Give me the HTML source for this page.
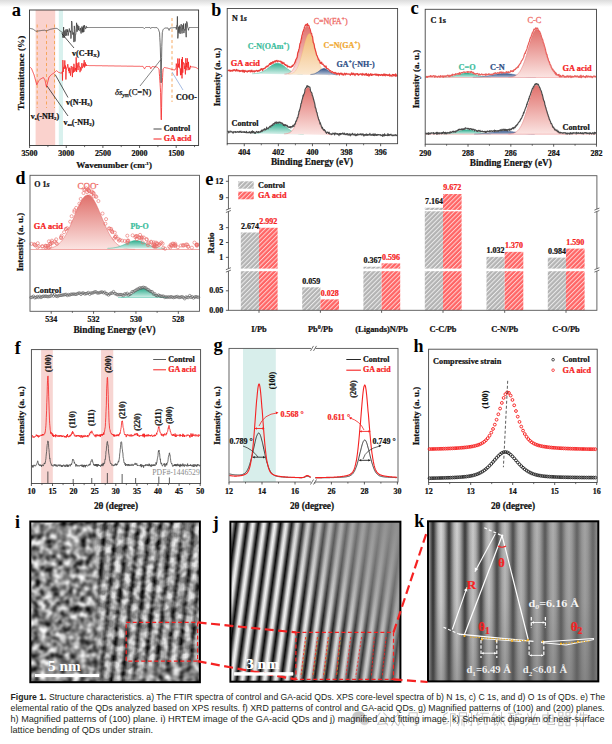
<!DOCTYPE html><html><head><meta charset="utf-8"><style>html,body{margin:0;padding:0;background:#fff;overflow:hidden}svg{display:block}</style></head><body>
<svg width="612" height="744" viewBox="0 0 612 744">
<defs>
<linearGradient id="topg" x1="0" y1="0" x2="0" y2="1"><stop offset="0" stop-color="#dcdcdc"/><stop offset="1" stop-color="#ffffff"/></linearGradient>
<linearGradient id="gRed" x1="0" y1="0" x2="0" y2="1"><stop offset="0" stop-color="#e0706b"/><stop offset="1" stop-color="#fbe4e2"/></linearGradient>
<linearGradient id="gTeal" x1="0" y1="0" x2="0" y2="1"><stop offset="0" stop-color="#2fae8e"/><stop offset="1" stop-color="#d2efe8"/></linearGradient>
<linearGradient id="gOr" x1="0" y1="0" x2="0" y2="1"><stop offset="0" stop-color="#f2bd74"/><stop offset="1" stop-color="#fbe8cf"/></linearGradient>
<linearGradient id="gBlue" x1="0" y1="0" x2="0" y2="1"><stop offset="0" stop-color="#34558a"/><stop offset="1" stop-color="#b8c4d8"/></linearGradient>
<pattern id="hG" patternUnits="userSpaceOnUse" width="3.2" height="3.2" patternTransform="rotate(45)"><rect width="3.2" height="3.2" fill="#b3b3b3"/><rect width="1" height="3.2" fill="#ececec"/></pattern>
<pattern id="hR" patternUnits="userSpaceOnUse" width="3.2" height="3.2" patternTransform="rotate(45)"><rect width="3.2" height="3.2" fill="#ff6464"/><rect width="1" height="3.2" fill="#ffd0d0"/></pattern>
</defs>
<rect x="0" y="0" width="612" height="744" fill="#fff"/>
<rect x="0" y="0" width="612" height="7" fill="url(#topg)"/>
<rect x="35.6" y="10" width="19.6" height="135.5" fill="#fad2cd"/>
<rect x="58.8" y="10" width="4.2" height="135.5" fill="#d9f1ee"/>
<line x1="37.2" y1="24.5" x2="37.2" y2="108" stroke="#f5a050" stroke-width="0.9" stroke-dasharray="3 2.5"/>
<line x1="46.5" y1="24.5" x2="46.5" y2="108" stroke="#f5a050" stroke-width="0.9" stroke-dasharray="3 2.5"/>
<line x1="54.5" y1="24.5" x2="54.5" y2="108" stroke="#f5a050" stroke-width="0.9" stroke-dasharray="3 2.5"/>
<line x1="172" y1="18" x2="172" y2="102" stroke="#f5a050" stroke-width="0.9" stroke-dasharray="3 2.5"/>
<polyline points="29.8,28.4 30.1,28.4 30.3,28.5 30.6,28.5 30.8,28.6 31.1,28.6 31.3,28.7 31.6,28.7 31.8,28.8 32,28.8 32.3,28.9 32.5,28.9 32.8,29 33,29 33.3,29.2 33.5,29.4 33.8,29.6 34,29.8 34.3,30 34.5,30.2 34.8,30.4 35,30.6 35.3,30.8 35.5,31 35.8,31.1 36,31.3 36.3,31.3 36.5,31.2 36.8,31.2 37,31.1 37.3,31.1 37.5,31.1 37.8,31 38,31 38.3,31 38.5,30.9 38.8,30.9 39,30.8 39.3,30.8 39.5,30.8 39.8,30.7 40,30.7 40.3,30.7 40.5,30.6 40.8,30.6 41,30.5 41.3,30.5 41.5,30.5 41.8,30.4 42,30.4 42.3,30.4 42.5,30.4 42.8,30.3 43,30.3 43.3,30.3 43.5,30.3 43.8,30.3 44,30.2 44.3,30.2 44.5,30.2 44.8,30.3 45,30.4 45.3,30.5 45.5,30.6 45.8,30.7 46,30.7 46.3,30.8 46.5,30.9 46.8,30.8 47,30.7 47.3,30.6 47.5,30.4 47.8,30.3 48,30.2 48.3,30.1 48.5,30 48.8,29.9 49,29.8 49.3,29.7 49.5,29.6 49.8,29.5 50,29.4 50.3,29.3 50.5,29.3 50.8,29.2 51,29.2 51.3,29.1 51.5,29.1 51.8,29 52,29 52.3,28.9 52.5,28.9 52.8,28.8 53,28.8 53.3,28.7 53.5,28.7 53.8,28.6 54,28.6 54.3,28.5 54.5,28.5 54.8,28.4 55,28.4 55.3,28.4 55.5,28.4 55.8,28.4 56,28.4 56.3,28.4 56.5,28.4 56.8,28.4 57,28.4 57.3,28.6 57.5,28.8 57.8,29 58,29.2 58.3,29.4 58.5,29.6 58.8,29.8 59,30 59.3,30.2 59.5,30.4 59.8,30.5 60,30.7 60.3,30.9 60.5,31.1 60.8,31.3 61,31.5 61.3,31.7 61.5,31.9 61.8,32.1 62,32.3 62.3,32.2 62.5,35.4 62.9,37.7 63.3,35.2 63.6,27 64,37.9 64.4,35.6 64.8,30.6 65.2,36.1 65.5,34.9 65.9,29.5 66.3,33.1 66.7,35.6 67.1,29.1 67.4,31.9 67.8,30.3 68.2,35.6 68.6,32.7 69,31 69.3,28.5 69.7,31 70.1,32.3 70.5,30.8 70.9,38.6 71.2,37.1 71.6,21 72,22.4 72.4,30.9 72.8,34.6 73.1,32.7 73.5,32.7 73.9,42.1 74.3,25.9 74.7,29.5 75,41.5 75.4,34.5 75.8,34.5 76.2,28.5 76.6,22.8 76.9,31.8 77.3,31.4 77.7,24.7 78.1,27.4 78.5,30.2 78.8,26.1 79.2,29.9 79.6,30.7 80,30.3 80.4,27.9 80.7,32.4 81.1,33.5 81.5,31 81.9,26.5 82.3,32.3 82.6,27.6 83,32.4 83.4,25.6 83.8,32 84.2,28.9 84.5,25.2 84.9,27.9 85.3,28.7 85.7,29 86.1,26.3 86.4,26.3 86.8,28 87,27.5 87.3,27.5 87.5,27.5 87.8,27.5 88,27.5 88.3,27.5 88.5,27.5 88.8,27.5 89,27.5 89.3,27.5 89.5,27.5 89.8,27.5 90,27.5 90.3,27.5 90.5,27.5 90.8,27.5 91,27.5 91.3,27.5 91.5,27.5 91.8,27.5 92,27.5 92.3,27.5 92.5,27.5 92.8,27.5 93,27.5 93.3,27.5 93.5,27.5 93.8,27.5 94,27.5 94.3,27.5 94.5,27.5 94.8,27.5 95,27.5 95.3,27.5 95.5,27.5 95.8,27.5 96,27.5 96.3,27.5 96.5,27.5 96.8,27.5 97,27.5 97.3,27.5 97.5,27.5 97.8,27.5 98,27.5 98.3,27.5 98.5,27.5 98.8,27.5 99,27.5 99.3,27.5 99.5,27.5 99.8,27.5 100,27.5 100.3,27.5 100.5,27.5 100.8,27.5 101,27.5 101.3,27.5 101.5,27.5 101.8,27.5 102,27.5 102.3,27.5 102.5,27.5 102.8,27.5 103,27.5 103.3,27.5 103.5,27.5 103.8,27.5 104,27.5 104.3,27.5 104.5,27.5 104.8,27.5 105,27.5 105.3,27.5 105.5,27.5 105.8,27.5 106,27.5 106.3,27.5 106.5,27.5 106.8,27.5 107,27.5 107.3,27.5 107.5,27.5 107.8,27.5 108,27.5 108.3,27.5 108.5,27.5 108.8,27.5 109,27.5 109.3,27.5 109.5,27.5 109.8,27.5 110,27.5 110.3,27.5 110.5,27.5 110.8,27.5 111,27.5 111.3,27.5 111.5,27.5 111.8,27.5 112,27.5 112.3,27.5 112.5,27.5 112.8,27.5 113,27.5 113.3,27.5 113.5,27.5 113.8,27.5 114,27.5 114.3,27.5 114.5,27.5 114.8,27.5 115,27.5 115.3,27.5 115.5,27.5 115.8,27.5 116,27.5 116.3,27.5 116.5,27.5 116.8,27.5 117,27.5 117.3,27.5 117.5,27.5 117.8,27.5 118,27.5 118.3,27.5 118.5,27.5 118.8,27.5 119,27.5 119.3,27.5 119.5,27.5 119.8,27.5 120,27.5 120.3,27.5 120.5,27.5 120.8,27.5 121,27.5 121.3,27.5 121.5,27.5 121.8,27.5 122,27.5 122.3,27.5 122.5,27.5 122.8,27.5 123,27.5 123.3,27.5 123.5,27.5 123.8,27.5 124,27.5 124.3,27.5 124.5,27.5 124.8,27.5 125,27.5 125.3,27.5 125.5,27.5 125.8,27.5 126,27.5 126.3,27.5 126.5,27.5 126.8,27.5 127,27.5 127.3,27.5 127.5,27.5 127.8,27.5 128.1,27.5 128.3,27.5 128.6,27.5 128.8,27.5 129.1,27.5 129.3,27.5 129.6,27.5 129.8,27.5 130.1,27.5 130.3,27.5 130.6,27.5 130.8,27.5 131.1,27.5 131.3,27.5 131.6,27.5 131.8,27.5 132.1,27.5 132.3,27.5 132.6,27.5 132.8,27.5 133.1,27.5 133.3,27.5 133.6,27.5 133.8,27.5 134.1,27.5 134.3,27.5 134.6,27.5 134.8,27.5 135.1,27.5 135.3,27.5 135.6,27.5 135.8,27.5 136.1,27.5 136.3,27.5 136.6,27.5 136.8,27.5 137.1,27.5 137.3,27.5 137.6,27.5 137.8,27.5 138.1,27.5 138.3,27.5 138.6,27.5 138.8,27.5 139.1,27.5 139.3,27.5 139.6,27.5 139.8,27.5 140.1,27.5 140.3,27.5 140.6,27.5 140.8,27.5 141.1,27.5 141.3,27.5 141.6,27.5 141.8,27.5 142.1,27.5 142.3,27.5 142.6,27.5 142.8,27.5 143.1,27.5 143.3,27.7 143.6,27.9 143.8,28.1 144.1,28.3 144.3,28.5 144.6,28.4 144.8,28.2 145.1,27.9 145.3,27.7 145.6,27.5 145.8,27.5 146.1,27.5 146.3,27.5 146.6,27.5 146.8,27.5 147.1,27.5 147.3,27.5 147.6,27.5 147.8,27.5 148.1,27.5 148.3,27.5 148.6,27.5 148.8,27.5 149.1,27.5 149.3,27.5 149.6,27.5 149.8,27.5 150.1,27.6 150.3,28 150.6,28.4 150.8,28.5 151.1,28.1 151.3,27.8 151.6,27.5 151.8,27.5 152.1,27.5 152.3,27.5 152.6,27.5 152.8,27.5 153.1,27.5 153.3,27.5 153.6,27.5 153.8,27.5 154.1,27.5 154.3,27.6 154.6,27.6 154.8,27.6 155.1,27.6 155.3,27.6 155.6,27.6 155.8,27.6 156.1,27.6 156.3,27.6 156.6,27.6 156.8,27.6 157.1,27.7 157.3,28 157.6,28.3 157.8,28.6 158.1,28.9 158.3,29.2 158.6,29.7 158.8,30.5 159.1,31.3 159.3,32 159.6,32.8 159.8,37.3 160.1,42.6 160.3,47.9 160.6,58.9 160.8,73.6 161.1,82.9 161.3,70.2 161.6,57.6 161.8,46.6 162.1,38.1 162.3,32.6 162.6,31.5 162.8,30.4 163.1,29.5 163.3,29.3 163.6,29.1 163.8,28.9 164.1,28.7 164.3,28.5 164.6,28.3 164.8,28.1 165.1,28 165.3,28 165.6,28 165.8,28 166.1,28 166.3,28 166.6,28 166.8,28 167.1,28 167.3,28 167.6,28 167.8,28 168.1,28.1 168.3,28.8 168.6,29.4 168.8,30 169.1,30.4 169.3,29.7 169.6,29.1 169.8,28.5 170.1,28 170.3,28 170.6,28 170.8,27.9 171.1,27.9 171.3,27.9 171.6,27.9 171.8,27.8 172.1,27.8 172.3,27.8 172.6,27.8 172.8,27.8 173.1,27.7 173.3,27.7 173.6,27.7 173.8,27.7 174.1,27.7 174.3,27.6 174.6,27.6 174.8,27.6 175.1,27.6 175.3,27.6 175.6,27.5 175.8,27.5 176.1,27.5 176.3,29.5 176.7,25.6 177.1,26.2 177.4,16.4 177.8,38.4 178.2,34.8 178.6,26.7 179,32.8 179.3,30 179.7,25.5 180.1,33.9 180.5,26.8 180.9,26.7 181.2,24.1 181.6,31 182,33.5 182.4,31.5 182.8,25.2 183.1,29.2 183.5,23.6 183.9,33.1 184.3,29.5 184.7,30.1 185,30.4 185.4,23.5 185.8,31.9 186.2,37.2 186.6,21.5 186.9,21.6 187.3,22.8 187.7,27.6 188.1,28.4 188.5,30.3 188.8,28.7 189.1,27.5 189.3,27.5 189.6,27.5 189.8,27.5 190.1,27.5 190.3,27.5 190.6,27.5 190.8,27.5 191.1,27.5 191.3,27.5 191.6,27.5 191.8,27.5 192.1,27.5 192.3,27.5 192.6,27.5 192.8,27.5 193.1,27.5 193.3,27.5 193.6,27.5 193.8,27.5 194.1,27.5 194.3,27.5 194.6,27.5 194.8,27.5 195.1,27.5 195.3,27.5 195.6,27.5 195.8,27.5 196.1,27.5 196.3,27.5 196.6,27.5 196.8,27.5 197.1,27.5 197.3,27.5 197.6,27.5 197.8,27.5 198.1,27.5" fill="none" stroke="#3a3a3a" stroke-width="0.75" stroke-linejoin="round"/>
<polyline points="29.8,67.1 30.1,67.3 30.3,67.5 30.6,67.7 30.8,67.9 31.1,68.1 31.3,68.3 31.6,68.6 31.8,69.2 32,69.8 32.3,70.5 32.5,71.1 32.8,71.7 33,72.3 33.3,72.9 33.5,73.5 33.8,74.1 34,74.8 34.3,75.7 34.5,76.6 34.8,77.5 35,78.4 35.3,79.3 35.5,80.2 35.8,81.1 36,82 36.3,82.9 36.5,83.8 36.8,84.7 37,84.7 37.3,84.1 37.5,83.4 37.8,82.8 38,82.2 38.3,81.5 38.5,81 38.8,80.7 39,80.5 39.3,80.2 39.5,80 39.8,79.7 40,79.5 40.3,79.2 40.5,79 40.8,78.8 41,78.7 41.3,78.6 41.5,78.5 41.8,78.3 42,78.2 42.3,78.1 42.5,77.9 42.8,77.8 43,77.7 43.3,77.6 43.5,77.7 43.8,78.1 44,78.5 44.3,78.9 44.5,79.3 44.8,79.7 45,80.2 45.3,81.4 45.5,82.6 45.8,83.7 46,84.9 46.3,86.1 46.5,86.8 46.8,85.8 47,84.8 47.3,83.8 47.5,82.8 47.8,81.8 48,80.8 48.3,79.9 48.5,78.9 48.8,78 49,77.1 49.3,76.9 49.5,76.6 49.8,76.3 50,76 50.3,75.8 50.5,75.5 50.8,75.2 51,75 51.3,74.8 51.5,74.6 51.8,74.5 52,74.3 52.3,74.1 52.5,73.9 52.8,73.8 53,73.6 53.3,73.4 53.5,73.3 53.8,73 54,72.8 54.3,72.6 54.5,72.4 54.8,72.2 55,72 55.3,71.7 55.5,71.5 55.8,71.3 56,71.1 56.3,70.9 56.5,70.7 56.8,70.9 57,71.1 57.3,71.3 57.5,71.5 57.8,71.7 58,71.9 58.3,72.1 58.5,72.3 58.8,72.4 59,72.5 59.3,72.6 59.5,72.6 59.8,72.7 60,72.8 60.3,72.9 60.5,73 60.8,73.1 61,73.1 61.3,73.2 61.5,73.2 61.8,72.6 62,72.1 62.3,71.5 62.5,80.5 62.9,60.1 63.3,71.9 63.6,67.3 64,67.7 64.4,68.7 64.8,60.4 65.2,68.5 65.5,65.5 65.9,79.5 66.3,70.4 66.7,67.7 67.1,67.9 67.4,66.1 67.8,64.2 68.2,67.2 68.6,71.1 69,67.7 69.3,73.2 69.7,67.8 70.1,68.7 70.5,75.6 70.9,71 71.2,66.1 71.6,67.5 72,70.7 72.4,77.1 72.8,66.9 73.1,66.9 73.5,72.6 73.9,63.8 74.3,66.5 74.7,71.8 75,70.3 75.4,68 75.8,70.6 76.2,57.3 76.6,72 76.9,62.9 77.3,64.2 77.7,68.4 78.1,70.1 78.5,65.1 78.8,62.4 79.2,66.9 79.6,66.5 80,72.2 80.4,69.5 80.7,67.3 81.1,70.5 81.5,65.7 81.9,63.1 82.3,68.2 82.6,68 83,65.4 83.4,63.7 83.8,66.6 84.2,60.1 84.5,67.5 84.9,66.8 85.3,62.4 85.7,65.7 86.1,64.2 86.4,66 86.5,65.5 86.8,65.5 87,65.5 87.3,65.5 87.5,65.5 87.8,65.5 88,65.5 88.3,65.5 88.5,65.5 88.8,65.5 89,65.5 89.3,65.6 89.5,65.6 89.8,65.6 90,65.6 90.3,65.6 90.5,65.6 90.8,65.6 91,65.6 91.3,65.6 91.5,65.6 91.8,65.6 92,65.6 92.3,65.6 92.5,65.6 92.8,65.6 93,65.6 93.3,65.6 93.5,65.6 93.8,65.6 94,65.6 94.3,65.6 94.5,65.6 94.8,65.6 95,65.6 95.3,65.6 95.5,65.7 95.8,65.7 96,65.7 96.3,65.7 96.5,65.7 96.8,65.7 97,65.7 97.3,65.7 97.5,65.7 97.8,65.7 98,65.7 98.3,65.7 98.5,65.7 98.8,65.7 99,65.7 99.3,65.7 99.5,65.7 99.8,65.7 100,65.7 100.3,65.7 100.5,65.7 100.8,65.7 101,65.7 101.3,65.7 101.5,65.7 101.8,65.7 102,65.8 102.3,65.8 102.5,65.8 102.8,65.8 103,65.8 103.3,65.8 103.5,65.8 103.8,65.8 104,65.8 104.3,65.8 104.5,65.8 104.8,65.8 105,65.8 105.3,65.8 105.5,65.8 105.8,65.8 106,65.8 106.3,65.8 106.5,65.8 106.8,65.8 107,65.8 107.3,65.8 107.5,65.8 107.8,65.8 108,65.8 108.3,65.9 108.5,65.9 108.8,65.9 109,65.9 109.3,65.9 109.5,65.9 109.8,65.9 110,65.9 110.3,65.9 110.5,65.9 110.8,65.9 111,65.9 111.3,65.9 111.5,65.9 111.8,65.9 112,65.9 112.3,65.9 112.5,65.9 112.8,65.9 113,65.9 113.3,65.9 113.5,65.9 113.8,65.9 114,65.9 114.3,65.9 114.5,66 114.8,66 115,66 115.3,66 115.5,66 115.8,66 116,66 116.3,66 116.5,66 116.8,66 117,66 117.3,66 117.5,66 117.8,66 118,66 118.3,66 118.5,66 118.8,66 119,66 119.3,66 119.5,66 119.8,66 120,66 120.3,66 120.5,66 120.8,66 121,66.1 121.3,66.1 121.5,66.1 121.8,66.1 122,66.1 122.3,66.1 122.5,66.1 122.8,66.1 123,66.1 123.3,66.1 123.5,66.1 123.8,66.1 124,66.1 124.3,66.1 124.5,66.1 124.8,66.1 125,66.1 125.3,66.1 125.5,66.1 125.8,66.1 126,66.1 126.3,66.1 126.5,66.1 126.8,66.1 127,66.1 127.3,66.2 127.5,66.2 127.8,66.2 128.1,66.2 128.3,66.2 128.6,66.2 128.8,66.2 129.1,66.2 129.3,66.2 129.6,66.2 129.8,66.2 130.1,66.2 130.3,66.2 130.6,66.2 130.8,66.2 131.1,66.2 131.3,66.2 131.6,66.2 131.8,66.2 132.1,66.2 132.3,66.2 132.6,66.2 132.8,66.2 133.1,66.2 133.3,66.2 133.6,66.3 133.8,66.3 134.1,66.3 134.3,66.3 134.6,66.3 134.8,66.3 135.1,66.3 135.3,66.3 135.6,66.3 135.8,66.3 136.1,66.3 136.3,66.3 136.6,66.3 136.8,66.3 137.1,66.3 137.3,66.3 137.6,66.3 137.8,66.3 138.1,66.3 138.3,66.3 138.6,66.3 138.8,66.3 139.1,66.3 139.3,66.3 139.6,66.3 139.8,66.3 140.1,66.4 140.3,66.4 140.6,66.4 140.8,66.4 141.1,66.4 141.3,66.4 141.6,66.4 141.8,66.4 142.1,66.4 142.3,66.4 142.6,66.4 142.8,66.4 143.1,66.5 143.3,66.9 143.6,67.4 143.8,67.8 144.1,68.2 144.3,68.7 144.6,68.9 144.8,68.5 145.1,68.1 145.3,67.7 145.6,67.2 145.8,66.8 146.1,66.5 146.3,66.5 146.6,66.5 146.8,66.5 147.1,66.5 147.3,66.5 147.6,66.5 147.8,66.5 148.1,66.5 148.3,66.5 148.6,66.5 148.8,66.5 149.1,66.5 149.3,66.5 149.6,66.5 149.8,66.5 150.1,66.7 150.3,67.6 150.6,68.5 150.8,68.8 151.1,68.4 151.3,67.9 151.6,67.4 151.8,67 152.1,66.6 152.3,66.6 152.6,66.6 152.8,66.7 153.1,66.7 153.3,66.7 153.6,66.7 153.8,66.7 154.1,66.8 154.3,66.8 154.6,66.8 154.8,66.8 155.1,66.8 155.3,66.9 155.6,66.9 155.8,66.9 156.1,66.9 156.3,66.9 156.6,67 156.8,67 157.1,67.1 157.3,67.3 157.6,67.6 157.8,67.8 158.1,68.1 158.3,68.3 158.6,68.6 158.8,68.8 159.1,69.7 159.3,73.2 159.6,76.7 159.8,80.2 160.1,83.7 160.3,87.2 160.6,92.5 160.8,105 161.1,117.4 161.3,119.9 161.6,107.4 161.8,95 162.1,87.1 162.3,82.4 162.6,77.6 162.8,72.8 163.1,68.9 163.3,68.7 163.6,68.4 163.8,68.1 164.1,67.8 164.3,67.5 164.6,67.5 164.8,67.6 165.1,67.6 165.3,67.7 165.6,67.7 165.8,67.8 166.1,67.8 166.3,67.9 166.6,67.9 166.8,68 167.1,68 167.3,68.1 167.6,68.1 167.8,68.2 168.1,68.3 168.3,68.3 168.6,68.4 168.8,68.5 169.1,68.5 169.3,68.6 169.6,68.7 169.8,68.7 170.1,68.8 170.3,68.9 170.6,69 170.8,69.1 171.1,69.2 171.3,69.3 171.6,69.3 171.8,69.4 172.1,69.5 172.3,69.5 172.6,69.6 172.8,69.6 173.1,69.7 173.3,69.7 173.6,69.8 173.8,69.8 174.1,69.8 174.3,69.9 174.6,69.9 174.8,70 175.1,69.9 175.3,69.3 175.6,68.7 175.8,68.2 176.1,67.6 176.3,63.6 176.7,66.1 177.1,75.7 177.4,70.4 177.8,58.5 178.2,67 178.6,63.8 179,67.8 179.3,58.6 179.7,68.3 180.1,68.2 180.5,75.2 180.9,68.6 181.2,74.9 181.6,59.2 182,78.4 182.4,57 182.8,72.7 183.1,65.3 183.5,62.4 183.9,63.6 184.3,63.5 184.7,69 185,66.4 185.4,74.4 185.8,58.2 186.2,67 186.6,63 186.9,70.3 187.3,58.3 187.7,65.7 188.1,67.8 188.5,61.9 188.8,70.1 189.2,67.5 189.6,69.5 190,68.9 190.4,65.8 190.6,67 190.8,67 191.1,66.9 191.3,66.9 191.6,66.9 191.8,66.9 192.1,66.9 192.3,66.9 192.6,66.9 192.8,66.9 193.1,66.9 193.3,67 193.6,67 193.8,67.1 194.1,67.1 194.3,67.2 194.6,67.2 194.8,67.3 195.1,67.3 195.3,67.4 195.6,67.4 195.8,67.5 196.1,67.5 196.3,67.7 196.6,67.9 196.8,68 197.1,68.2 197.3,68.4 197.6,68.6 197.8,68.7 198.1,68.9" fill="none" stroke="#f52222" stroke-width="0.8" stroke-linejoin="round"/>
<rect x="29.5" y="10" width="169.1" height="135.5" fill="none" stroke="#333" stroke-width="0.9"/>
<text x="72" y="55.64" font-size="8" fill="#111" font-weight="bold" font-family="'Liberation Serif', serif" stroke="#111" stroke-width="0.22">v(C-H<tspan font-size="5" dy="1.5">X</tspan><tspan dy="-1.5">)</tspan></text>
<line x1="61.8" y1="33.6" x2="74" y2="48" stroke="#111" stroke-width="0.7"/>
<text x="66" y="104.64" font-size="8" fill="#111" font-weight="bold" font-family="'Liberation Serif', serif" stroke="#111" stroke-width="0.22">v(N-H<tspan font-size="5" dy="1.5">3</tspan><tspan dy="-1.5">)</tspan></text>
<line x1="55.2" y1="74.6" x2="68" y2="97.5" stroke="#111" stroke-width="0.7"/>
<text x="30.7" y="118.64" font-size="8" fill="#111" font-weight="bold" font-family="'Liberation Serif', serif" stroke="#111" stroke-width="0.22">v<tspan font-size="5" dy="1.5">s</tspan><tspan dy="-1.5">(-NH</tspan><tspan font-size="5" dy="1.5">2</tspan><tspan dy="-1.5">)</tspan></text>
<text x="63.4" y="124.64" font-size="8" fill="#111" font-weight="bold" font-family="'Liberation Serif', serif" stroke="#111" stroke-width="0.22">v<tspan font-size="5" dy="1.5">as</tspan><tspan dy="-1.5">(-NH</tspan><tspan font-size="5" dy="1.5">2</tspan><tspan dy="-1.5">)</tspan></text>
<line x1="47" y1="86" x2="68" y2="116" stroke="#111" stroke-width="0.7"/>
<text x="115" y="95.24" font-size="8.6" fill="#111" font-family="'Liberation Serif', serif" stroke="#111" stroke-width="0.25"><tspan font-style="italic">δs<tspan font-size="5.5" dy="1.5">ym</tspan></tspan><tspan dy="-1.5">(C=N)</tspan></text>
<line x1="140" y1="86" x2="160.5" y2="60" stroke="#333" stroke-width="0.6"/>
<text x="176" y="99.64" font-size="8" fill="#111" font-weight="bold" font-family="'Liberation Serif', serif" stroke="#111" stroke-width="0.22">COO-</text>
<line x1="172" y1="72" x2="183" y2="90" stroke="#6a8fd0" stroke-width="0.6"/>
<line x1="153.5" y1="129" x2="161.6" y2="129" stroke="#333" stroke-width="0.9"/>
<text x="163.7" y="130.94" font-size="8" fill="#111" font-weight="bold" font-family="'Liberation Serif', serif" stroke="#111" stroke-width="0.22">Control</text>
<line x1="153.5" y1="139" x2="161.6" y2="139" stroke="#f52222" stroke-width="1"/>
<text x="163.7" y="140.94" font-size="8" fill="#f52222" font-weight="bold" font-family="'Liberation Serif', serif" stroke="#f52222" stroke-width="0.22">GA acid</text>
<line x1="29.6" y1="145.5" x2="29.6" y2="148" stroke="#333" stroke-width="0.8"/>
<line x1="66.25" y1="145.5" x2="66.25" y2="148" stroke="#333" stroke-width="0.8"/>
<line x1="102.9" y1="145.5" x2="102.9" y2="148" stroke="#333" stroke-width="0.8"/>
<line x1="139.55" y1="145.5" x2="139.55" y2="148" stroke="#333" stroke-width="0.8"/>
<line x1="176.2" y1="145.5" x2="176.2" y2="148" stroke="#333" stroke-width="0.8"/>
<line x1="47.92" y1="145.5" x2="47.92" y2="147.1" stroke="#333" stroke-width="0.7"/>
<line x1="84.58" y1="145.5" x2="84.58" y2="147.1" stroke="#333" stroke-width="0.7"/>
<line x1="121.22" y1="145.5" x2="121.22" y2="147.1" stroke="#333" stroke-width="0.7"/>
<line x1="157.88" y1="145.5" x2="157.88" y2="147.1" stroke="#333" stroke-width="0.7"/>
<line x1="194.53" y1="145.5" x2="194.53" y2="147.1" stroke="#333" stroke-width="0.7"/>
<text x="29.6" y="156.04" font-size="8" fill="#111" text-anchor="middle" font-weight="bold" font-family="'Liberation Serif', serif" stroke="#111" stroke-width="0.22">3500</text>
<text x="66.25" y="156.04" font-size="8" fill="#111" text-anchor="middle" font-weight="bold" font-family="'Liberation Serif', serif" stroke="#111" stroke-width="0.22">3000</text>
<text x="102.9" y="156.04" font-size="8" fill="#111" text-anchor="middle" font-weight="bold" font-family="'Liberation Serif', serif" stroke="#111" stroke-width="0.22">2500</text>
<text x="139.55" y="156.04" font-size="8" fill="#111" text-anchor="middle" font-weight="bold" font-family="'Liberation Serif', serif" stroke="#111" stroke-width="0.22">2000</text>
<text x="176.2" y="156.04" font-size="8" fill="#111" text-anchor="middle" font-weight="bold" font-family="'Liberation Serif', serif" stroke="#111" stroke-width="0.22">1500</text>
<text x="114" y="167.97" font-size="9" fill="#111" text-anchor="middle" font-weight="bold" font-family="'Liberation Serif', serif" stroke="#111" stroke-width="0.22">Wavenumber (cm<tspan font-size="5" dy="-3">-1</tspan><tspan dy="3">)</tspan></text>
<text x="20.5" y="76.04" font-size="9.2" fill="#111" text-anchor="middle" font-weight="bold" transform="rotate(-90 20.5 73)" font-family="'Liberation Serif', serif" stroke="#111" stroke-width="0.22">Transmittance (%)</text>
<text x="11.8" y="16.2" font-size="18.5" fill="#000" font-weight="bold" font-family="'Liberation Serif', serif">a</text>
<g transform="matrix(1 0.01350 0 1 0 -3.067)">
<polygon points="252.1,73.4 252.5,73.4 252.8,73.3 253.2,73.3 253.5,73.3 253.8,73.3 254.2,73.2 254.5,73.2 254.9,73.2 255.2,73.1 255.5,73.1 255.9,73.1 256.2,73 256.6,73 256.9,72.9 257.2,72.9 257.6,72.8 257.9,72.7 258.3,72.7 258.6,72.6 258.9,72.5 259.3,72.4 259.6,72.3 260,72.2 260.3,72.1 260.6,72 261,71.8 261.3,71.7 261.6,71.6 262,71.4 262.3,71.3 262.7,71.1 263,70.9 263.3,70.8 263.7,70.6 264,70.4 264.4,70.2 264.7,70 265,69.7 265.4,69.5 265.7,69.3 266.1,69.1 266.4,68.8 266.7,68.6 267.1,68.3 267.4,68.1 267.8,67.8 268.1,67.5 268.4,67.3 268.8,67 269.1,66.7 269.5,66.5 269.8,66.2 270.1,65.9 270.5,65.7 270.8,65.4 271.2,65.2 271.5,64.9 271.8,64.7 272.2,64.5 272.5,64.2 272.9,64 273.2,63.8 273.5,63.6 273.9,63.5 274.2,63.3 274.5,63.1 274.9,63 275.2,62.9 275.6,62.8 275.9,62.7 276.2,62.6 276.6,62.6 276.9,62.5 277.3,62.5 277.6,62.5 277.9,62.5 278.3,62.5 278.6,62.6 279,62.7 279.3,62.7 279.6,62.8 280,63 280.3,63.1 280.7,63.2 281,63.4 281.3,63.6 281.7,63.8 282,63.9 282.4,64.2 282.7,64.4 283,64.6 283.4,64.8 283.7,65.1 284.1,65.3 284.4,65.6 284.7,65.8 285.1,66.1 285.4,66.4 285.8,66.6 286.1,66.9 286.4,67.2 286.8,67.4 287.1,67.7 287.4,68 287.8,68.2 288.1,68.5 288.5,68.7 288.8,69 289.1,69.2 289.5,69.4 289.8,69.7 290.2,69.9 290.5,70.1 290.8,70.3 291.2,70.5 291.5,70.7 291.9,70.9 292.2,71 292.5,71.2 292.9,71.4 293.2,71.5 293.6,71.7 293.9,71.8 294.2,71.9 294.6,72 294.9,72.2 295.3,72.3 295.6,72.4 295.9,72.5 296.3,72.5 296.6,72.6 297,72.7 297.3,72.8 297.6,72.8 298,72.9 298.3,73 298.7,73 299,73 299.3,73.1 299.7,73.1 300,73.2 300.3,73.2 300.7,73.2 301,73.3 301.4,73.3 301.7,73.3 302,73.3 302.4,73.3 302.7,73.4 302.7,73.5 252.1,73.5" fill="url(#gTeal)"/>
<polyline points="252.1,73.4 252.5,73.4 252.8,73.3 253.2,73.3 253.5,73.3 253.8,73.3 254.2,73.2 254.5,73.2 254.9,73.2 255.2,73.1 255.5,73.1 255.9,73.1 256.2,73 256.6,73 256.9,72.9 257.2,72.9 257.6,72.8 257.9,72.7 258.3,72.7 258.6,72.6 258.9,72.5 259.3,72.4 259.6,72.3 260,72.2 260.3,72.1 260.6,72 261,71.8 261.3,71.7 261.6,71.6 262,71.4 262.3,71.3 262.7,71.1 263,70.9 263.3,70.8 263.7,70.6 264,70.4 264.4,70.2 264.7,70 265,69.7 265.4,69.5 265.7,69.3 266.1,69.1 266.4,68.8 266.7,68.6 267.1,68.3 267.4,68.1 267.8,67.8 268.1,67.5 268.4,67.3 268.8,67 269.1,66.7 269.5,66.5 269.8,66.2 270.1,65.9 270.5,65.7 270.8,65.4 271.2,65.2 271.5,64.9 271.8,64.7 272.2,64.5 272.5,64.2 272.9,64 273.2,63.8 273.5,63.6 273.9,63.5 274.2,63.3 274.5,63.1 274.9,63 275.2,62.9 275.6,62.8 275.9,62.7 276.2,62.6 276.6,62.6 276.9,62.5 277.3,62.5 277.6,62.5 277.9,62.5 278.3,62.5 278.6,62.6 279,62.7 279.3,62.7 279.6,62.8 280,63 280.3,63.1 280.7,63.2 281,63.4 281.3,63.6 281.7,63.8 282,63.9 282.4,64.2 282.7,64.4 283,64.6 283.4,64.8 283.7,65.1 284.1,65.3 284.4,65.6 284.7,65.8 285.1,66.1 285.4,66.4 285.8,66.6 286.1,66.9 286.4,67.2 286.8,67.4 287.1,67.7 287.4,68 287.8,68.2 288.1,68.5 288.5,68.7 288.8,69 289.1,69.2 289.5,69.4 289.8,69.7 290.2,69.9 290.5,70.1 290.8,70.3 291.2,70.5 291.5,70.7 291.9,70.9 292.2,71 292.5,71.2 292.9,71.4 293.2,71.5 293.6,71.7 293.9,71.8 294.2,71.9 294.6,72 294.9,72.2 295.3,72.3 295.6,72.4 295.9,72.5 296.3,72.5 296.6,72.6 297,72.7 297.3,72.8 297.6,72.8 298,72.9 298.3,73 298.7,73 299,73 299.3,73.1 299.7,73.1 300,73.2 300.3,73.2 300.7,73.2 301,73.3 301.4,73.3 301.7,73.3 302,73.3 302.4,73.3 302.7,73.4" fill="none" stroke="#2fae8e" stroke-width="0.4"/>
<polygon points="284.4,73.4 284.7,73.3 285.1,73.3 285.4,73.3 285.8,73.2 286.1,73.2 286.4,73.1 286.8,73.1 287.1,73 287.4,72.9 287.8,72.8 288.1,72.7 288.5,72.6 288.8,72.4 289.1,72.3 289.5,72.1 289.8,71.9 290.2,71.6 290.5,71.4 290.8,71.1 291.2,70.8 291.5,70.4 291.9,70 292.2,69.6 292.5,69.1 292.9,68.6 293.2,68 293.6,67.4 293.9,66.7 294.2,66 294.6,65.3 294.9,64.4 295.3,63.5 295.6,62.6 295.9,61.6 296.3,60.5 296.6,59.4 297,58.3 297.3,57.1 297.6,55.8 298,54.5 298.3,53.1 298.7,51.7 299,50.3 299.3,48.8 299.7,47.3 300,45.8 300.3,44.3 300.7,42.8 301,41.3 301.4,39.8 301.7,38.3 302,36.9 302.4,35.5 302.7,34.2 303.1,32.9 303.4,31.7 303.7,30.6 304.1,29.5 304.4,28.6 304.8,27.7 305.1,27 305.4,26.3 305.8,25.8 306.1,25.4 306.5,25.2 306.8,25 307.1,25 307.5,25.1 307.8,25.4 308.2,25.7 308.5,26.2 308.8,26.8 309.2,27.6 309.5,28.4 309.9,29.3 310.2,30.4 310.5,31.5 310.9,32.7 311.2,33.9 311.6,35.3 311.9,36.6 312.2,38.1 312.6,39.5 312.9,41 313.2,42.5 313.6,44 313.9,45.5 314.3,47 314.6,48.5 314.9,50 315.3,51.4 315.6,52.9 316,54.2 316.3,55.5 316.6,56.8 317,58 317.3,59.2 317.7,60.3 318,61.4 318.3,62.4 318.7,63.4 319,64.3 319.4,65.1 319.7,65.9 320,66.6 320.4,67.3 320.7,67.9 321.1,68.5 321.4,69 321.7,69.5 322.1,69.9 322.4,70.3 322.8,70.7 323.1,71 323.4,71.3 323.8,71.6 324.1,71.8 324.5,72 324.8,72.2 325.1,72.4 325.5,72.5 325.8,72.7 326.1,72.8 326.5,72.9 326.8,73 327.2,73 327.5,73.1 327.8,73.2 328.2,73.2 328.5,73.3 328.9,73.3 329.2,73.3 329.5,73.4 329.5,73.5 284.4,73.5" fill="url(#gRed)"/>
<polyline points="284.4,73.4 284.7,73.3 285.1,73.3 285.4,73.3 285.8,73.2 286.1,73.2 286.4,73.1 286.8,73.1 287.1,73 287.4,72.9 287.8,72.8 288.1,72.7 288.5,72.6 288.8,72.4 289.1,72.3 289.5,72.1 289.8,71.9 290.2,71.6 290.5,71.4 290.8,71.1 291.2,70.8 291.5,70.4 291.9,70 292.2,69.6 292.5,69.1 292.9,68.6 293.2,68 293.6,67.4 293.9,66.7 294.2,66 294.6,65.3 294.9,64.4 295.3,63.5 295.6,62.6 295.9,61.6 296.3,60.5 296.6,59.4 297,58.3 297.3,57.1 297.6,55.8 298,54.5 298.3,53.1 298.7,51.7 299,50.3 299.3,48.8 299.7,47.3 300,45.8 300.3,44.3 300.7,42.8 301,41.3 301.4,39.8 301.7,38.3 302,36.9 302.4,35.5 302.7,34.2 303.1,32.9 303.4,31.7 303.7,30.6 304.1,29.5 304.4,28.6 304.8,27.7 305.1,27 305.4,26.3 305.8,25.8 306.1,25.4 306.5,25.2 306.8,25 307.1,25 307.5,25.1 307.8,25.4 308.2,25.7 308.5,26.2 308.8,26.8 309.2,27.6 309.5,28.4 309.9,29.3 310.2,30.4 310.5,31.5 310.9,32.7 311.2,33.9 311.6,35.3 311.9,36.6 312.2,38.1 312.6,39.5 312.9,41 313.2,42.5 313.6,44 313.9,45.5 314.3,47 314.6,48.5 314.9,50 315.3,51.4 315.6,52.9 316,54.2 316.3,55.5 316.6,56.8 317,58 317.3,59.2 317.7,60.3 318,61.4 318.3,62.4 318.7,63.4 319,64.3 319.4,65.1 319.7,65.9 320,66.6 320.4,67.3 320.7,67.9 321.1,68.5 321.4,69 321.7,69.5 322.1,69.9 322.4,70.3 322.8,70.7 323.1,71 323.4,71.3 323.8,71.6 324.1,71.8 324.5,72 324.8,72.2 325.1,72.4 325.5,72.5 325.8,72.7 326.1,72.8 326.5,72.9 326.8,73 327.2,73 327.5,73.1 327.8,73.2 328.2,73.2 328.5,73.3 328.9,73.3 329.2,73.3 329.5,73.4" fill="none" stroke="#e06060" stroke-width="0.4"/>
<polygon points="288.1,73.4 288.5,73.3 288.8,73.3 289.1,73.3 289.5,73.2 289.8,73.2 290.2,73.1 290.5,73 290.8,73 291.2,72.9 291.5,72.8 291.9,72.6 292.2,72.5 292.5,72.4 292.9,72.2 293.2,72 293.6,71.8 293.9,71.5 294.2,71.2 294.6,70.9 294.9,70.6 295.3,70.2 295.6,69.8 295.9,69.3 296.3,68.8 296.6,68.3 297,67.7 297.3,67 297.6,66.3 298,65.6 298.3,64.8 298.7,63.9 299,63 299.3,62.1 299.7,61.1 300,60 300.3,58.9 300.7,57.7 301,56.5 301.4,55.3 301.7,54 302,52.8 302.4,51.4 302.7,50.1 303.1,48.8 303.4,47.4 303.7,46.1 304.1,44.8 304.4,43.5 304.8,42.2 305.1,41 305.4,39.8 305.8,38.7 306.1,37.7 306.5,36.7 306.8,35.9 307.1,35.1 307.5,34.4 307.8,33.8 308.2,33.3 308.5,32.9 308.8,32.7 309.2,32.5 309.5,32.5 309.9,32.6 310.2,32.8 310.5,33.2 310.9,33.6 311.2,34.2 311.6,34.8 311.9,35.6 312.2,36.4 312.6,37.4 312.9,38.4 313.2,39.5 313.6,40.6 313.9,41.8 314.3,43.1 314.6,44.4 314.9,45.7 315.3,47 315.6,48.3 316,49.7 316.3,51 316.6,52.3 317,53.6 317.3,54.9 317.7,56.1 318,57.4 318.3,58.5 318.7,59.6 319,60.7 319.4,61.7 319.7,62.7 320,63.6 320.4,64.5 320.7,65.3 321.1,66.1 321.4,66.8 321.7,67.5 322.1,68.1 322.4,68.6 322.8,69.2 323.1,69.6 323.4,70.1 323.8,70.5 324.1,70.8 324.5,71.1 324.8,71.4 325.1,71.7 325.5,71.9 325.8,72.1 326.1,72.3 326.5,72.5 326.8,72.6 327.2,72.7 327.5,72.8 327.8,72.9 328.2,73 328.5,73.1 328.9,73.2 329.2,73.2 329.5,73.3 329.9,73.3 330.2,73.3 330.6,73.4 330.9,73.4 330.9,73.5 288.1,73.5" fill="url(#gOr)" opacity="0.95"/>
<polyline points="288.1,73.4 288.5,73.3 288.8,73.3 289.1,73.3 289.5,73.2 289.8,73.2 290.2,73.1 290.5,73 290.8,73 291.2,72.9 291.5,72.8 291.9,72.6 292.2,72.5 292.5,72.4 292.9,72.2 293.2,72 293.6,71.8 293.9,71.5 294.2,71.2 294.6,70.9 294.9,70.6 295.3,70.2 295.6,69.8 295.9,69.3 296.3,68.8 296.6,68.3 297,67.7 297.3,67 297.6,66.3 298,65.6 298.3,64.8 298.7,63.9 299,63 299.3,62.1 299.7,61.1 300,60 300.3,58.9 300.7,57.7 301,56.5 301.4,55.3 301.7,54 302,52.8 302.4,51.4 302.7,50.1 303.1,48.8 303.4,47.4 303.7,46.1 304.1,44.8 304.4,43.5 304.8,42.2 305.1,41 305.4,39.8 305.8,38.7 306.1,37.7 306.5,36.7 306.8,35.9 307.1,35.1 307.5,34.4 307.8,33.8 308.2,33.3 308.5,32.9 308.8,32.7 309.2,32.5 309.5,32.5 309.9,32.6 310.2,32.8 310.5,33.2 310.9,33.6 311.2,34.2 311.6,34.8 311.9,35.6 312.2,36.4 312.6,37.4 312.9,38.4 313.2,39.5 313.6,40.6 313.9,41.8 314.3,43.1 314.6,44.4 314.9,45.7 315.3,47 315.6,48.3 316,49.7 316.3,51 316.6,52.3 317,53.6 317.3,54.9 317.7,56.1 318,57.4 318.3,58.5 318.7,59.6 319,60.7 319.4,61.7 319.7,62.7 320,63.6 320.4,64.5 320.7,65.3 321.1,66.1 321.4,66.8 321.7,67.5 322.1,68.1 322.4,68.6 322.8,69.2 323.1,69.6 323.4,70.1 323.8,70.5 324.1,70.8 324.5,71.1 324.8,71.4 325.1,71.7 325.5,71.9 325.8,72.1 326.1,72.3 326.5,72.5 326.8,72.6 327.2,72.7 327.5,72.8 327.8,72.9 328.2,73 328.5,73.1 328.9,73.2 329.2,73.2 329.5,73.3 329.9,73.3 330.2,73.3 330.6,73.4 330.9,73.4" fill="none" stroke="#f2b060" stroke-width="0.3" opacity="0.95"/>
<polygon points="310.5,73.4 310.9,73.4 311.2,73.3 311.6,73.3 311.9,73.2 312.2,73.2 312.6,73.1 312.9,73.1 313.2,73 313.6,72.9 313.9,72.8 314.3,72.7 314.6,72.6 314.9,72.5 315.3,72.3 315.6,72.1 316,72 316.3,71.8 316.6,71.6 317,71.4 317.3,71.1 317.7,70.9 318,70.7 318.3,70.4 318.7,70.1 319,69.9 319.4,69.6 319.7,69.4 320,69.1 320.4,68.8 320.7,68.6 321.1,68.4 321.4,68.1 321.7,68 322.1,67.8 322.4,67.6 322.8,67.5 323.1,67.4 323.4,67.3 323.8,67.3 324.1,67.3 324.5,67.3 324.8,67.4 325.1,67.5 325.5,67.6 325.8,67.7 326.1,67.9 326.5,68.1 326.8,68.3 327.2,68.5 327.5,68.8 327.8,69 328.2,69.3 328.5,69.5 328.9,69.8 329.2,70.1 329.5,70.3 329.9,70.6 330.2,70.8 330.6,71.1 330.9,71.3 331.2,71.5 331.6,71.7 331.9,71.9 332.3,72.1 332.6,72.3 332.9,72.4 333.3,72.5 333.6,72.7 334,72.8 334.3,72.9 334.6,73 335,73 335.3,73.1 335.7,73.2 336,73.2 336.3,73.3 336.7,73.3 337,73.3 337.4,73.4 337.4,73.5 310.5,73.5" fill="url(#gBlue)"/>
<polyline points="310.5,73.4 310.9,73.4 311.2,73.3 311.6,73.3 311.9,73.2 312.2,73.2 312.6,73.1 312.9,73.1 313.2,73 313.6,72.9 313.9,72.8 314.3,72.7 314.6,72.6 314.9,72.5 315.3,72.3 315.6,72.1 316,72 316.3,71.8 316.6,71.6 317,71.4 317.3,71.1 317.7,70.9 318,70.7 318.3,70.4 318.7,70.1 319,69.9 319.4,69.6 319.7,69.4 320,69.1 320.4,68.8 320.7,68.6 321.1,68.4 321.4,68.1 321.7,68 322.1,67.8 322.4,67.6 322.8,67.5 323.1,67.4 323.4,67.3 323.8,67.3 324.1,67.3 324.5,67.3 324.8,67.4 325.1,67.5 325.5,67.6 325.8,67.7 326.1,67.9 326.5,68.1 326.8,68.3 327.2,68.5 327.5,68.8 327.8,69 328.2,69.3 328.5,69.5 328.9,69.8 329.2,70.1 329.5,70.3 329.9,70.6 330.2,70.8 330.6,71.1 330.9,71.3 331.2,71.5 331.6,71.7 331.9,71.9 332.3,72.1 332.6,72.3 332.9,72.4 333.3,72.5 333.6,72.7 334,72.8 334.3,72.9 334.6,73 335,73 335.3,73.1 335.7,73.2 336,73.2 336.3,73.3 336.7,73.3 337,73.3 337.4,73.4" fill="none" stroke="#2a4a80" stroke-width="0.6"/>
<polyline points="227.7,70.6 228,70.8 228.4,70.5 228.7,70.1 229.1,70.4 229.4,70 229.7,70.7 230.1,71.4 230.4,70.4 230.8,70.3 231.1,71 231.4,70.9 231.8,70.7 232.1,70.1 232.5,70.7 232.8,71.1 233.1,69.9 233.5,70.4 233.8,69.6 234.2,69.9 234.5,69.6 234.8,70.6 235.2,70 235.5,70.9 235.8,70.8 236.2,70.6 236.5,69.2 236.9,70.4 237.2,70.7 237.5,70.8 237.9,69.8 238.2,70.5 238.6,70.2 238.9,70.3 239.2,71.4 239.6,70.3 239.9,70.8 240.3,71.3 240.6,70.5 240.9,70.7 241.3,70.9 241.6,70.9 242,70.1 242.3,70.9 242.6,71.6 243,69.9 243.3,71.4 243.7,70.9 244,70.5 244.3,72.1 244.7,71.3 245,70.1 245.4,70.9 245.7,71.2 246,70.8 246.4,71.3 246.7,70.8 247.1,71.3 247.4,71.8 247.7,70.5 248.1,71 248.4,70.6 248.7,71 249.1,70.2 249.4,70.5 249.8,70.8 250.1,71.4 250.4,71.6 250.8,70.1 251.1,70.4 251.5,71.3 251.8,69.7 252.1,70.6 252.5,70.8 252.8,71.6 253.2,71.2 253.5,70.6 253.8,70.6 254.2,70.6 254.5,71.6 254.9,70.4 255.2,70.5 255.5,70.9 255.9,70.5 256.2,70.4 256.6,69.9 256.9,70.5 257.2,70.2 257.6,71.1 257.9,70.7 258.3,70.2 258.6,70.6 258.9,69.9 259.3,70.6 259.6,69.9 260,70.1 260.3,68.9 260.6,69.8 261,68.4 261.3,68.1 261.6,69 262,68.5 262.3,69 262.7,70.1 263,68.1 263.3,68 263.7,68.3 264,68.3 264.4,67.7 264.7,67.5 265,67.8 265.4,67.5 265.7,66.4 266.1,66.7 266.4,66.5 266.7,65.6 267.1,66.2 267.4,65.3 267.8,66.1 268.1,65.4 268.4,65.1 268.8,64.4 269.1,64.4 269.5,63 269.8,63.3 270.1,63.9 270.5,62.2 270.8,63.7 271.2,61.9 271.5,63.2 271.8,62 272.2,62.7 272.5,62.1 272.9,60.9 273.2,62.4 273.5,62.3 273.9,61.2 274.2,60.9 274.5,60.9 274.9,60.2 275.2,61.4 275.6,60.3 275.9,60.5 276.2,60 276.6,60 276.9,59.6 277.3,61.1 277.6,60.3 277.9,61 278.3,60.4 278.6,60.1 279,60.3 279.3,60.3 279.6,60.7 280,60.6 280.3,60.8 280.7,60.3 281,60.8 281.3,62.5 281.7,61.2 282,61.2 282.4,62.3 282.7,63.1 283,61.6 283.4,62.6 283.7,62.6 284.1,62.1 284.4,63.9 284.7,63.6 285.1,63.9 285.4,63.7 285.8,64.6 286.1,64.3 286.4,64.7 286.8,64.3 287.1,64.5 287.4,66.2 287.8,65.2 288.1,65.9 288.5,65.8 288.8,65.6 289.1,65.7 289.5,66.4 289.8,65.9 290.2,66 290.5,66 290.8,66.6 291.2,66.2 291.5,65.9 291.9,65.1 292.2,64.4 292.5,65.5 292.9,65.1 293.2,64 293.6,64 293.9,63.6 294.2,63.1 294.6,62.5 294.9,60.9 295.3,61.3 295.6,58.9 295.9,59.2 296.3,58 296.6,57.2 297,56.8 297.3,55.4 297.6,52.6 298,51 298.3,51.2 298.7,48.8 299,48 299.3,47.1 299.7,44.2 300,42.4 300.3,42.4 300.7,40.8 301,39.1 301.4,37.8 301.7,35.9 302,34.1 302.4,33.5 302.7,31.7 303.1,30.1 303.4,30.2 303.7,28.7 304.1,27.9 304.4,26.2 304.8,25.5 305.1,24.6 305.4,24 305.8,24.2 306.1,23.2 306.5,23.6 306.8,23.5 307.1,24.5 307.5,22.6 307.8,24.2 308.2,24 308.5,24.5 308.8,24.3 309.2,25.6 309.5,27.1 309.9,27.6 310.2,28.7 310.5,29.5 310.9,31.6 311.2,32.1 311.6,32.1 311.9,34.4 312.2,35 312.6,35.6 312.9,38.7 313.2,41.2 313.6,41.9 313.9,42.6 314.3,44.1 314.6,46.7 314.9,47.5 315.3,48.7 315.6,49.9 316,51.2 316.3,52.8 316.6,53.7 317,54.5 317.3,54.7 317.7,56.5 318,56.6 318.3,58.5 318.7,57.7 319,59.1 319.4,59.7 319.7,59.4 320,61.7 320.4,62 320.7,61.2 321.1,62.3 321.4,62.4 321.7,60.9 322.1,62.9 322.4,63 322.8,63.3 323.1,62.8 323.4,63.6 323.8,63.9 324.1,64.9 324.5,64.6 324.8,64.7 325.1,65.9 325.5,64.9 325.8,65.3 326.1,64.7 326.5,67 326.8,67 327.2,67.2 327.5,67.4 327.8,67.4 328.2,67.8 328.5,67.8 328.9,68.1 329.2,68.6 329.5,69.7 329.9,69.5 330.2,69.4 330.6,69.3 330.9,69.5 331.2,71.1 331.6,70.7 331.9,70.6 332.3,70.6 332.6,70.3 332.9,71.1 333.3,71.8 333.6,71.1 334,71.4 334.3,71.5 334.6,71.8 335,70.8 335.3,71.7 335.7,71.4 336,72.5 336.3,71.6 336.7,72.4 337,73 337.4,72 337.7,71.8 338,72.3 338.4,72.2 338.7,71.6 339,72.5 339.4,73.5 339.7,72.1 340.1,72.2 340.4,71.7 340.7,72.5 341.1,71.6 341.4,71.7 341.8,73.1 342.1,71.8 342.4,73 342.8,73.3 343.1,72.5 343.5,72.7 343.8,73.5 344.1,72.3 344.5,72 344.8,71.6 345.2,72.4 345.5,73.3 345.8,73 346.2,71.8 346.5,71.9 346.9,72.1 347.2,72.6 347.5,72.3 347.9,72.6 348.2,72.6 348.6,72.3 348.9,72.4 349.2,72.6 349.6,72.4 349.9,72.8 350.3,73.6 350.6,72.8 350.9,72.5 351.3,71.5 351.6,72.7 351.9,71.3 352.3,71.7 352.6,73 353,72.9 353.3,72.4 353.6,71.5 354,72.3 354.3,72.1 354.7,72.9 355,73.9 355.3,72.7 355.7,72.1 356,71.9 356.4,72.5 356.7,72.5 357,71.9 357.4,72.7 357.7,71.9 358.1,73.3 358.4,73.2 358.7,73.3 359.1,72.3 359.4,72.9 359.8,72.5 360.1,72.4 360.4,72.4 360.8,71.9 361.1,71.8 361.5,73.1 361.8,72.5 362.1,72.8 362.5,73.3 362.8,71.6 363.2,72.2 363.5,72.8 363.8,72.9 364.2,72.5 364.5,73.3 364.8,72.8 365.2,72 365.5,72.2 365.9,73.2 366.2,73 366.5,71.6 366.9,73.5 367.2,73.1 367.6,73.5 367.9,72.5 368.2,72.6 368.6,72.1 368.9,74.3 369.3,72.7 369.6,73.7 369.9,72.4 370.3,72.9 370.6,71.8 371,72.6 371.3,73.4 371.6,72.1 372,73.5 372.3,73 372.7,72.2 373,72.5 373.3,72.6 373.7,72.8 374,72.5 374.4,72.3 374.7,72.7 375,72.2 375.4,72.1 375.7,72.8 376.1,73.4 376.4,72 376.7,72.9 377.1,72.5 377.4,72.3 377.7,73.4 378.1,72.6 378.4,73.8 378.8,72.4 379.1,73.1 379.4,72.8 379.8,72.5 380.1,73.3 380.5,72.8 380.8,73.3 381.1,72.9 381.5,72.3 381.8,72.9 382.2,73 382.5,73.5 382.8,72.4 383.2,73 383.5,72 383.9,73.4 384.2,72.3 384.5,71.9 384.9,73 385.2,73.7 385.6,72.1 385.9,72.4 386.2,72.6 386.6,72.4 386.9,73.3 387.3,72.6 387.6,72.6 387.9,73.4 388.3,72.6 388.6,73.3 389,72.5 389.3,72.3 389.6,72 390,74.2 390.3,72.9 390.6,73.2 391,73.1 391.3,73.2 391.7,73.1 392,74.3 392.3,72.5 392.7,72.2 393,72.5 393.4,72.3 393.7,73.6 394,73.6 394.4,72.6 394.7,72.3 395.1,72.9 395.4,74 395.7,71.5 396.1,73.5 396.4,72.5 396.8,73.8 397.1,72.5" fill="none" stroke="#e8403c" stroke-width="1.2" stroke-linejoin="round"/>
</g>
<g transform="matrix(1 0.01878 0 1 0 -4.267)">
<polygon points="253.2,132.9 253.5,132.9 253.8,132.8 254.2,132.8 254.5,132.8 254.9,132.8 255.2,132.8 255.5,132.7 255.9,132.7 256.2,132.7 256.6,132.6 256.9,132.6 257.2,132.5 257.6,132.5 257.9,132.4 258.3,132.4 258.6,132.3 258.9,132.3 259.3,132.2 259.6,132.1 260,132 260.3,131.9 260.6,131.8 261,131.7 261.3,131.6 261.6,131.5 262,131.4 262.3,131.3 262.7,131.1 263,131 263.3,130.9 263.7,130.7 264,130.5 264.4,130.4 264.7,130.2 265,130 265.4,129.8 265.7,129.6 266.1,129.4 266.4,129.2 266.7,129 267.1,128.7 267.4,128.5 267.8,128.3 268.1,128 268.4,127.8 268.8,127.5 269.1,127.3 269.5,127 269.8,126.8 270.1,126.5 270.5,126.3 270.8,126 271.2,125.8 271.5,125.5 271.8,125.3 272.2,125 272.5,124.8 272.9,124.6 273.2,124.4 273.5,124.2 273.9,123.9 274.2,123.8 274.5,123.6 274.9,123.4 275.2,123.3 275.6,123.1 275.9,123 276.2,122.9 276.6,122.8 276.9,122.7 277.3,122.6 277.6,122.6 277.9,122.5 278.3,122.5 278.6,122.5 279,122.5 279.3,122.5 279.6,122.6 280,122.7 280.3,122.7 280.7,122.8 281,122.9 281.3,123.1 281.7,123.2 282,123.4 282.4,123.5 282.7,123.7 283,123.9 283.4,124.1 283.7,124.3 284.1,124.5 284.4,124.7 284.7,125 285.1,125.2 285.4,125.5 285.8,125.7 286.1,126 286.4,126.2 286.8,126.5 287.1,126.7 287.4,127 287.8,127.2 288.1,127.5 288.5,127.7 288.8,128 289.1,128.2 289.5,128.4 289.8,128.7 290.2,128.9 290.5,129.1 290.8,129.3 291.2,129.6 291.5,129.8 291.9,129.9 292.2,130.1 292.5,130.3 292.9,130.5 293.2,130.7 293.6,130.8 293.9,131 294.2,131.1 294.6,131.2 294.9,131.4 295.3,131.5 295.6,131.6 295.9,131.7 296.3,131.8 296.6,131.9 297,132 297.3,132.1 297.6,132.2 298,132.2 298.3,132.3 298.7,132.4 299,132.4 299.3,132.5 299.7,132.5 300,132.6 300.3,132.6 300.7,132.7 301,132.7 301.4,132.7 301.7,132.7 302,132.8 302.4,132.8 302.7,132.8 303.1,132.8 303.4,132.9 303.7,132.9 303.7,133 253.2,133" fill="url(#gTeal)"/>
<polyline points="253.2,132.9 253.5,132.9 253.8,132.8 254.2,132.8 254.5,132.8 254.9,132.8 255.2,132.8 255.5,132.7 255.9,132.7 256.2,132.7 256.6,132.6 256.9,132.6 257.2,132.5 257.6,132.5 257.9,132.4 258.3,132.4 258.6,132.3 258.9,132.3 259.3,132.2 259.6,132.1 260,132 260.3,131.9 260.6,131.8 261,131.7 261.3,131.6 261.6,131.5 262,131.4 262.3,131.3 262.7,131.1 263,131 263.3,130.9 263.7,130.7 264,130.5 264.4,130.4 264.7,130.2 265,130 265.4,129.8 265.7,129.6 266.1,129.4 266.4,129.2 266.7,129 267.1,128.7 267.4,128.5 267.8,128.3 268.1,128 268.4,127.8 268.8,127.5 269.1,127.3 269.5,127 269.8,126.8 270.1,126.5 270.5,126.3 270.8,126 271.2,125.8 271.5,125.5 271.8,125.3 272.2,125 272.5,124.8 272.9,124.6 273.2,124.4 273.5,124.2 273.9,123.9 274.2,123.8 274.5,123.6 274.9,123.4 275.2,123.3 275.6,123.1 275.9,123 276.2,122.9 276.6,122.8 276.9,122.7 277.3,122.6 277.6,122.6 277.9,122.5 278.3,122.5 278.6,122.5 279,122.5 279.3,122.5 279.6,122.6 280,122.7 280.3,122.7 280.7,122.8 281,122.9 281.3,123.1 281.7,123.2 282,123.4 282.4,123.5 282.7,123.7 283,123.9 283.4,124.1 283.7,124.3 284.1,124.5 284.4,124.7 284.7,125 285.1,125.2 285.4,125.5 285.8,125.7 286.1,126 286.4,126.2 286.8,126.5 287.1,126.7 287.4,127 287.8,127.2 288.1,127.5 288.5,127.7 288.8,128 289.1,128.2 289.5,128.4 289.8,128.7 290.2,128.9 290.5,129.1 290.8,129.3 291.2,129.6 291.5,129.8 291.9,129.9 292.2,130.1 292.5,130.3 292.9,130.5 293.2,130.7 293.6,130.8 293.9,131 294.2,131.1 294.6,131.2 294.9,131.4 295.3,131.5 295.6,131.6 295.9,131.7 296.3,131.8 296.6,131.9 297,132 297.3,132.1 297.6,132.2 298,132.2 298.3,132.3 298.7,132.4 299,132.4 299.3,132.5 299.7,132.5 300,132.6 300.3,132.6 300.7,132.7 301,132.7 301.4,132.7 301.7,132.7 302,132.8 302.4,132.8 302.7,132.8 303.1,132.8 303.4,132.9 303.7,132.9" fill="none" stroke="#2fae8e" stroke-width="0.4"/>
<polygon points="284.1,132.9 284.4,132.8 284.7,132.8 285.1,132.8 285.4,132.7 285.8,132.7 286.1,132.6 286.4,132.6 286.8,132.5 287.1,132.5 287.4,132.4 287.8,132.3 288.1,132.2 288.5,132 288.8,131.9 289.1,131.8 289.5,131.6 289.8,131.4 290.2,131.2 290.5,130.9 290.8,130.7 291.2,130.4 291.5,130.1 291.9,129.7 292.2,129.3 292.5,128.9 292.9,128.4 293.2,127.9 293.6,127.4 293.9,126.8 294.2,126.2 294.6,125.5 294.9,124.8 295.3,124 295.6,123.2 295.9,122.4 296.3,121.4 296.6,120.5 297,119.5 297.3,118.4 297.6,117.3 298,116.2 298.3,115 298.7,113.7 299,112.5 299.3,111.2 299.7,109.8 300,108.5 300.3,107.1 300.7,105.8 301,104.4 301.4,103 301.7,101.6 302,100.3 302.4,98.9 302.7,97.6 303.1,96.3 303.4,95.1 303.7,93.9 304.1,92.8 304.4,91.8 304.8,90.8 305.1,89.9 305.4,89 305.8,88.3 306.1,87.7 306.5,87.1 306.8,86.7 307.1,86.4 307.5,86.1 307.8,86 308.2,86 308.5,86.1 308.8,86.3 309.2,86.7 309.5,87.1 309.9,87.6 310.2,88.3 310.5,89 310.9,89.8 311.2,90.7 311.6,91.7 311.9,92.7 312.2,93.8 312.6,95 312.9,96.2 313.2,97.5 313.6,98.8 313.9,100.2 314.3,101.5 314.6,102.9 314.9,104.3 315.3,105.7 315.6,107 316,108.4 316.3,109.7 316.6,111.1 317,112.4 317.3,113.6 317.7,114.9 318,116.1 318.3,117.2 318.7,118.3 319,119.4 319.4,120.4 319.7,121.4 320,122.3 320.4,123.2 320.7,124 321.1,124.7 321.4,125.5 321.7,126.1 322.1,126.8 322.4,127.4 322.8,127.9 323.1,128.4 323.4,128.9 323.8,129.3 324.1,129.7 324.5,130 324.8,130.4 325.1,130.6 325.5,130.9 325.8,131.2 326.1,131.4 326.5,131.6 326.8,131.7 327.2,131.9 327.5,132 327.8,132.2 328.2,132.3 328.5,132.4 328.9,132.4 329.2,132.5 329.5,132.6 329.9,132.6 330.2,132.7 330.6,132.7 330.9,132.8 331.2,132.8 331.6,132.8 331.9,132.9 331.9,133 284.1,133" fill="url(#gRed)"/>
<polyline points="284.1,132.9 284.4,132.8 284.7,132.8 285.1,132.8 285.4,132.7 285.8,132.7 286.1,132.6 286.4,132.6 286.8,132.5 287.1,132.5 287.4,132.4 287.8,132.3 288.1,132.2 288.5,132 288.8,131.9 289.1,131.8 289.5,131.6 289.8,131.4 290.2,131.2 290.5,130.9 290.8,130.7 291.2,130.4 291.5,130.1 291.9,129.7 292.2,129.3 292.5,128.9 292.9,128.4 293.2,127.9 293.6,127.4 293.9,126.8 294.2,126.2 294.6,125.5 294.9,124.8 295.3,124 295.6,123.2 295.9,122.4 296.3,121.4 296.6,120.5 297,119.5 297.3,118.4 297.6,117.3 298,116.2 298.3,115 298.7,113.7 299,112.5 299.3,111.2 299.7,109.8 300,108.5 300.3,107.1 300.7,105.8 301,104.4 301.4,103 301.7,101.6 302,100.3 302.4,98.9 302.7,97.6 303.1,96.3 303.4,95.1 303.7,93.9 304.1,92.8 304.4,91.8 304.8,90.8 305.1,89.9 305.4,89 305.8,88.3 306.1,87.7 306.5,87.1 306.8,86.7 307.1,86.4 307.5,86.1 307.8,86 308.2,86 308.5,86.1 308.8,86.3 309.2,86.7 309.5,87.1 309.9,87.6 310.2,88.3 310.5,89 310.9,89.8 311.2,90.7 311.6,91.7 311.9,92.7 312.2,93.8 312.6,95 312.9,96.2 313.2,97.5 313.6,98.8 313.9,100.2 314.3,101.5 314.6,102.9 314.9,104.3 315.3,105.7 315.6,107 316,108.4 316.3,109.7 316.6,111.1 317,112.4 317.3,113.6 317.7,114.9 318,116.1 318.3,117.2 318.7,118.3 319,119.4 319.4,120.4 319.7,121.4 320,122.3 320.4,123.2 320.7,124 321.1,124.7 321.4,125.5 321.7,126.1 322.1,126.8 322.4,127.4 322.8,127.9 323.1,128.4 323.4,128.9 323.8,129.3 324.1,129.7 324.5,130 324.8,130.4 325.1,130.6 325.5,130.9 325.8,131.2 326.1,131.4 326.5,131.6 326.8,131.7 327.2,131.9 327.5,132 327.8,132.2 328.2,132.3 328.5,132.4 328.9,132.4 329.2,132.5 329.5,132.6 329.9,132.6 330.2,132.7 330.6,132.7 330.9,132.8 331.2,132.8 331.6,132.8 331.9,132.9" fill="none" stroke="#e06060" stroke-width="0.4"/>
<polyline points="227.7,131.8 228,131.1 228.4,131.4 228.7,132.8 229.1,132.5 229.4,131.8 229.7,131.5 230.1,130.9 230.4,131.8 230.8,132 231.1,131.9 231.4,131.9 231.8,131.3 232.1,132 232.5,132 232.8,132.8 233.1,133.1 233.5,131.9 233.8,131.5 234.2,132 234.5,131.6 234.8,131.6 235.2,132 235.5,131.4 235.8,132.4 236.2,131.9 236.5,132.1 236.9,131.9 237.2,131.6 237.5,131.4 237.9,131.9 238.2,131.7 238.6,132.1 238.9,132 239.2,131.2 239.6,132 239.9,131.2 240.3,131.6 240.6,131.8 240.9,130.8 241.3,132.1 241.6,132.1 242,131.9 242.3,131.7 242.6,131.8 243,131.4 243.3,131.8 243.7,131.7 244,132.1 244.3,131.3 244.7,132.1 245,132.1 245.4,131.9 245.7,131.7 246,132.3 246.4,131 246.7,132.3 247.1,132.1 247.4,132.2 247.7,132.2 248.1,131.6 248.4,131.8 248.7,132.4 249.1,132.2 249.4,132.1 249.8,131.1 250.1,132.3 250.4,132.7 250.8,132.6 251.1,132.1 251.5,131 251.8,132.5 252.1,131.8 252.5,130.4 252.8,132.1 253.2,131 253.5,131.1 253.8,131.5 254.2,132.6 254.5,131.6 254.9,131.9 255.2,132.8 255.5,132.7 255.9,131.6 256.2,131.5 256.6,130.9 256.9,131.2 257.2,131.8 257.6,131.7 257.9,131.5 258.3,132 258.6,130.9 258.9,131.2 259.3,131.6 259.6,131.5 260,131.7 260.3,131.2 260.6,130.7 261,131 261.3,130 261.6,129.5 262,130.8 262.3,130.2 262.7,130.3 263,129 263.3,129.6 263.7,129.3 264,129 264.4,128 264.7,129 265,129.5 265.4,129 265.7,128.2 266.1,128.4 266.4,128.6 266.7,126.3 267.1,127.7 267.4,127.8 267.8,127.7 268.1,128.1 268.4,127.5 268.8,126.7 269.1,126.5 269.5,126.5 269.8,125.5 270.1,125.5 270.5,125.8 270.8,126.2 271.2,124.7 271.5,124.5 271.8,124.4 272.2,124.8 272.5,123.8 272.9,124.5 273.2,122.8 273.5,123 273.9,122.8 274.2,123.2 274.5,123.2 274.9,121.5 275.2,121.7 275.6,122.3 275.9,121.6 276.2,120.9 276.6,122.4 276.9,122 277.3,121.9 277.6,121.3 277.9,122.1 278.3,121.4 278.6,122.2 279,121 279.3,121 279.6,121.7 280,121.2 280.3,122.1 280.7,122 281,121.4 281.3,122.1 281.7,122 282,122.9 282.4,122.1 282.7,122.4 283,123.5 283.4,124.3 283.7,124.4 284.1,123.4 284.4,123.7 284.7,124.7 285.1,123.9 285.4,123.6 285.8,124.5 286.1,124.9 286.4,124.3 286.8,124 287.1,124.3 287.4,125.7 287.8,125 288.1,125.6 288.5,125.9 288.8,126.2 289.1,125.8 289.5,126.3 289.8,125.5 290.2,125.9 290.5,125.4 290.8,126.7 291.2,125.9 291.5,125.4 291.9,125.4 292.2,125.3 292.5,125.6 292.9,124 293.2,124 293.6,124 293.9,125.3 294.2,123.9 294.6,122.7 294.9,122.6 295.3,122.8 295.6,120.7 295.9,119.9 296.3,120 296.6,118.7 297,117.9 297.3,116.2 297.6,116.6 298,115.4 298.3,113.6 298.7,112.5 299,109.7 299.3,110 299.7,108.3 300,107.3 300.3,106.2 300.7,104.2 301,102.1 301.4,101.9 301.7,99.9 302,98.8 302.4,97.4 302.7,96.2 303.1,93.8 303.4,94.7 303.7,93 304.1,92.4 304.4,91.8 304.8,89.7 305.1,87.7 305.4,87.4 305.8,86.5 306.1,86.3 306.5,86.1 306.8,84.4 307.1,85.5 307.5,84.2 307.8,85.2 308.2,84.9 308.5,84.9 308.8,85.3 309.2,85.3 309.5,85.7 309.9,85.6 310.2,87.2 310.5,89.1 310.9,90 311.2,90.5 311.6,91.1 311.9,91.3 312.2,93.7 312.6,94 312.9,95.2 313.2,96.3 313.6,97.9 313.9,98.9 314.3,100.5 314.6,101.2 314.9,103 315.3,106 315.6,106 316,107.3 316.3,109.1 316.6,110.5 317,110.7 317.3,112.5 317.7,114.4 318,115.2 318.3,116.3 318.7,118.3 319,118 319.4,119.5 319.7,120.1 320,122.2 320.4,121 320.7,122.6 321.1,123.4 321.4,124.9 321.7,125.5 322.1,126.6 322.4,125.4 322.8,127.4 323.1,127.2 323.4,127.5 323.8,128.6 324.1,128.1 324.5,127.8 324.8,129.1 325.1,128.7 325.5,129.5 325.8,130.4 326.1,130.6 326.5,131.5 326.8,130.6 327.2,130 327.5,130.6 327.8,130.6 328.2,130.5 328.5,131.6 328.9,131.1 329.2,130.3 329.5,132 329.9,131.6 330.2,131.9 330.6,131.8 330.9,132.2 331.2,131.8 331.6,132.6 331.9,132.1 332.3,132.1 332.6,132.1 332.9,131 333.3,131.8 333.6,131.8 334,132.1 334.3,131.1 334.6,132.9 335,132 335.3,131.2 335.7,131 336,131.8 336.3,131.9 336.7,131.6 337,132 337.4,131.6 337.7,132.3 338,131.6 338.4,132 338.7,132.6 339,133.5 339.4,131.4 339.7,131.7 340.1,131.5 340.4,132.5 340.7,131.3 341.1,131.7 341.4,132 341.8,131.4 342.1,131.4 342.4,131.7 342.8,130.7 343.1,131.1 343.5,131.8 343.8,132.1 344.1,131.9 344.5,130.9 344.8,131.7 345.2,132.5 345.5,132.3 345.8,132 346.2,131.5 346.5,132.4 346.9,131.7 347.2,131.3 347.5,131.5 347.9,132.9 348.2,132.1 348.6,132.7 348.9,131.7 349.2,132.6 349.6,131.6 349.9,131.9 350.3,133.5 350.6,132.5 350.9,131.7 351.3,131.9 351.6,132.2 351.9,132.7 352.3,131.7 352.6,131 353,131.8 353.3,132 353.6,132.1 354,132.8 354.3,132.2 354.7,132.5 355,131.3 355.3,132.5 355.7,133.3 356,132.5 356.4,132.2 356.7,132.1 357,133.1 357.4,131.4 357.7,131.9 358.1,132.3 358.4,132.4 358.7,131.7 359.1,132.2 359.4,131.8 359.8,132.1 360.1,131.9 360.4,131.3 360.8,132 361.1,132.5 361.5,131.4 361.8,131.9 362.1,132.4 362.5,131.4 362.8,132.1 363.2,131.4 363.5,132.7 363.8,133.4 364.2,133.2 364.5,131.9 364.8,132.4 365.2,132.1 365.5,132.1 365.9,132.9 366.2,131.2 366.5,132.6 366.9,132 367.2,132.8 367.6,132.1 367.9,131.6 368.2,132.2 368.6,132.4 368.9,132 369.3,132.3 369.6,131.7 369.9,130.7 370.3,132.5 370.6,132.4 371,132.1 371.3,132 371.6,132.6 372,131.7 372.3,131.6 372.7,131.9 373,132.7 373.3,131.2 373.7,132.7 374,131.6 374.4,131.3 374.7,132.8 375,131.9 375.4,131.2 375.7,131.8 376.1,132.6 376.4,132.7 376.7,131.7 377.1,132.2 377.4,132.4 377.7,131.6 378.1,132.2 378.4,132 378.8,131.7 379.1,131.7 379.4,132 379.8,132 380.1,131.7 380.5,131.7 380.8,132.7 381.1,132.1 381.5,132.5 381.8,132.7 382.2,132.4 382.5,133.4 382.8,131.5 383.2,132.5 383.5,131.8 383.9,133.1 384.2,133 384.5,130.8 384.9,131.4 385.2,132.4 385.6,132.5 385.9,132.4 386.2,132 386.6,132.3 386.9,132.4 387.3,132 387.6,132.6 387.9,130.6 388.3,132.4 388.6,131.4 389,132.6 389.3,131.9 389.6,131.5 390,132.2 390.3,131.5 390.6,131.5 391,131.1 391.3,132 391.7,132.3 392,132.6 392.3,131.9 392.7,132.6 393,132 393.4,131.9 393.7,132.3 394,132.6 394.4,131.8 394.7,131.9 395.1,131.9 395.4,132 395.7,131.5 396.1,132.6 396.4,131.8 396.8,132.3 397.1,131.5" fill="none" stroke="#4a4a4a" stroke-width="1.15" stroke-linejoin="round"/>
</g>
<rect x="227.2" y="8.5" width="170.4" height="135.2" fill="none" stroke="#444" stroke-width="0.9"/>
<text x="232" y="20.94" font-size="8" fill="#111" font-weight="bold" font-family="'Liberation Serif', serif" stroke="#111" stroke-width="0.22">N 1<tspan font-style="italic">s</tspan></text>
<text x="247.8" y="49.24" font-size="8" fill="#3bbd9c" font-weight="bold" font-family="'Liberation Serif', serif" stroke="#3bbd9c" stroke-width="0.22">C-N(OAm<tspan font-size="6" dy="-3">+</tspan><tspan dy="3">)</tspan></text>
<text x="313.7" y="23.84" font-size="8" fill="#ef6f6b" font-family="'Liberation Serif', serif" stroke="#ef6f6b" stroke-width="0.3">C=N(FA<tspan font-size="6" dy="-3">+</tspan><tspan dy="3">)</tspan></text>
<text x="323.5" y="47.64" font-size="8" fill="#f0a830" font-weight="bold" font-family="'Liberation Serif', serif" stroke="#f0a830" stroke-width="0.22">C=N(GA<tspan font-size="6" dy="-3">+</tspan><tspan dy="3">)</tspan></text>
<text x="336.5" y="66.94" font-size="8" fill="#2e4f86" font-weight="bold" font-family="'Liberation Serif', serif" stroke="#2e4f86" stroke-width="0.22">GA<tspan font-size="6" dy="-3">+</tspan><tspan dy="3">(-NH-)</tspan></text>
<text x="230.8" y="65.77" font-size="8.4" fill="#f52222" font-weight="bold" font-family="'Liberation Serif', serif" stroke="#f52222" stroke-width="0.22">GA acid</text>
<text x="231.5" y="125.71" font-size="8.2" fill="#111" font-weight="bold" font-family="'Liberation Serif', serif" stroke="#111" stroke-width="0.22">Control</text>
<line x1="244.25" y1="143.7" x2="244.25" y2="146.2" stroke="#333" stroke-width="0.8"/>
<line x1="278.35" y1="143.7" x2="278.35" y2="146.2" stroke="#333" stroke-width="0.8"/>
<line x1="312.45" y1="143.7" x2="312.45" y2="146.2" stroke="#333" stroke-width="0.8"/>
<line x1="346.55" y1="143.7" x2="346.55" y2="146.2" stroke="#333" stroke-width="0.8"/>
<line x1="380.65" y1="143.7" x2="380.65" y2="146.2" stroke="#333" stroke-width="0.8"/>
<line x1="227.2" y1="143.7" x2="227.2" y2="145.3" stroke="#333" stroke-width="0.7"/>
<line x1="261.3" y1="143.7" x2="261.3" y2="145.3" stroke="#333" stroke-width="0.7"/>
<line x1="295.4" y1="143.7" x2="295.4" y2="145.3" stroke="#333" stroke-width="0.7"/>
<line x1="329.5" y1="143.7" x2="329.5" y2="145.3" stroke="#333" stroke-width="0.7"/>
<line x1="363.6" y1="143.7" x2="363.6" y2="145.3" stroke="#333" stroke-width="0.7"/>
<text x="244.25" y="155.14" font-size="8" fill="#111" text-anchor="middle" font-weight="bold" font-family="'Liberation Serif', serif" stroke="#111" stroke-width="0.22">404</text>
<text x="278.35" y="155.14" font-size="8" fill="#111" text-anchor="middle" font-weight="bold" font-family="'Liberation Serif', serif" stroke="#111" stroke-width="0.22">402</text>
<text x="312.45" y="155.14" font-size="8" fill="#111" text-anchor="middle" font-weight="bold" font-family="'Liberation Serif', serif" stroke="#111" stroke-width="0.22">400</text>
<text x="346.55" y="155.14" font-size="8" fill="#111" text-anchor="middle" font-weight="bold" font-family="'Liberation Serif', serif" stroke="#111" stroke-width="0.22">398</text>
<text x="380.65" y="155.14" font-size="8" fill="#111" text-anchor="middle" font-weight="bold" font-family="'Liberation Serif', serif" stroke="#111" stroke-width="0.22">396</text>
<text x="312" y="165.47" font-size="9.3" fill="#111" text-anchor="middle" font-weight="bold" font-family="'Liberation Serif', serif" stroke="#111" stroke-width="0.22">Binding Energy (eV)</text>
<text x="216.8" y="80.07" font-size="9" fill="#111" text-anchor="middle" font-weight="bold" transform="rotate(-90 216.8 77.1)" font-family="'Liberation Serif', serif" stroke="#111" stroke-width="0.22">Intensity (a. u.)</text>
<text x="211.2" y="15.6" font-size="18" fill="#000" font-weight="bold" font-family="'Liberation Serif', serif">b</text>
<polygon points="442.8,77.4 443.1,77.4 443.4,77.4 443.8,77.3 444.1,77.3 444.5,77.3 444.8,77.3 445.2,77.3 445.5,77.2 445.8,77.2 446.2,77.2 446.5,77.2 446.9,77.1 447.2,77.1 447.5,77.1 447.9,77 448.2,77 448.6,76.9 448.9,76.9 449.2,76.8 449.6,76.8 449.9,76.7 450.3,76.7 450.6,76.6 451,76.6 451.3,76.5 451.6,76.4 452,76.4 452.3,76.3 452.7,76.2 453,76.1 453.3,76.1 453.7,76 454,75.9 454.4,75.8 454.7,75.7 455.1,75.6 455.4,75.5 455.7,75.4 456.1,75.3 456.4,75.2 456.8,75.1 457.1,75 457.4,74.9 457.8,74.8 458.1,74.7 458.5,74.6 458.8,74.5 459.1,74.4 459.5,74.3 459.8,74.2 460.2,74.1 460.5,74 460.9,73.9 461.2,73.8 461.5,73.7 461.9,73.7 462.2,73.6 462.6,73.5 462.9,73.4 463.2,73.4 463.6,73.3 463.9,73.2 464.3,73.2 464.6,73.1 464.9,73.1 465.3,73.1 465.6,73 466,73 466.3,73 466.7,73 467,73 467.3,73 467.7,73 468,73 468.4,73.1 468.7,73.1 469,73.1 469.4,73.2 469.7,73.2 470.1,73.3 470.4,73.3 470.7,73.4 471.1,73.5 471.4,73.5 471.8,73.6 472.1,73.7 472.5,73.8 472.8,73.9 473.1,73.9 473.5,74 473.8,74.1 474.2,74.2 474.5,74.3 474.8,74.4 475.2,74.5 475.5,74.6 475.9,74.7 476.2,74.8 476.6,75 476.9,75.1 477.2,75.2 477.6,75.3 477.9,75.4 478.3,75.5 478.6,75.6 478.9,75.6 479.3,75.7 479.6,75.8 480,75.9 480.3,76 480.6,76.1 481,76.2 481.3,76.2 481.7,76.3 482,76.4 482.4,76.5 482.7,76.5 483,76.6 483.4,76.6 483.7,76.7 484.1,76.8 484.4,76.8 484.7,76.9 485.1,76.9 485.4,77 485.8,77 486.1,77 486.4,77.1 486.8,77.1 487.1,77.1 487.5,77.2 487.8,77.2 488.2,77.2 488.5,77.2 488.8,77.3 489.2,77.3 489.5,77.3 489.9,77.3 490.2,77.3 490.5,77.4 490.9,77.4 490.9,77.5 442.8,77.5" fill="url(#gTeal)"/>
<polyline points="442.8,77.4 443.1,77.4 443.4,77.4 443.8,77.3 444.1,77.3 444.5,77.3 444.8,77.3 445.2,77.3 445.5,77.2 445.8,77.2 446.2,77.2 446.5,77.2 446.9,77.1 447.2,77.1 447.5,77.1 447.9,77 448.2,77 448.6,76.9 448.9,76.9 449.2,76.8 449.6,76.8 449.9,76.7 450.3,76.7 450.6,76.6 451,76.6 451.3,76.5 451.6,76.4 452,76.4 452.3,76.3 452.7,76.2 453,76.1 453.3,76.1 453.7,76 454,75.9 454.4,75.8 454.7,75.7 455.1,75.6 455.4,75.5 455.7,75.4 456.1,75.3 456.4,75.2 456.8,75.1 457.1,75 457.4,74.9 457.8,74.8 458.1,74.7 458.5,74.6 458.8,74.5 459.1,74.4 459.5,74.3 459.8,74.2 460.2,74.1 460.5,74 460.9,73.9 461.2,73.8 461.5,73.7 461.9,73.7 462.2,73.6 462.6,73.5 462.9,73.4 463.2,73.4 463.6,73.3 463.9,73.2 464.3,73.2 464.6,73.1 464.9,73.1 465.3,73.1 465.6,73 466,73 466.3,73 466.7,73 467,73 467.3,73 467.7,73 468,73 468.4,73.1 468.7,73.1 469,73.1 469.4,73.2 469.7,73.2 470.1,73.3 470.4,73.3 470.7,73.4 471.1,73.5 471.4,73.5 471.8,73.6 472.1,73.7 472.5,73.8 472.8,73.9 473.1,73.9 473.5,74 473.8,74.1 474.2,74.2 474.5,74.3 474.8,74.4 475.2,74.5 475.5,74.6 475.9,74.7 476.2,74.8 476.6,75 476.9,75.1 477.2,75.2 477.6,75.3 477.9,75.4 478.3,75.5 478.6,75.6 478.9,75.6 479.3,75.7 479.6,75.8 480,75.9 480.3,76 480.6,76.1 481,76.2 481.3,76.2 481.7,76.3 482,76.4 482.4,76.5 482.7,76.5 483,76.6 483.4,76.6 483.7,76.7 484.1,76.8 484.4,76.8 484.7,76.9 485.1,76.9 485.4,77 485.8,77 486.1,77 486.4,77.1 486.8,77.1 487.1,77.1 487.5,77.2 487.8,77.2 488.2,77.2 488.5,77.2 488.8,77.3 489.2,77.3 489.5,77.3 489.9,77.3 490.2,77.3 490.5,77.4 490.9,77.4" fill="none" stroke="#2fae8e" stroke-width="0.4"/>
<polygon points="472.8,77.4 473.1,77.4 473.5,77.4 473.8,77.3 474.2,77.3 474.5,77.3 474.8,77.3 475.2,77.3 475.5,77.3 475.9,77.3 476.2,77.2 476.6,77.2 476.9,77.2 477.2,77.2 477.6,77.2 477.9,77.2 478.3,77.1 478.6,77.1 478.9,77.1 479.3,77.1 479.6,77 480,77 480.3,77 480.6,76.9 481,76.9 481.3,76.9 481.7,76.8 482,76.8 482.4,76.8 482.7,76.7 483,76.7 483.4,76.6 483.7,76.6 484.1,76.6 484.4,76.5 484.7,76.5 485.1,76.4 485.4,76.4 485.8,76.3 486.1,76.3 486.4,76.2 486.8,76.1 487.1,76.1 487.5,76 487.8,76 488.2,75.9 488.5,75.8 488.8,75.8 489.2,75.7 489.5,75.6 489.9,75.6 490.2,75.5 490.5,75.4 490.9,75.4 491.2,75.3 491.6,75.2 491.9,75.2 492.3,75.1 492.6,75 492.9,75 493.3,74.9 493.6,74.8 494,74.8 494.3,74.7 494.6,74.6 495,74.6 495.3,74.5 495.7,74.4 496,74.4 496.3,74.3 496.7,74.2 497,74.2 497.4,74.1 497.7,74.1 498.1,74 498.4,74 498.7,73.9 499.1,73.9 499.4,73.8 499.8,73.8 500.1,73.8 500.4,73.7 500.8,73.7 501.1,73.6 501.5,73.6 501.8,73.6 502.1,73.6 502.5,73.6 502.8,73.5 503.2,73.5 503.5,73.5 503.9,73.5 504.2,73.5 504.5,73.5 504.9,73.5 505.2,73.5 505.6,73.5 505.9,73.5 506.2,73.5 506.6,73.6 506.9,73.6 507.3,73.6 507.6,73.6 507.9,73.7 508.3,73.7 508.6,73.7 509,73.8 509.3,73.8 509.7,73.9 510,73.9 510.3,74 510.7,74 511,74.1 511.4,74.1 511.7,74.2 512,74.2 512.4,74.3 512.7,74.4 513.1,74.4 513.4,74.5 513.8,74.5 514.1,74.6 514.4,74.7 514.8,74.7 515.1,74.8 515.5,74.9 515.8,74.9 516.1,75 516.5,75.1 516.8,75.2 517.2,75.2 517.5,75.3 517.8,75.4 518.2,75.4 518.5,75.5 518.9,75.6 519.2,75.6 519.6,75.7 519.9,75.8 520.2,75.8 520.6,75.9 520.9,75.9 521.3,76 521.6,76.1 521.9,76.1 522.3,76.2 522.6,76.2 523,76.3 523.3,76.3 523.6,76.4 524,76.4 524.3,76.5 524.7,76.5 525,76.6 525.4,76.6 525.7,76.7 526,76.7 526.4,76.8 526.7,76.8 527.1,76.8 527.4,76.9 527.7,76.9 528.1,76.9 528.4,77 528.8,77 529.1,77 529.4,77 529.8,77.1 530.1,77.1 530.5,77.1 530.8,77.1 531.2,77.2 531.5,77.2 531.8,77.2 532.2,77.2 532.5,77.2 532.9,77.3 533.2,77.3 533.5,77.3 533.9,77.3 534.2,77.3 534.6,77.3 534.9,77.3 535.3,77.4 535.6,77.4 535.9,77.4 535.9,77.5 472.8,77.5" fill="url(#gBlue)"/>
<polyline points="472.8,77.4 473.1,77.4 473.5,77.4 473.8,77.3 474.2,77.3 474.5,77.3 474.8,77.3 475.2,77.3 475.5,77.3 475.9,77.3 476.2,77.2 476.6,77.2 476.9,77.2 477.2,77.2 477.6,77.2 477.9,77.2 478.3,77.1 478.6,77.1 478.9,77.1 479.3,77.1 479.6,77 480,77 480.3,77 480.6,76.9 481,76.9 481.3,76.9 481.7,76.8 482,76.8 482.4,76.8 482.7,76.7 483,76.7 483.4,76.6 483.7,76.6 484.1,76.6 484.4,76.5 484.7,76.5 485.1,76.4 485.4,76.4 485.8,76.3 486.1,76.3 486.4,76.2 486.8,76.1 487.1,76.1 487.5,76 487.8,76 488.2,75.9 488.5,75.8 488.8,75.8 489.2,75.7 489.5,75.6 489.9,75.6 490.2,75.5 490.5,75.4 490.9,75.4 491.2,75.3 491.6,75.2 491.9,75.2 492.3,75.1 492.6,75 492.9,75 493.3,74.9 493.6,74.8 494,74.8 494.3,74.7 494.6,74.6 495,74.6 495.3,74.5 495.7,74.4 496,74.4 496.3,74.3 496.7,74.2 497,74.2 497.4,74.1 497.7,74.1 498.1,74 498.4,74 498.7,73.9 499.1,73.9 499.4,73.8 499.8,73.8 500.1,73.8 500.4,73.7 500.8,73.7 501.1,73.6 501.5,73.6 501.8,73.6 502.1,73.6 502.5,73.6 502.8,73.5 503.2,73.5 503.5,73.5 503.9,73.5 504.2,73.5 504.5,73.5 504.9,73.5 505.2,73.5 505.6,73.5 505.9,73.5 506.2,73.5 506.6,73.6 506.9,73.6 507.3,73.6 507.6,73.6 507.9,73.7 508.3,73.7 508.6,73.7 509,73.8 509.3,73.8 509.7,73.9 510,73.9 510.3,74 510.7,74 511,74.1 511.4,74.1 511.7,74.2 512,74.2 512.4,74.3 512.7,74.4 513.1,74.4 513.4,74.5 513.8,74.5 514.1,74.6 514.4,74.7 514.8,74.7 515.1,74.8 515.5,74.9 515.8,74.9 516.1,75 516.5,75.1 516.8,75.2 517.2,75.2 517.5,75.3 517.8,75.4 518.2,75.4 518.5,75.5 518.9,75.6 519.2,75.6 519.6,75.7 519.9,75.8 520.2,75.8 520.6,75.9 520.9,75.9 521.3,76 521.6,76.1 521.9,76.1 522.3,76.2 522.6,76.2 523,76.3 523.3,76.3 523.6,76.4 524,76.4 524.3,76.5 524.7,76.5 525,76.6 525.4,76.6 525.7,76.7 526,76.7 526.4,76.8 526.7,76.8 527.1,76.8 527.4,76.9 527.7,76.9 528.1,76.9 528.4,77 528.8,77 529.1,77 529.4,77 529.8,77.1 530.1,77.1 530.5,77.1 530.8,77.1 531.2,77.2 531.5,77.2 531.8,77.2 532.2,77.2 532.5,77.2 532.9,77.3 533.2,77.3 533.5,77.3 533.9,77.3 534.2,77.3 534.6,77.3 534.9,77.3 535.3,77.4 535.6,77.4 535.9,77.4" fill="none" stroke="#34558a" stroke-width="0.5"/>
<polygon points="508.3,77.4 508.6,77.4 509,77.3 509.3,77.3 509.7,77.3 510,77.2 510.3,77.2 510.7,77.2 511,77.1 511.4,77.1 511.7,77 512,76.9 512.4,76.9 512.7,76.8 513.1,76.7 513.4,76.6 513.8,76.5 514.1,76.4 514.4,76.2 514.8,76.1 515.1,75.9 515.5,75.7 515.8,75.5 516.1,75.3 516.5,75.1 516.8,74.8 517.2,74.6 517.5,74.2 517.8,73.9 518.2,73.6 518.5,73.2 518.9,72.8 519.2,72.3 519.6,71.9 519.9,71.4 520.2,70.8 520.6,70.3 520.9,69.7 521.3,69 521.6,68.4 521.9,67.6 522.3,66.9 522.6,66.1 523,65.3 523.3,64.4 523.6,63.5 524,62.6 524.3,61.6 524.7,60.6 525,59.6 525.4,58.5 525.7,57.5 526,56.3 526.4,55.2 526.7,54 527.1,52.9 527.4,51.7 527.7,50.5 528.1,49.3 528.4,48.1 528.8,46.8 529.1,45.6 529.4,44.4 529.8,43.3 530.1,42.1 530.5,41 530.8,39.9 531.2,38.8 531.5,37.7 531.8,36.8 532.2,35.8 532.5,34.9 532.9,34.1 533.2,33.3 533.5,32.6 533.9,31.9 534.2,31.4 534.6,30.9 534.9,30.4 535.3,30.1 535.6,29.8 535.9,29.6 536.3,29.5 536.6,29.5 537,29.6 537.3,29.7 537.6,29.9 538,30.2 538.3,30.6 538.7,31.1 539,31.6 539.3,32.2 539.7,32.9 540,33.7 540.4,34.5 540.7,35.3 541.1,36.3 541.4,37.2 541.7,38.3 542.1,39.3 542.4,40.4 542.8,41.5 543.1,42.7 543.4,43.8 543.8,45 544.1,46.2 544.5,47.4 544.8,48.7 545.1,49.9 545.5,51.1 545.8,52.3 546.2,53.5 546.5,54.6 546.9,55.8 547.2,56.9 547.5,58 547.9,59.1 548.2,60.1 548.6,61.1 548.9,62.1 549.2,63.1 549.6,64 549.9,64.9 550.3,65.7 550.6,66.5 551,67.3 551.3,68 551.6,68.7 552,69.4 552.3,70 552.7,70.6 553,71.1 553.3,71.6 553.7,72.1 554,72.6 554.4,73 554.7,73.4 555,73.7 555.4,74.1 555.7,74.4 556.1,74.7 556.4,75 556.8,75.2 557.1,75.4 557.4,75.6 557.8,75.8 558.1,76 558.5,76.2 558.8,76.3 559.1,76.4 559.5,76.5 559.8,76.7 560.2,76.7 560.5,76.8 560.8,76.9 561.2,77 561.5,77 561.9,77.1 562.2,77.1 562.6,77.2 562.9,77.2 563.2,77.3 563.6,77.3 563.9,77.3 564.3,77.3 564.6,77.4 564.6,77.5 508.3,77.5" fill="url(#gRed)"/>
<polyline points="508.3,77.4 508.6,77.4 509,77.3 509.3,77.3 509.7,77.3 510,77.2 510.3,77.2 510.7,77.2 511,77.1 511.4,77.1 511.7,77 512,76.9 512.4,76.9 512.7,76.8 513.1,76.7 513.4,76.6 513.8,76.5 514.1,76.4 514.4,76.2 514.8,76.1 515.1,75.9 515.5,75.7 515.8,75.5 516.1,75.3 516.5,75.1 516.8,74.8 517.2,74.6 517.5,74.2 517.8,73.9 518.2,73.6 518.5,73.2 518.9,72.8 519.2,72.3 519.6,71.9 519.9,71.4 520.2,70.8 520.6,70.3 520.9,69.7 521.3,69 521.6,68.4 521.9,67.6 522.3,66.9 522.6,66.1 523,65.3 523.3,64.4 523.6,63.5 524,62.6 524.3,61.6 524.7,60.6 525,59.6 525.4,58.5 525.7,57.5 526,56.3 526.4,55.2 526.7,54 527.1,52.9 527.4,51.7 527.7,50.5 528.1,49.3 528.4,48.1 528.8,46.8 529.1,45.6 529.4,44.4 529.8,43.3 530.1,42.1 530.5,41 530.8,39.9 531.2,38.8 531.5,37.7 531.8,36.8 532.2,35.8 532.5,34.9 532.9,34.1 533.2,33.3 533.5,32.6 533.9,31.9 534.2,31.4 534.6,30.9 534.9,30.4 535.3,30.1 535.6,29.8 535.9,29.6 536.3,29.5 536.6,29.5 537,29.6 537.3,29.7 537.6,29.9 538,30.2 538.3,30.6 538.7,31.1 539,31.6 539.3,32.2 539.7,32.9 540,33.7 540.4,34.5 540.7,35.3 541.1,36.3 541.4,37.2 541.7,38.3 542.1,39.3 542.4,40.4 542.8,41.5 543.1,42.7 543.4,43.8 543.8,45 544.1,46.2 544.5,47.4 544.8,48.7 545.1,49.9 545.5,51.1 545.8,52.3 546.2,53.5 546.5,54.6 546.9,55.8 547.2,56.9 547.5,58 547.9,59.1 548.2,60.1 548.6,61.1 548.9,62.1 549.2,63.1 549.6,64 549.9,64.9 550.3,65.7 550.6,66.5 551,67.3 551.3,68 551.6,68.7 552,69.4 552.3,70 552.7,70.6 553,71.1 553.3,71.6 553.7,72.1 554,72.6 554.4,73 554.7,73.4 555,73.7 555.4,74.1 555.7,74.4 556.1,74.7 556.4,75 556.8,75.2 557.1,75.4 557.4,75.6 557.8,75.8 558.1,76 558.5,76.2 558.8,76.3 559.1,76.4 559.5,76.5 559.8,76.7 560.2,76.7 560.5,76.8 560.8,76.9 561.2,77 561.5,77 561.9,77.1 562.2,77.1 562.6,77.2 562.9,77.2 563.2,77.3 563.6,77.3 563.9,77.3 564.3,77.3 564.6,77.4" fill="none" stroke="#e06060" stroke-width="0.4"/>
<line x1="425.2" y1="77.5" x2="596.5" y2="77.5" stroke="#f2a0a0" stroke-width="0.6"/>
<polyline points="425.7,76.7 426,76.7 426.4,76.3 426.7,77.4 427.1,76.7 427.4,77.3 427.7,76.9 428.1,76.2 428.4,76.3 428.8,76.7 429.1,76.5 429.5,76.5 429.8,76.4 430.1,75.7 430.5,76.4 430.8,75.5 431.2,76.7 431.5,76.2 431.8,76.2 432.2,76.4 432.5,76.6 432.9,75.9 433.2,75.7 433.5,76 433.9,75.6 434.2,76.1 434.6,77.2 434.9,76 435.3,76.8 435.6,75.9 435.9,76.6 436.3,76.3 436.6,76.5 437,76.7 437.3,77.3 437.6,76.6 438,76.5 438.3,76 438.7,76.7 439,76.4 439.4,76.8 439.7,76.4 440,77.2 440.4,75.6 440.7,76.3 441.1,76.8 441.4,76.3 441.7,76.1 442.1,76.3 442.4,75.8 442.8,76.4 443.1,77.5 443.4,76.9 443.8,75.8 444.1,75.9 444.5,76.1 444.8,76.7 445.2,75.9 445.5,75.9 445.8,76.6 446.2,76.6 446.5,76 446.9,75.6 447.2,75.4 447.5,75.7 447.9,75 448.2,76.3 448.6,75.7 448.9,76.1 449.2,76.7 449.6,76.3 449.9,75.2 450.3,76.1 450.6,76.2 451,75.2 451.3,75.1 451.6,75.4 452,74.7 452.3,76 452.7,74.1 453,74.6 453.3,74.9 453.7,74.9 454,75 454.4,74.9 454.7,74.6 455.1,75.1 455.4,73.6 455.7,74.4 456.1,74 456.4,74.3 456.8,74.2 457.1,73.6 457.4,73.6 457.8,74.2 458.1,73.9 458.5,73.3 458.8,74.4 459.1,74.4 459.5,72.6 459.8,73.3 460.2,74.2 460.5,73.4 460.9,73 461.2,72.7 461.5,72.5 461.9,72.6 462.2,72.3 462.6,72.8 462.9,72.2 463.2,72.2 463.6,71.8 463.9,72.2 464.3,71.8 464.6,72.1 464.9,72.6 465.3,72.2 465.6,72.3 466,72.2 466.3,72 466.7,71.9 467,71.8 467.3,72.3 467.7,71.5 468,72.6 468.4,72 468.7,71.7 469,71.8 469.4,71.8 469.7,72.2 470.1,71.9 470.4,72.8 470.7,72 471.1,71.3 471.4,72.1 471.8,71.6 472.1,72.6 472.5,73.1 472.8,73 473.1,72.2 473.5,72.6 473.8,73.8 474.2,73.2 474.5,73.2 474.8,73.7 475.2,74.4 475.5,74 475.9,73.6 476.2,73.8 476.6,74 476.9,73.5 477.2,73.4 477.6,74 477.9,73.6 478.3,74.1 478.6,74.2 478.9,75.3 479.3,73.9 479.6,74.3 480,74.3 480.3,74.7 480.6,75 481,74.4 481.3,74.2 481.7,73.9 482,74.3 482.4,75 482.7,74.8 483,74.3 483.4,74.6 483.7,74.8 484.1,75 484.4,74.6 484.7,74.7 485.1,74 485.4,74.3 485.8,75.5 486.1,73.8 486.4,74.6 486.8,74.8 487.1,74.6 487.5,74.3 487.8,74.6 488.2,74.6 488.5,74.5 488.8,73.7 489.2,74.4 489.5,74.1 489.9,74.2 490.2,74.5 490.5,74.6 490.9,74.7 491.2,74 491.6,74.6 491.9,74.6 492.3,74.5 492.6,74.6 492.9,73.8 493.3,73.8 493.6,74.1 494,73.1 494.3,73.7 494.6,73.4 495,73.4 495.3,72.7 495.7,73 496,73.3 496.3,73.7 496.7,73.7 497,73.1 497.4,73 497.7,72.7 498.1,73.2 498.4,72.8 498.7,73.2 499.1,73.7 499.4,72.8 499.8,72.1 500.1,72.3 500.4,72 500.8,72.1 501.1,73.2 501.5,72.7 501.8,71.9 502.1,72.8 502.5,73.1 502.8,72.3 503.2,72.2 503.5,72.3 503.9,72.5 504.2,72.7 504.5,72.9 504.9,72.9 505.2,72.9 505.6,72.9 505.9,72.6 506.2,71.6 506.6,72.2 506.9,72.4 507.3,72.1 507.6,72.6 507.9,72 508.3,71.7 508.6,72.7 509,72.4 509.3,72.1 509.7,72.4 510,72.3 510.3,71.9 510.7,70.6 511,71.3 511.4,71.3 511.7,70.9 512,71.3 512.4,71.6 512.7,70.7 513.1,70.3 513.4,71.5 513.8,70.2 514.1,69.6 514.4,70 514.8,69.9 515.1,69.1 515.5,69.5 515.8,68.6 516.1,68.1 516.5,68.3 516.8,68.2 517.2,67.2 517.5,67.2 517.8,66.6 518.2,67.5 518.5,65.5 518.9,65.9 519.2,64.8 519.6,64.3 519.9,64.1 520.2,63.7 520.6,63.3 520.9,62.3 521.3,61.3 521.6,60.7 521.9,60.5 522.3,59.9 522.6,59.6 523,58.4 523.3,58 523.6,57.4 524,56 524.3,54.5 524.7,53.8 525,52.8 525.4,53.3 525.7,51.3 526,51.3 526.4,50.1 526.7,49.7 527.1,48.4 527.4,46.9 527.7,45.8 528.1,45 528.4,44 528.8,42.7 529.1,41.9 529.4,41.6 529.8,39.1 530.1,39 530.5,37.5 530.8,37.1 531.2,36.4 531.5,35.1 531.8,34.7 532.2,32.8 532.5,33.2 532.9,31.7 533.2,31.6 533.5,30.8 533.9,29 534.2,29.3 534.6,29.3 534.9,29.6 535.3,28.7 535.6,28.5 535.9,27.6 536.3,28.8 536.6,29 537,28.3 537.3,28.4 537.6,28 538,29.4 538.3,30.7 538.7,30.3 539,31.1 539.3,31.4 539.7,31.4 540,33.2 540.4,32.8 540.7,34.2 541.1,35.3 541.4,36.6 541.7,37.4 542.1,38.4 542.4,39 542.8,39.9 543.1,41.7 543.4,42.5 543.8,43.4 544.1,44.6 544.5,46.2 544.8,46.8 545.1,48.2 545.5,49.3 545.8,51.3 546.2,52.6 546.5,54.5 546.9,54.1 547.2,55.6 547.5,57.4 547.9,58 548.2,59 548.6,60.9 548.9,61 549.2,61.5 549.6,62.4 549.9,64 550.3,64.8 550.6,64.9 551,65.8 551.3,67.2 551.6,68 552,68.1 552.3,69.3 552.7,69.8 553,69.3 553.3,70.5 553.7,71.3 554,71.3 554.4,71 554.7,72.3 555,73.1 555.4,73.8 555.7,72.4 556.1,74.9 556.4,73.5 556.8,74.6 557.1,75 557.4,75.1 557.8,74.9 558.1,74.5 558.5,75.4 558.8,75 559.1,74.3 559.5,76.8 559.8,76 560.2,76.6 560.5,75.4 560.8,76.6 561.2,76.7 561.5,76.7 561.9,76.1 562.2,75.6 562.6,76.1 562.9,75.2 563.2,75.5 563.6,76.3 563.9,75.9 564.3,76.3 564.6,76.3 564.9,77.3 565.3,77 565.6,76.4 566,77 566.3,76.1 566.6,76.3 567,76.9 567.3,75.9 567.7,76.3 568,75.9 568.4,76.5 568.7,77.2 569,76.1 569.4,76.6 569.7,76.1 570.1,76 570.4,75.9 570.7,77.1 571.1,77.6 571.4,76.7 571.8,76.2 572.1,76.8 572.5,76.3 572.8,76.9 573.1,76.6 573.5,76.6 573.8,76.8 574.2,76.2 574.5,76.3 574.8,75.7 575.2,76.3 575.5,75.9 575.9,76.4 576.2,76.1 576.5,76.5 576.9,76.7 577.2,75.9 577.6,76.1 577.9,76.1 578.3,76.8 578.6,77.3 578.9,76.9 579.3,76.3 579.6,77.2 580,75.8 580.3,77.2 580.6,76.2 581,75.2 581.3,77.7 581.7,77.2 582,76 582.3,76.6 582.7,76.4 583,76.5 583.4,75.8 583.7,76.2 584.1,76.7 584.4,76.6 584.7,77 585.1,76.5 585.4,77.6 585.8,76.2 586.1,76.6 586.4,75.6 586.8,75.9 587.1,77.1 587.5,76.1 587.8,76.7 588.2,76.5 588.5,76 588.8,76.3 589.2,76.3 589.5,76.3 589.9,76.8 590.2,76.8 590.5,76.2 590.9,76.1 591.2,76.6 591.6,76.5 591.9,77 592.2,77.7 592.6,76.9 592.9,76.5 593.3,76.4 593.6,76.1 594,76.1 594.3,76 594.6,76.3 595,76.3 595.3,76.8 595.7,76.3 596,76.4" fill="none" stroke="#e8605c" stroke-width="1.15" stroke-linejoin="round"/>
<polygon points="442.8,134.1 443.1,134.1 443.4,134.1 443.8,134 444.1,134 444.5,134 444.8,134 445.2,134 445.5,133.9 445.8,133.9 446.2,133.9 446.5,133.9 446.9,133.8 447.2,133.8 447.5,133.8 447.9,133.7 448.2,133.7 448.6,133.6 448.9,133.6 449.2,133.5 449.6,133.5 449.9,133.4 450.3,133.4 450.6,133.3 451,133.3 451.3,133.2 451.6,133.1 452,133.1 452.3,133 452.7,132.9 453,132.8 453.3,132.8 453.7,132.7 454,132.6 454.4,132.5 454.7,132.4 455.1,132.3 455.4,132.2 455.7,132.1 456.1,132 456.4,131.9 456.8,131.8 457.1,131.7 457.4,131.6 457.8,131.5 458.1,131.4 458.5,131.3 458.8,131.2 459.1,131.1 459.5,131 459.8,130.9 460.2,130.8 460.5,130.7 460.9,130.6 461.2,130.5 461.5,130.4 461.9,130.4 462.2,130.3 462.6,130.2 462.9,130.1 463.2,130.1 463.6,130 463.9,129.9 464.3,129.9 464.6,129.8 464.9,129.8 465.3,129.8 465.6,129.7 466,129.7 466.3,129.7 466.7,129.7 467,129.7 467.3,129.7 467.7,129.7 468,129.7 468.4,129.8 468.7,129.8 469,129.8 469.4,129.9 469.7,129.9 470.1,130 470.4,130 470.7,130.1 471.1,130.2 471.4,130.2 471.8,130.3 472.1,130.4 472.5,130.5 472.8,130.6 473.1,130.6 473.5,130.7 473.8,130.8 474.2,130.9 474.5,131 474.8,131.1 475.2,131.2 475.5,131.3 475.9,131.4 476.2,131.5 476.6,131.7 476.9,131.8 477.2,131.9 477.6,132 477.9,132.1 478.3,132.2 478.6,132.3 478.9,132.3 479.3,132.4 479.6,132.5 480,132.6 480.3,132.7 480.6,132.8 481,132.9 481.3,132.9 481.7,133 482,133.1 482.4,133.2 482.7,133.2 483,133.3 483.4,133.3 483.7,133.4 484.1,133.5 484.4,133.5 484.7,133.6 485.1,133.6 485.4,133.7 485.8,133.7 486.1,133.7 486.4,133.8 486.8,133.8 487.1,133.8 487.5,133.9 487.8,133.9 488.2,133.9 488.5,133.9 488.8,134 489.2,134 489.5,134 489.9,134 490.2,134 490.5,134.1 490.9,134.1 490.9,134.2 442.8,134.2" fill="url(#gTeal)"/>
<polyline points="442.8,134.1 443.1,134.1 443.4,134.1 443.8,134 444.1,134 444.5,134 444.8,134 445.2,134 445.5,133.9 445.8,133.9 446.2,133.9 446.5,133.9 446.9,133.8 447.2,133.8 447.5,133.8 447.9,133.7 448.2,133.7 448.6,133.6 448.9,133.6 449.2,133.5 449.6,133.5 449.9,133.4 450.3,133.4 450.6,133.3 451,133.3 451.3,133.2 451.6,133.1 452,133.1 452.3,133 452.7,132.9 453,132.8 453.3,132.8 453.7,132.7 454,132.6 454.4,132.5 454.7,132.4 455.1,132.3 455.4,132.2 455.7,132.1 456.1,132 456.4,131.9 456.8,131.8 457.1,131.7 457.4,131.6 457.8,131.5 458.1,131.4 458.5,131.3 458.8,131.2 459.1,131.1 459.5,131 459.8,130.9 460.2,130.8 460.5,130.7 460.9,130.6 461.2,130.5 461.5,130.4 461.9,130.4 462.2,130.3 462.6,130.2 462.9,130.1 463.2,130.1 463.6,130 463.9,129.9 464.3,129.9 464.6,129.8 464.9,129.8 465.3,129.8 465.6,129.7 466,129.7 466.3,129.7 466.7,129.7 467,129.7 467.3,129.7 467.7,129.7 468,129.7 468.4,129.8 468.7,129.8 469,129.8 469.4,129.9 469.7,129.9 470.1,130 470.4,130 470.7,130.1 471.1,130.2 471.4,130.2 471.8,130.3 472.1,130.4 472.5,130.5 472.8,130.6 473.1,130.6 473.5,130.7 473.8,130.8 474.2,130.9 474.5,131 474.8,131.1 475.2,131.2 475.5,131.3 475.9,131.4 476.2,131.5 476.6,131.7 476.9,131.8 477.2,131.9 477.6,132 477.9,132.1 478.3,132.2 478.6,132.3 478.9,132.3 479.3,132.4 479.6,132.5 480,132.6 480.3,132.7 480.6,132.8 481,132.9 481.3,132.9 481.7,133 482,133.1 482.4,133.2 482.7,133.2 483,133.3 483.4,133.3 483.7,133.4 484.1,133.5 484.4,133.5 484.7,133.6 485.1,133.6 485.4,133.7 485.8,133.7 486.1,133.7 486.4,133.8 486.8,133.8 487.1,133.8 487.5,133.9 487.8,133.9 488.2,133.9 488.5,133.9 488.8,134 489.2,134 489.5,134 489.9,134 490.2,134 490.5,134.1 490.9,134.1" fill="none" stroke="#2fae8e" stroke-width="0.4"/>
<polygon points="474.2,134.1 474.5,134.1 474.8,134.1 475.2,134 475.5,134 475.9,134 476.2,134 476.6,134 476.9,134 477.2,134 477.6,134 477.9,133.9 478.3,133.9 478.6,133.9 478.9,133.9 479.3,133.9 479.6,133.8 480,133.8 480.3,133.8 480.6,133.8 481,133.8 481.3,133.7 481.7,133.7 482,133.7 482.4,133.6 482.7,133.6 483,133.6 483.4,133.6 483.7,133.5 484.1,133.5 484.4,133.5 484.7,133.4 485.1,133.4 485.4,133.3 485.8,133.3 486.1,133.3 486.4,133.2 486.8,133.2 487.1,133.1 487.5,133.1 487.8,133 488.2,133 488.5,133 488.8,132.9 489.2,132.9 489.5,132.8 489.9,132.8 490.2,132.7 490.5,132.7 490.9,132.6 491.2,132.6 491.6,132.5 491.9,132.5 492.3,132.4 492.6,132.4 492.9,132.3 493.3,132.3 493.6,132.2 494,132.1 494.3,132.1 494.6,132 495,132 495.3,131.9 495.7,131.9 496,131.9 496.3,131.8 496.7,131.8 497,131.7 497.4,131.7 497.7,131.6 498.1,131.6 498.4,131.6 498.7,131.5 499.1,131.5 499.4,131.4 499.8,131.4 500.1,131.4 500.4,131.4 500.8,131.3 501.1,131.3 501.5,131.3 501.8,131.3 502.1,131.3 502.5,131.2 502.8,131.2 503.2,131.2 503.5,131.2 503.9,131.2 504.2,131.2 504.5,131.2 504.9,131.2 505.2,131.2 505.6,131.2 505.9,131.2 506.2,131.2 506.6,131.2 506.9,131.3 507.3,131.3 507.6,131.3 507.9,131.3 508.3,131.4 508.6,131.4 509,131.4 509.3,131.4 509.7,131.5 510,131.5 510.3,131.5 510.7,131.6 511,131.6 511.4,131.7 511.7,131.7 512,131.7 512.4,131.8 512.7,131.8 513.1,131.9 513.4,131.9 513.8,132 514.1,132 514.4,132.1 514.8,132.1 515.1,132.2 515.5,132.2 515.8,132.3 516.1,132.3 516.5,132.4 516.8,132.4 517.2,132.5 517.5,132.5 517.8,132.6 518.2,132.6 518.5,132.7 518.9,132.7 519.2,132.8 519.6,132.8 519.9,132.9 520.2,132.9 520.6,133 520.9,133 521.3,133.1 521.6,133.1 521.9,133.2 522.3,133.2 522.6,133.3 523,133.3 523.3,133.3 523.6,133.4 524,133.4 524.3,133.4 524.7,133.5 525,133.5 525.4,133.5 525.7,133.6 526,133.6 526.4,133.6 526.7,133.7 527.1,133.7 527.4,133.7 527.7,133.7 528.1,133.8 528.4,133.8 528.8,133.8 529.1,133.8 529.4,133.9 529.8,133.9 530.1,133.9 530.5,133.9 530.8,133.9 531.2,133.9 531.5,134 531.8,134 532.2,134 532.5,134 532.9,134 533.2,134 533.5,134 533.9,134.1 534.2,134.1 534.6,134.1 534.6,134.2 474.2,134.2" fill="url(#gBlue)"/>
<polyline points="474.2,134.1 474.5,134.1 474.8,134.1 475.2,134 475.5,134 475.9,134 476.2,134 476.6,134 476.9,134 477.2,134 477.6,134 477.9,133.9 478.3,133.9 478.6,133.9 478.9,133.9 479.3,133.9 479.6,133.8 480,133.8 480.3,133.8 480.6,133.8 481,133.8 481.3,133.7 481.7,133.7 482,133.7 482.4,133.6 482.7,133.6 483,133.6 483.4,133.6 483.7,133.5 484.1,133.5 484.4,133.5 484.7,133.4 485.1,133.4 485.4,133.3 485.8,133.3 486.1,133.3 486.4,133.2 486.8,133.2 487.1,133.1 487.5,133.1 487.8,133 488.2,133 488.5,133 488.8,132.9 489.2,132.9 489.5,132.8 489.9,132.8 490.2,132.7 490.5,132.7 490.9,132.6 491.2,132.6 491.6,132.5 491.9,132.5 492.3,132.4 492.6,132.4 492.9,132.3 493.3,132.3 493.6,132.2 494,132.1 494.3,132.1 494.6,132 495,132 495.3,131.9 495.7,131.9 496,131.9 496.3,131.8 496.7,131.8 497,131.7 497.4,131.7 497.7,131.6 498.1,131.6 498.4,131.6 498.7,131.5 499.1,131.5 499.4,131.4 499.8,131.4 500.1,131.4 500.4,131.4 500.8,131.3 501.1,131.3 501.5,131.3 501.8,131.3 502.1,131.3 502.5,131.2 502.8,131.2 503.2,131.2 503.5,131.2 503.9,131.2 504.2,131.2 504.5,131.2 504.9,131.2 505.2,131.2 505.6,131.2 505.9,131.2 506.2,131.2 506.6,131.2 506.9,131.3 507.3,131.3 507.6,131.3 507.9,131.3 508.3,131.4 508.6,131.4 509,131.4 509.3,131.4 509.7,131.5 510,131.5 510.3,131.5 510.7,131.6 511,131.6 511.4,131.7 511.7,131.7 512,131.7 512.4,131.8 512.7,131.8 513.1,131.9 513.4,131.9 513.8,132 514.1,132 514.4,132.1 514.8,132.1 515.1,132.2 515.5,132.2 515.8,132.3 516.1,132.3 516.5,132.4 516.8,132.4 517.2,132.5 517.5,132.5 517.8,132.6 518.2,132.6 518.5,132.7 518.9,132.7 519.2,132.8 519.6,132.8 519.9,132.9 520.2,132.9 520.6,133 520.9,133 521.3,133.1 521.6,133.1 521.9,133.2 522.3,133.2 522.6,133.3 523,133.3 523.3,133.3 523.6,133.4 524,133.4 524.3,133.4 524.7,133.5 525,133.5 525.4,133.5 525.7,133.6 526,133.6 526.4,133.6 526.7,133.7 527.1,133.7 527.4,133.7 527.7,133.7 528.1,133.8 528.4,133.8 528.8,133.8 529.1,133.8 529.4,133.9 529.8,133.9 530.1,133.9 530.5,133.9 530.8,133.9 531.2,133.9 531.5,134 531.8,134 532.2,134 532.5,134 532.9,134 533.2,134 533.5,134 533.9,134.1 534.2,134.1 534.6,134.1" fill="none" stroke="#34558a" stroke-width="0.5"/>
<polygon points="508.3,134.1 508.6,134 509,134 509.3,134 509.7,134 510,133.9 510.3,133.9 510.7,133.9 511,133.8 511.4,133.8 511.7,133.7 512,133.6 512.4,133.6 512.7,133.5 513.1,133.4 513.4,133.3 513.8,133.2 514.1,133 514.4,132.9 514.8,132.7 515.1,132.6 515.5,132.4 515.8,132.2 516.1,132 516.5,131.7 516.8,131.5 517.2,131.2 517.5,130.9 517.8,130.5 518.2,130.2 518.5,129.8 518.9,129.4 519.2,128.9 519.6,128.5 519.9,127.9 520.2,127.4 520.6,126.8 520.9,126.2 521.3,125.6 521.6,124.9 521.9,124.1 522.3,123.4 522.6,122.6 523,121.7 523.3,120.9 523.6,119.9 524,119 524.3,118 524.7,117 525,115.9 525.4,114.8 525.7,113.7 526,112.6 526.4,111.4 526.7,110.3 527.1,109.1 527.4,107.8 527.7,106.6 528.1,105.4 528.4,104.1 528.8,102.9 529.1,101.7 529.4,100.5 529.8,99.2 530.1,98.1 530.5,96.9 530.8,95.8 531.2,94.7 531.5,93.6 531.8,92.6 532.2,91.6 532.5,90.7 532.9,89.9 533.2,89.1 533.5,88.3 533.9,87.7 534.2,87.1 534.6,86.6 534.9,86.1 535.3,85.8 535.6,85.5 535.9,85.3 536.3,85.2 536.6,85.2 537,85.3 537.3,85.4 537.6,85.6 538,86 538.3,86.4 538.7,86.8 539,87.4 539.3,88 539.7,88.7 540,89.5 540.4,90.3 540.7,91.2 541.1,92.1 541.4,93.1 541.7,94.1 542.1,95.2 542.4,96.3 542.8,97.5 543.1,98.7 543.4,99.8 543.8,101.1 544.1,102.3 544.5,103.5 544.8,104.8 545.1,106 545.5,107.2 545.8,108.4 546.2,109.7 546.5,110.8 546.9,112 547.2,113.2 547.5,114.3 547.9,115.4 548.2,116.5 548.6,117.5 548.9,118.5 549.2,119.5 549.6,120.4 549.9,121.3 550.3,122.2 550.6,123 551,123.8 551.3,124.5 551.6,125.2 552,125.9 552.3,126.5 552.7,127.1 553,127.7 553.3,128.2 553.7,128.7 554,129.2 554.4,129.6 554.7,130 555,130.4 555.4,130.7 555.7,131 556.1,131.3 556.4,131.6 556.8,131.9 557.1,132.1 557.4,132.3 557.8,132.5 558.1,132.7 558.5,132.8 558.8,133 559.1,133.1 559.5,133.2 559.8,133.3 560.2,133.4 560.5,133.5 560.8,133.6 561.2,133.7 561.5,133.7 561.9,133.8 562.2,133.8 562.6,133.9 562.9,133.9 563.2,134 563.6,134 563.9,134 564.3,134 564.6,134.1 564.9,134.1 564.9,134.2 508.3,134.2" fill="url(#gRed)"/>
<polyline points="508.3,134.1 508.6,134 509,134 509.3,134 509.7,134 510,133.9 510.3,133.9 510.7,133.9 511,133.8 511.4,133.8 511.7,133.7 512,133.6 512.4,133.6 512.7,133.5 513.1,133.4 513.4,133.3 513.8,133.2 514.1,133 514.4,132.9 514.8,132.7 515.1,132.6 515.5,132.4 515.8,132.2 516.1,132 516.5,131.7 516.8,131.5 517.2,131.2 517.5,130.9 517.8,130.5 518.2,130.2 518.5,129.8 518.9,129.4 519.2,128.9 519.6,128.5 519.9,127.9 520.2,127.4 520.6,126.8 520.9,126.2 521.3,125.6 521.6,124.9 521.9,124.1 522.3,123.4 522.6,122.6 523,121.7 523.3,120.9 523.6,119.9 524,119 524.3,118 524.7,117 525,115.9 525.4,114.8 525.7,113.7 526,112.6 526.4,111.4 526.7,110.3 527.1,109.1 527.4,107.8 527.7,106.6 528.1,105.4 528.4,104.1 528.8,102.9 529.1,101.7 529.4,100.5 529.8,99.2 530.1,98.1 530.5,96.9 530.8,95.8 531.2,94.7 531.5,93.6 531.8,92.6 532.2,91.6 532.5,90.7 532.9,89.9 533.2,89.1 533.5,88.3 533.9,87.7 534.2,87.1 534.6,86.6 534.9,86.1 535.3,85.8 535.6,85.5 535.9,85.3 536.3,85.2 536.6,85.2 537,85.3 537.3,85.4 537.6,85.6 538,86 538.3,86.4 538.7,86.8 539,87.4 539.3,88 539.7,88.7 540,89.5 540.4,90.3 540.7,91.2 541.1,92.1 541.4,93.1 541.7,94.1 542.1,95.2 542.4,96.3 542.8,97.5 543.1,98.7 543.4,99.8 543.8,101.1 544.1,102.3 544.5,103.5 544.8,104.8 545.1,106 545.5,107.2 545.8,108.4 546.2,109.7 546.5,110.8 546.9,112 547.2,113.2 547.5,114.3 547.9,115.4 548.2,116.5 548.6,117.5 548.9,118.5 549.2,119.5 549.6,120.4 549.9,121.3 550.3,122.2 550.6,123 551,123.8 551.3,124.5 551.6,125.2 552,125.9 552.3,126.5 552.7,127.1 553,127.7 553.3,128.2 553.7,128.7 554,129.2 554.4,129.6 554.7,130 555,130.4 555.4,130.7 555.7,131 556.1,131.3 556.4,131.6 556.8,131.9 557.1,132.1 557.4,132.3 557.8,132.5 558.1,132.7 558.5,132.8 558.8,133 559.1,133.1 559.5,133.2 559.8,133.3 560.2,133.4 560.5,133.5 560.8,133.6 561.2,133.7 561.5,133.7 561.9,133.8 562.2,133.8 562.6,133.9 562.9,133.9 563.2,134 563.6,134 563.9,134 564.3,134 564.6,134.1 564.9,134.1" fill="none" stroke="#e06060" stroke-width="0.4"/>
<line x1="425.2" y1="134.2" x2="596.5" y2="134.2" stroke="#f2a0a0" stroke-width="0.6"/>
<polyline points="425.7,132.7 426,133.9 426.4,133.4 426.7,134 427.1,133.6 427.4,133.9 427.7,133.1 428.1,133.5 428.4,134.4 428.8,132.6 429.1,133.7 429.5,134 429.8,133.4 430.1,133.5 430.5,133.8 430.8,132.9 431.2,133.4 431.5,132.8 431.8,132.9 432.2,132.9 432.5,133.1 432.9,133.3 433.2,133.4 433.5,132.5 433.9,134.1 434.2,133.7 434.6,133.5 434.9,133 435.3,133.1 435.6,133.4 435.9,133.4 436.3,132.4 436.6,133.5 437,134.5 437.3,132.3 437.6,133.6 438,133.3 438.3,133.1 438.7,133.8 439,132.6 439.4,133.2 439.7,133.8 440,133.1 440.4,132.9 440.7,133.2 441.1,132.9 441.4,133.8 441.7,132.7 442.1,133.5 442.4,132.5 442.8,133.4 443.1,133 443.4,131.9 443.8,133 444.1,132.5 444.5,132.8 444.8,133.7 445.2,132.4 445.5,132.4 445.8,133.6 446.2,132.9 446.5,133.6 446.9,133 447.2,132.4 447.5,132.7 447.9,133.3 448.2,133.1 448.6,132.6 448.9,132.6 449.2,132.5 449.6,132.2 449.9,133.3 450.3,132.4 450.6,131.8 451,132.1 451.3,132.5 451.6,132.4 452,132 452.3,131.7 452.7,131.9 453,131.1 453.3,131.2 453.7,132.1 454,131.4 454.4,131.7 454.7,132 455.1,131.6 455.4,131.2 455.7,132.1 456.1,131.3 456.4,130.8 456.8,131.2 457.1,130.9 457.4,130.2 457.8,130.6 458.1,130.3 458.5,129.4 458.8,130.1 459.1,130 459.5,129.8 459.8,129.1 460.2,129.6 460.5,129.7 460.9,129.7 461.2,129 461.5,129.7 461.9,128.8 462.2,129.2 462.6,129.8 462.9,128.8 463.2,128.8 463.6,129.5 463.9,128.8 464.3,128.7 464.6,128.9 464.9,129.3 465.3,127.7 465.6,128.3 466,128.2 466.3,128.2 466.7,128.3 467,128.3 467.3,128.8 467.7,128.3 468,128.8 468.4,128.9 468.7,128.4 469,128.8 469.4,129.6 469.7,129 470.1,128.6 470.4,128.9 470.7,128.6 471.1,129.2 471.4,129.6 471.8,128.9 472.1,129.2 472.5,129.9 472.8,129.2 473.1,129.6 473.5,129.2 473.8,129.3 474.2,129.6 474.5,130.9 474.8,129.8 475.2,129.8 475.5,129.9 475.9,130.2 476.2,130.7 476.6,130.5 476.9,131.5 477.2,130.7 477.6,131.4 477.9,130.9 478.3,131.2 478.6,130.3 478.9,131 479.3,131.1 479.6,131.1 480,130.3 480.3,131.7 480.6,131.2 481,131.2 481.3,131.4 481.7,131.4 482,131.7 482.4,131 482.7,131.2 483,131.8 483.4,131.8 483.7,131.6 484.1,131.5 484.4,131.4 484.7,131.8 485.1,132.3 485.4,131.3 485.8,132.5 486.1,132.2 486.4,131.6 486.8,132.1 487.1,131.1 487.5,131 487.8,131.2 488.2,131.5 488.5,131.6 488.8,131.4 489.2,131.7 489.5,130.7 489.9,131.8 490.2,130.9 490.5,131.2 490.9,131.3 491.2,130.9 491.6,130.8 491.9,130.9 492.3,131.3 492.6,131.5 492.9,131.5 493.3,130.7 493.6,130.8 494,130.7 494.3,131.3 494.6,130.1 495,131.5 495.3,130.7 495.7,130.5 496,131 496.3,131.2 496.7,130.9 497,131.2 497.4,130.7 497.7,131.2 498.1,131.1 498.4,130.5 498.7,131.2 499.1,130.5 499.4,130.5 499.8,130 500.1,130.2 500.4,130.7 500.8,129.7 501.1,130.6 501.5,130.4 501.8,130.4 502.1,129.2 502.5,130.1 502.8,130.5 503.2,129.8 503.5,130.2 503.9,129 504.2,130.4 504.5,129.8 504.9,130.5 505.2,129.2 505.6,130.3 505.9,129.9 506.2,130.4 506.6,129.5 506.9,129.7 507.3,130.9 507.6,129.5 507.9,129.5 508.3,129.7 508.6,129.3 509,130.2 509.3,130.4 509.7,129.2 510,128.7 510.3,129.9 510.7,129.8 511,129.5 511.4,129.6 511.7,128.5 512,128.7 512.4,128 512.7,127.8 513.1,128.7 513.4,127.7 513.8,128.8 514.1,127.6 514.4,127 514.8,127.4 515.1,127.6 515.5,126.7 515.8,125.6 516.1,125.9 516.5,126 516.8,124.8 517.2,124.3 517.5,124.7 517.8,123.9 518.2,122.9 518.5,122.7 518.9,122.1 519.2,122 519.6,121.4 519.9,121.3 520.2,120.6 520.6,119 520.9,119.2 521.3,118.8 521.6,118 521.9,117.6 522.3,116.2 522.6,115.3 523,115.4 523.3,113.7 523.6,112.4 524,113.1 524.3,111.4 524.7,110.8 525,109.4 525.4,108.5 525.7,107.7 526,107.1 526.4,106.4 526.7,104.2 527.1,104.6 527.4,102.7 527.7,101.7 528.1,101.5 528.4,100.1 528.8,98.4 529.1,98.9 529.4,96.6 529.8,96.1 530.1,95.1 530.5,94.6 530.8,92.8 531.2,92.5 531.5,90.8 531.8,90.7 532.2,89 532.5,88.4 532.9,88.7 533.2,87.3 533.5,86.6 533.9,86.9 534.2,85.6 534.6,84.6 534.9,84.9 535.3,83.8 535.6,84.6 535.9,84.5 536.3,83.6 536.6,83.6 537,84.1 537.3,84.2 537.6,84 538,85 538.3,84.3 538.7,85.5 539,86.1 539.3,86.8 539.7,87.7 540,87.8 540.4,89.5 540.7,90 541.1,90.8 541.4,91.4 541.7,92.6 542.1,94.3 542.4,94.9 542.8,96.5 543.1,98.1 543.4,99.3 543.8,100.7 544.1,101.1 544.5,102 544.8,104.2 545.1,105.1 545.5,106.7 545.8,107.4 546.2,109.2 546.5,110.2 546.9,111.3 547.2,112.4 547.5,113.5 547.9,114.5 548.2,115.6 548.6,116.9 548.9,117.3 549.2,119.2 549.6,119.3 549.9,120.7 550.3,121.1 550.6,121.9 551,123.7 551.3,123.4 551.6,123.6 552,124.6 552.3,125.4 552.7,127.1 553,126.8 553.3,127.6 553.7,127.2 554,128.3 554.4,128.9 554.7,129.8 555,129.1 555.4,130 555.7,130.2 556.1,129.9 556.4,130.6 556.8,130.7 557.1,130 557.4,131.6 557.8,131.7 558.1,131.5 558.5,131.2 558.8,132.6 559.1,132.2 559.5,132.7 559.8,133 560.2,132.2 560.5,132.9 560.8,132.5 561.2,132.6 561.5,132.7 561.9,132.8 562.2,133.3 562.6,132.9 562.9,132.9 563.2,132.8 563.6,133.1 563.9,132.6 564.3,132.8 564.6,133 564.9,132.8 565.3,133 565.6,132.8 566,134 566.3,133.7 566.6,133.3 567,133.1 567.3,134.1 567.7,133.3 568,133.1 568.4,133.3 568.7,133.3 569,133.8 569.4,133.2 569.7,134.1 570.1,132.8 570.4,133.5 570.7,132.7 571.1,134 571.4,133 571.8,133.2 572.1,133.6 572.5,133.8 572.8,132.7 573.1,133 573.5,132.6 573.8,133.3 574.2,133.2 574.5,133 574.8,132.9 575.2,133 575.5,132.9 575.9,133.4 576.2,133.9 576.5,132.3 576.9,133.1 577.2,133 577.6,133.4 577.9,132.8 578.3,133.1 578.6,132.7 578.9,133.5 579.3,133.2 579.6,133.1 580,133.4 580.3,133.1 580.6,132.5 581,133.5 581.3,133.3 581.7,133.1 582,133.6 582.3,133.7 582.7,132.7 583,132.8 583.4,133.9 583.7,133.8 584.1,132.9 584.4,132.7 584.7,132.9 585.1,133 585.4,132.5 585.8,133.2 586.1,132.6 586.4,132.7 586.8,133.6 587.1,132.9 587.5,133.2 587.8,133.5 588.2,133.6 588.5,133 588.8,133.2 589.2,132.8 589.5,134 589.9,133.5 590.2,132.7 590.5,133.2 590.9,133.5 591.2,133.4 591.6,134 591.9,133.8 592.2,133 592.6,133.2 592.9,132.6 593.3,133.3 593.6,133.3 594,134.4 594.3,133.2 594.6,132.3 595,132.9 595.3,133.3 595.7,132.6 596,132.8" fill="none" stroke="#4a4a4a" stroke-width="1.15" stroke-linejoin="round"/>
<rect x="425.2" y="9.3" width="171.3" height="134.9" fill="none" stroke="#444" stroke-width="0.9"/>
<text x="430.6" y="23.01" font-size="8.2" fill="#111" font-weight="bold" font-family="'Liberation Serif', serif" stroke="#111" stroke-width="0.22">C 1s</text>
<text x="458.5" y="69.74" font-size="8.3" fill="#3bbd9c" font-weight="bold" font-family="'Liberation Serif', serif" stroke="#3bbd9c" stroke-width="0.22">C=O</text>
<text x="490" y="69.74" font-size="8.3" fill="#2e4f86" font-weight="bold" font-family="'Liberation Serif', serif" stroke="#2e4f86" stroke-width="0.22">C-N</text>
<text x="527.5" y="23.44" font-size="8.3" fill="#ef6f6b" font-family="'Liberation Serif', serif" stroke="#ef6f6b" stroke-width="0.3">C-C</text>
<text x="562.6" y="71.07" font-size="8.4" fill="#f52222" font-weight="bold" font-family="'Liberation Serif', serif" stroke="#f52222" stroke-width="0.22">GA acid</text>
<text x="562.6" y="130.21" font-size="8.2" fill="#111" font-weight="bold" font-family="'Liberation Serif', serif" stroke="#111" stroke-width="0.22">Control</text>
<line x1="425.2" y1="144.2" x2="425.2" y2="146.7" stroke="#333" stroke-width="0.8"/>
<line x1="468.02" y1="144.2" x2="468.02" y2="146.7" stroke="#333" stroke-width="0.8"/>
<line x1="510.84" y1="144.2" x2="510.84" y2="146.7" stroke="#333" stroke-width="0.8"/>
<line x1="553.66" y1="144.2" x2="553.66" y2="146.7" stroke="#333" stroke-width="0.8"/>
<line x1="596.48" y1="144.2" x2="596.48" y2="146.7" stroke="#333" stroke-width="0.8"/>
<line x1="446.61" y1="144.2" x2="446.61" y2="145.8" stroke="#333" stroke-width="0.7"/>
<line x1="489.43" y1="144.2" x2="489.43" y2="145.8" stroke="#333" stroke-width="0.7"/>
<line x1="532.25" y1="144.2" x2="532.25" y2="145.8" stroke="#333" stroke-width="0.7"/>
<line x1="575.07" y1="144.2" x2="575.07" y2="145.8" stroke="#333" stroke-width="0.7"/>
<text x="425.2" y="155.84" font-size="8" fill="#111" text-anchor="middle" font-weight="bold" font-family="'Liberation Serif', serif" stroke="#111" stroke-width="0.22">290</text>
<text x="468.02" y="155.84" font-size="8" fill="#111" text-anchor="middle" font-weight="bold" font-family="'Liberation Serif', serif" stroke="#111" stroke-width="0.22">288</text>
<text x="510.84" y="155.84" font-size="8" fill="#111" text-anchor="middle" font-weight="bold" font-family="'Liberation Serif', serif" stroke="#111" stroke-width="0.22">286</text>
<text x="553.66" y="155.84" font-size="8" fill="#111" text-anchor="middle" font-weight="bold" font-family="'Liberation Serif', serif" stroke="#111" stroke-width="0.22">284</text>
<text x="596.48" y="155.84" font-size="8" fill="#111" text-anchor="middle" font-weight="bold" font-family="'Liberation Serif', serif" stroke="#111" stroke-width="0.22">282</text>
<text x="510.8" y="165.57" font-size="9.3" fill="#111" text-anchor="middle" font-weight="bold" font-family="'Liberation Serif', serif" stroke="#111" stroke-width="0.22">Binding Energy (eV)</text>
<text x="415.7" y="81.97" font-size="9" fill="#111" text-anchor="middle" font-weight="bold" transform="rotate(-90 415.7 79)" font-family="'Liberation Serif', serif" stroke="#111" stroke-width="0.22">Intensity (a. u.)</text>
<text x="410.6" y="14.2" font-size="18.5" fill="#000" font-weight="bold" font-family="'Liberation Serif', serif">c</text>
<polygon points="40.6,249.4 41.1,249.4 41.5,249.3 41.9,249.3 42.3,249.3 42.7,249.3 43.2,249.3 43.6,249.2 44,249.2 44.4,249.2 44.9,249.1 45.3,249.1 45.7,249 46.1,249 46.5,249 47,248.9 47.4,248.8 47.8,248.8 48.2,248.7 48.7,248.6 49.1,248.6 49.5,248.5 49.9,248.4 50.3,248.3 50.8,248.2 51.2,248 51.6,247.9 52,247.8 52.5,247.6 52.9,247.5 53.3,247.3 53.7,247.1 54.1,246.9 54.6,246.7 55,246.5 55.4,246.3 55.8,246.1 56.3,245.8 56.7,245.5 57.1,245.2 57.5,244.9 57.9,244.6 58.4,244.3 58.8,243.9 59.2,243.5 59.6,243.1 60.1,242.7 60.5,242.2 60.9,241.8 61.3,241.3 61.8,240.8 62.2,240.3 62.6,239.7 63,239.1 63.4,238.5 63.9,237.9 64.3,237.3 64.7,236.6 65.1,235.9 65.6,235.2 66,234.5 66.4,233.7 66.8,232.9 67.2,232.1 67.7,231.3 68.1,230.4 68.5,229.6 68.9,228.7 69.4,227.8 69.8,226.9 70.2,225.9 70.6,225 71,224 71.5,223 71.9,222 72.3,221 72.7,220 73.2,219 73.6,218 74,216.9 74.4,215.9 74.8,214.9 75.3,213.9 75.7,212.8 76.1,211.8 76.5,210.8 77,209.8 77.4,208.9 77.8,207.9 78.2,207 78.6,206.1 79.1,205.2 79.5,204.3 79.9,203.4 80.3,202.6 80.8,201.8 81.2,201.1 81.6,200.4 82,199.7 82.4,199.1 82.9,198.5 83.3,197.9 83.7,197.4 84.1,196.9 84.6,196.5 85,196.2 85.4,195.8 85.8,195.6 86.2,195.4 86.7,195.2 87.1,195.1 87.5,195 87.9,195 88.4,195 88.8,195.1 89.2,195.3 89.6,195.5 90,195.7 90.5,196 90.9,196.4 91.3,196.8 91.7,197.2 92.2,197.7 92.6,198.3 93,198.8 93.4,199.5 93.8,200.1 94.3,200.8 94.7,201.6 95.1,202.3 95.5,203.1 96,204 96.4,204.8 96.8,205.7 97.2,206.6 97.6,207.6 98.1,208.5 98.5,209.5 98.9,210.5 99.3,211.5 99.8,212.5 100.2,213.5 100.6,214.5 101,215.5 101.4,216.6 101.9,217.6 102.3,218.6 102.7,219.6 103.1,220.6 103.6,221.6 104,222.6 104.4,223.6 104.8,224.6 105.2,225.6 105.7,226.5 106.1,227.4 106.5,228.4 106.9,229.3 107.4,230.1 107.8,231 108.2,231.8 108.6,232.6 109,233.4 109.5,234.2 109.9,234.9 110.3,235.7 110.7,236.4 111.2,237 111.6,237.7 112,238.3 112.4,238.9 112.8,239.5 113.3,240.1 113.7,240.6 114.1,241.1 114.5,241.6 115,242.1 115.4,242.5 115.8,243 116.2,243.4 116.7,243.8 117.1,244.1 117.5,244.5 117.9,244.8 118.3,245.1 118.8,245.4 119.2,245.7 119.6,246 120,246.2 120.5,246.4 120.9,246.7 121.3,246.9 121.7,247.1 122.1,247.3 122.6,247.4 123,247.6 123.4,247.7 123.8,247.9 124.3,248 124.7,248.1 125.1,248.2 125.5,248.3 125.9,248.4 126.4,248.5 126.8,248.6 127.2,248.7 127.6,248.8 128.1,248.8 128.5,248.9 128.9,248.9 129.3,249 129.7,249 130.2,249.1 130.6,249.1 131,249.1 131.4,249.2 131.9,249.2 132.3,249.2 132.7,249.3 133.1,249.3 133.5,249.3 134,249.3 134.4,249.3 134.8,249.4 135.2,249.4 135.2,249.5 40.6,249.5" fill="url(#gRed)"/>
<polyline points="40.6,249.4 41.1,249.4 41.5,249.3 41.9,249.3 42.3,249.3 42.7,249.3 43.2,249.3 43.6,249.2 44,249.2 44.4,249.2 44.9,249.1 45.3,249.1 45.7,249 46.1,249 46.5,249 47,248.9 47.4,248.8 47.8,248.8 48.2,248.7 48.7,248.6 49.1,248.6 49.5,248.5 49.9,248.4 50.3,248.3 50.8,248.2 51.2,248 51.6,247.9 52,247.8 52.5,247.6 52.9,247.5 53.3,247.3 53.7,247.1 54.1,246.9 54.6,246.7 55,246.5 55.4,246.3 55.8,246.1 56.3,245.8 56.7,245.5 57.1,245.2 57.5,244.9 57.9,244.6 58.4,244.3 58.8,243.9 59.2,243.5 59.6,243.1 60.1,242.7 60.5,242.2 60.9,241.8 61.3,241.3 61.8,240.8 62.2,240.3 62.6,239.7 63,239.1 63.4,238.5 63.9,237.9 64.3,237.3 64.7,236.6 65.1,235.9 65.6,235.2 66,234.5 66.4,233.7 66.8,232.9 67.2,232.1 67.7,231.3 68.1,230.4 68.5,229.6 68.9,228.7 69.4,227.8 69.8,226.9 70.2,225.9 70.6,225 71,224 71.5,223 71.9,222 72.3,221 72.7,220 73.2,219 73.6,218 74,216.9 74.4,215.9 74.8,214.9 75.3,213.9 75.7,212.8 76.1,211.8 76.5,210.8 77,209.8 77.4,208.9 77.8,207.9 78.2,207 78.6,206.1 79.1,205.2 79.5,204.3 79.9,203.4 80.3,202.6 80.8,201.8 81.2,201.1 81.6,200.4 82,199.7 82.4,199.1 82.9,198.5 83.3,197.9 83.7,197.4 84.1,196.9 84.6,196.5 85,196.2 85.4,195.8 85.8,195.6 86.2,195.4 86.7,195.2 87.1,195.1 87.5,195 87.9,195 88.4,195 88.8,195.1 89.2,195.3 89.6,195.5 90,195.7 90.5,196 90.9,196.4 91.3,196.8 91.7,197.2 92.2,197.7 92.6,198.3 93,198.8 93.4,199.5 93.8,200.1 94.3,200.8 94.7,201.6 95.1,202.3 95.5,203.1 96,204 96.4,204.8 96.8,205.7 97.2,206.6 97.6,207.6 98.1,208.5 98.5,209.5 98.9,210.5 99.3,211.5 99.8,212.5 100.2,213.5 100.6,214.5 101,215.5 101.4,216.6 101.9,217.6 102.3,218.6 102.7,219.6 103.1,220.6 103.6,221.6 104,222.6 104.4,223.6 104.8,224.6 105.2,225.6 105.7,226.5 106.1,227.4 106.5,228.4 106.9,229.3 107.4,230.1 107.8,231 108.2,231.8 108.6,232.6 109,233.4 109.5,234.2 109.9,234.9 110.3,235.7 110.7,236.4 111.2,237 111.6,237.7 112,238.3 112.4,238.9 112.8,239.5 113.3,240.1 113.7,240.6 114.1,241.1 114.5,241.6 115,242.1 115.4,242.5 115.8,243 116.2,243.4 116.7,243.8 117.1,244.1 117.5,244.5 117.9,244.8 118.3,245.1 118.8,245.4 119.2,245.7 119.6,246 120,246.2 120.5,246.4 120.9,246.7 121.3,246.9 121.7,247.1 122.1,247.3 122.6,247.4 123,247.6 123.4,247.7 123.8,247.9 124.3,248 124.7,248.1 125.1,248.2 125.5,248.3 125.9,248.4 126.4,248.5 126.8,248.6 127.2,248.7 127.6,248.8 128.1,248.8 128.5,248.9 128.9,248.9 129.3,249 129.7,249 130.2,249.1 130.6,249.1 131,249.1 131.4,249.2 131.9,249.2 132.3,249.2 132.7,249.3 133.1,249.3 133.5,249.3 134,249.3 134.4,249.3 134.8,249.4 135.2,249.4" fill="none" stroke="#e06060" stroke-width="0.5"/>
<polygon points="107.4,248.4 107.8,248.4 108.2,248.3 108.6,248.3 109,248.3 109.5,248.3 109.9,248.2 110.3,248.2 110.7,248.2 111.2,248.1 111.6,248.1 112,248.1 112.4,248 112.8,248 113.3,247.9 113.7,247.8 114.1,247.8 114.5,247.7 115,247.6 115.4,247.5 115.8,247.5 116.2,247.4 116.7,247.3 117.1,247.2 117.5,247.1 117.9,246.9 118.3,246.8 118.8,246.7 119.2,246.6 119.6,246.4 120,246.3 120.5,246.1 120.9,246 121.3,245.8 121.7,245.6 122.1,245.4 122.6,245.3 123,245.1 123.4,244.9 123.8,244.7 124.3,244.5 124.7,244.3 125.1,244.1 125.5,243.9 125.9,243.7 126.4,243.5 126.8,243.3 127.2,243.1 127.6,242.9 128.1,242.7 128.5,242.5 128.9,242.3 129.3,242.1 129.7,241.9 130.2,241.8 130.6,241.6 131,241.4 131.4,241.3 131.9,241.2 132.3,241 132.7,240.9 133.1,240.8 133.5,240.7 134,240.7 134.4,240.6 134.8,240.6 135.2,240.5 135.7,240.5 136.1,240.5 136.5,240.5 136.9,240.5 137.3,240.6 137.8,240.6 138.2,240.7 138.6,240.8 139,240.9 139.5,241 139.9,241.1 140.3,241.2 140.7,241.3 141.1,241.5 141.6,241.6 142,241.8 142.4,242 142.8,242.2 143.3,242.4 143.7,242.5 144.1,242.7 144.5,242.9 144.9,243.1 145.4,243.3 145.8,243.5 146.2,243.8 146.6,244 147.1,244.2 147.5,244.4 147.9,244.6 148.3,244.8 148.7,244.9 149.2,245.1 149.6,245.3 150,245.5 150.4,245.7 150.9,245.8 151.3,246 151.7,246.2 152.1,246.3 152.5,246.5 153,246.6 153.4,246.7 153.8,246.9 154.2,247 154.7,247.1 155.1,247.2 155.5,247.3 155.9,247.4 156.3,247.5 156.8,247.6 157.2,247.7 157.6,247.7 158,247.8 158.5,247.9 158.9,247.9 159.3,248 159.7,248 160.1,248.1 160.6,248.1 161,248.1 161.4,248.2 161.8,248.2 162.3,248.2 162.7,248.3 163.1,248.3 163.5,248.3 163.9,248.3 164.4,248.4 164.8,248.4 164.8,248.5 107.4,248.5" fill="url(#gTeal)"/>
<polyline points="107.4,248.4 107.8,248.4 108.2,248.3 108.6,248.3 109,248.3 109.5,248.3 109.9,248.2 110.3,248.2 110.7,248.2 111.2,248.1 111.6,248.1 112,248.1 112.4,248 112.8,248 113.3,247.9 113.7,247.8 114.1,247.8 114.5,247.7 115,247.6 115.4,247.5 115.8,247.5 116.2,247.4 116.7,247.3 117.1,247.2 117.5,247.1 117.9,246.9 118.3,246.8 118.8,246.7 119.2,246.6 119.6,246.4 120,246.3 120.5,246.1 120.9,246 121.3,245.8 121.7,245.6 122.1,245.4 122.6,245.3 123,245.1 123.4,244.9 123.8,244.7 124.3,244.5 124.7,244.3 125.1,244.1 125.5,243.9 125.9,243.7 126.4,243.5 126.8,243.3 127.2,243.1 127.6,242.9 128.1,242.7 128.5,242.5 128.9,242.3 129.3,242.1 129.7,241.9 130.2,241.8 130.6,241.6 131,241.4 131.4,241.3 131.9,241.2 132.3,241 132.7,240.9 133.1,240.8 133.5,240.7 134,240.7 134.4,240.6 134.8,240.6 135.2,240.5 135.7,240.5 136.1,240.5 136.5,240.5 136.9,240.5 137.3,240.6 137.8,240.6 138.2,240.7 138.6,240.8 139,240.9 139.5,241 139.9,241.1 140.3,241.2 140.7,241.3 141.1,241.5 141.6,241.6 142,241.8 142.4,242 142.8,242.2 143.3,242.4 143.7,242.5 144.1,242.7 144.5,242.9 144.9,243.1 145.4,243.3 145.8,243.5 146.2,243.8 146.6,244 147.1,244.2 147.5,244.4 147.9,244.6 148.3,244.8 148.7,244.9 149.2,245.1 149.6,245.3 150,245.5 150.4,245.7 150.9,245.8 151.3,246 151.7,246.2 152.1,246.3 152.5,246.5 153,246.6 153.4,246.7 153.8,246.9 154.2,247 154.7,247.1 155.1,247.2 155.5,247.3 155.9,247.4 156.3,247.5 156.8,247.6 157.2,247.7 157.6,247.7 158,247.8 158.5,247.9 158.9,247.9 159.3,248 159.7,248 160.1,248.1 160.6,248.1 161,248.1 161.4,248.2 161.8,248.2 162.3,248.2 162.7,248.3 163.1,248.3 163.5,248.3 163.9,248.3 164.4,248.4 164.8,248.4" fill="none" stroke="#2fae8e" stroke-width="0.5"/>
<line x1="30.5" y1="249.5" x2="199" y2="249.5" stroke="#ec8a86" stroke-width="0.7"/>
<circle cx="31.55" cy="243.89" r="1.55" fill="none" stroke="#e96a66" stroke-width="0.6"/>
<circle cx="34.19" cy="244.28" r="1.55" fill="none" stroke="#e96a66" stroke-width="0.6"/>
<circle cx="34.79" cy="244.69" r="1.55" fill="none" stroke="#e96a66" stroke-width="0.6"/>
<circle cx="35.2" cy="245.38" r="1.55" fill="none" stroke="#e96a66" stroke-width="0.6"/>
<circle cx="37.53" cy="247.39" r="1.55" fill="none" stroke="#e96a66" stroke-width="0.6"/>
<circle cx="37.8" cy="243.24" r="1.55" fill="none" stroke="#e96a66" stroke-width="0.6"/>
<circle cx="38.71" cy="246.21" r="1.55" fill="none" stroke="#e96a66" stroke-width="0.6"/>
<circle cx="42.05" cy="246.35" r="1.55" fill="none" stroke="#e96a66" stroke-width="0.6"/>
<circle cx="42.65" cy="246.23" r="1.55" fill="none" stroke="#e96a66" stroke-width="0.6"/>
<circle cx="45.58" cy="245.85" r="1.55" fill="none" stroke="#e96a66" stroke-width="0.6"/>
<circle cx="45.72" cy="247.63" r="1.55" fill="none" stroke="#e96a66" stroke-width="0.6"/>
<circle cx="45.83" cy="245.86" r="1.55" fill="none" stroke="#e96a66" stroke-width="0.6"/>
<circle cx="47.16" cy="246.33" r="1.55" fill="none" stroke="#e96a66" stroke-width="0.6"/>
<circle cx="48.21" cy="245.67" r="1.55" fill="none" stroke="#e96a66" stroke-width="0.6"/>
<circle cx="48.75" cy="247.66" r="1.55" fill="none" stroke="#e96a66" stroke-width="0.6"/>
<circle cx="48.93" cy="241.35" r="1.55" fill="none" stroke="#e96a66" stroke-width="0.6"/>
<circle cx="50.17" cy="246.49" r="1.55" fill="none" stroke="#e96a66" stroke-width="0.6"/>
<circle cx="50.26" cy="243.85" r="1.55" fill="none" stroke="#e96a66" stroke-width="0.6"/>
<circle cx="50.42" cy="243.78" r="1.55" fill="none" stroke="#e96a66" stroke-width="0.6"/>
<circle cx="51.3" cy="242.37" r="1.55" fill="none" stroke="#e96a66" stroke-width="0.6"/>
<circle cx="51.9" cy="240.65" r="1.55" fill="none" stroke="#e96a66" stroke-width="0.6"/>
<circle cx="52.15" cy="243.1" r="1.55" fill="none" stroke="#e96a66" stroke-width="0.6"/>
<circle cx="54.86" cy="241.43" r="1.55" fill="none" stroke="#e96a66" stroke-width="0.6"/>
<circle cx="55.93" cy="242.84" r="1.55" fill="none" stroke="#e96a66" stroke-width="0.6"/>
<circle cx="56.14" cy="239.37" r="1.55" fill="none" stroke="#e96a66" stroke-width="0.6"/>
<circle cx="56.96" cy="243.77" r="1.55" fill="none" stroke="#e96a66" stroke-width="0.6"/>
<circle cx="61.02" cy="238.12" r="1.55" fill="none" stroke="#e96a66" stroke-width="0.6"/>
<circle cx="61.06" cy="237.19" r="1.55" fill="none" stroke="#e96a66" stroke-width="0.6"/>
<circle cx="61.64" cy="235.72" r="1.55" fill="none" stroke="#e96a66" stroke-width="0.6"/>
<circle cx="64.12" cy="232.19" r="1.55" fill="none" stroke="#e96a66" stroke-width="0.6"/>
<circle cx="65.77" cy="228.9" r="1.55" fill="none" stroke="#e96a66" stroke-width="0.6"/>
<circle cx="66.2" cy="229.13" r="1.55" fill="none" stroke="#e96a66" stroke-width="0.6"/>
<circle cx="67.22" cy="228.18" r="1.55" fill="none" stroke="#e96a66" stroke-width="0.6"/>
<circle cx="70.18" cy="221.64" r="1.55" fill="none" stroke="#e96a66" stroke-width="0.6"/>
<circle cx="71.64" cy="216.2" r="1.55" fill="none" stroke="#e96a66" stroke-width="0.6"/>
<circle cx="74.3" cy="211.74" r="1.55" fill="none" stroke="#e96a66" stroke-width="0.6"/>
<circle cx="74.51" cy="210.18" r="1.55" fill="none" stroke="#e96a66" stroke-width="0.6"/>
<circle cx="76.19" cy="207.9" r="1.55" fill="none" stroke="#e96a66" stroke-width="0.6"/>
<circle cx="79.39" cy="203.64" r="1.55" fill="none" stroke="#e96a66" stroke-width="0.6"/>
<circle cx="80.73" cy="198.93" r="1.55" fill="none" stroke="#e96a66" stroke-width="0.6"/>
<circle cx="83.51" cy="193.05" r="1.55" fill="none" stroke="#e96a66" stroke-width="0.6"/>
<circle cx="84.25" cy="189.98" r="1.55" fill="none" stroke="#e96a66" stroke-width="0.6"/>
<circle cx="85.16" cy="189.5" r="1.55" fill="none" stroke="#e96a66" stroke-width="0.6"/>
<circle cx="86.31" cy="188.3" r="1.55" fill="none" stroke="#e96a66" stroke-width="0.6"/>
<circle cx="87.19" cy="192.08" r="1.55" fill="none" stroke="#e96a66" stroke-width="0.6"/>
<circle cx="87.84" cy="189.45" r="1.55" fill="none" stroke="#e96a66" stroke-width="0.6"/>
<circle cx="88.89" cy="190.95" r="1.55" fill="none" stroke="#e96a66" stroke-width="0.6"/>
<circle cx="88.95" cy="189.8" r="1.55" fill="none" stroke="#e96a66" stroke-width="0.6"/>
<circle cx="89" cy="191.03" r="1.55" fill="none" stroke="#e96a66" stroke-width="0.6"/>
<circle cx="91.3" cy="194.58" r="1.55" fill="none" stroke="#e96a66" stroke-width="0.6"/>
<circle cx="91.75" cy="191.45" r="1.55" fill="none" stroke="#e96a66" stroke-width="0.6"/>
<circle cx="92.14" cy="192.43" r="1.55" fill="none" stroke="#e96a66" stroke-width="0.6"/>
<circle cx="93.09" cy="192.77" r="1.55" fill="none" stroke="#e96a66" stroke-width="0.6"/>
<circle cx="93.68" cy="196.43" r="1.55" fill="none" stroke="#e96a66" stroke-width="0.6"/>
<circle cx="93.8" cy="193.38" r="1.55" fill="none" stroke="#e96a66" stroke-width="0.6"/>
<circle cx="95.61" cy="196.11" r="1.55" fill="none" stroke="#e96a66" stroke-width="0.6"/>
<circle cx="96.3" cy="196.92" r="1.55" fill="none" stroke="#e96a66" stroke-width="0.6"/>
<circle cx="98.39" cy="201.07" r="1.55" fill="none" stroke="#e96a66" stroke-width="0.6"/>
<circle cx="102.51" cy="213.52" r="1.55" fill="none" stroke="#e96a66" stroke-width="0.6"/>
<circle cx="105.41" cy="223.73" r="1.55" fill="none" stroke="#e96a66" stroke-width="0.6"/>
<circle cx="106.06" cy="219.12" r="1.55" fill="none" stroke="#e96a66" stroke-width="0.6"/>
<circle cx="108.93" cy="228.4" r="1.55" fill="none" stroke="#e96a66" stroke-width="0.6"/>
<circle cx="109.69" cy="228.64" r="1.55" fill="none" stroke="#e96a66" stroke-width="0.6"/>
<circle cx="111.15" cy="228.92" r="1.55" fill="none" stroke="#e96a66" stroke-width="0.6"/>
<circle cx="111.4" cy="230.73" r="1.55" fill="none" stroke="#e96a66" stroke-width="0.6"/>
<circle cx="112.23" cy="232.12" r="1.55" fill="none" stroke="#e96a66" stroke-width="0.6"/>
<circle cx="112.32" cy="231.48" r="1.55" fill="none" stroke="#e96a66" stroke-width="0.6"/>
<circle cx="114.2" cy="238.46" r="1.55" fill="none" stroke="#e96a66" stroke-width="0.6"/>
<circle cx="114.79" cy="232.63" r="1.55" fill="none" stroke="#e96a66" stroke-width="0.6"/>
<circle cx="115.08" cy="236.84" r="1.55" fill="none" stroke="#e96a66" stroke-width="0.6"/>
<circle cx="115.4" cy="237.08" r="1.55" fill="none" stroke="#e96a66" stroke-width="0.6"/>
<circle cx="116.28" cy="236.36" r="1.55" fill="none" stroke="#e96a66" stroke-width="0.6"/>
<circle cx="118.37" cy="239.09" r="1.55" fill="none" stroke="#e96a66" stroke-width="0.6"/>
<circle cx="118.97" cy="240.63" r="1.55" fill="none" stroke="#e96a66" stroke-width="0.6"/>
<circle cx="119.87" cy="239.76" r="1.55" fill="none" stroke="#e96a66" stroke-width="0.6"/>
<circle cx="122.13" cy="240.65" r="1.55" fill="none" stroke="#e96a66" stroke-width="0.6"/>
<circle cx="124.66" cy="240.97" r="1.55" fill="none" stroke="#e96a66" stroke-width="0.6"/>
<circle cx="127.31" cy="235.71" r="1.55" fill="none" stroke="#e96a66" stroke-width="0.6"/>
<circle cx="127.47" cy="241.63" r="1.55" fill="none" stroke="#e96a66" stroke-width="0.6"/>
<circle cx="127.48" cy="242.99" r="1.55" fill="none" stroke="#e96a66" stroke-width="0.6"/>
<circle cx="127.83" cy="240.68" r="1.55" fill="none" stroke="#e96a66" stroke-width="0.6"/>
<circle cx="128.21" cy="240.62" r="1.55" fill="none" stroke="#e96a66" stroke-width="0.6"/>
<circle cx="132.6" cy="235.31" r="1.55" fill="none" stroke="#e96a66" stroke-width="0.6"/>
<circle cx="135.34" cy="237.19" r="1.55" fill="none" stroke="#e96a66" stroke-width="0.6"/>
<circle cx="135.96" cy="236.02" r="1.55" fill="none" stroke="#e96a66" stroke-width="0.6"/>
<circle cx="136.43" cy="236.42" r="1.55" fill="none" stroke="#e96a66" stroke-width="0.6"/>
<circle cx="136.83" cy="239.09" r="1.55" fill="none" stroke="#e96a66" stroke-width="0.6"/>
<circle cx="137.48" cy="236.15" r="1.55" fill="none" stroke="#e96a66" stroke-width="0.6"/>
<circle cx="139.15" cy="237.62" r="1.55" fill="none" stroke="#e96a66" stroke-width="0.6"/>
<circle cx="140.06" cy="234.86" r="1.55" fill="none" stroke="#e96a66" stroke-width="0.6"/>
<circle cx="140.26" cy="237.89" r="1.55" fill="none" stroke="#e96a66" stroke-width="0.6"/>
<circle cx="141.4" cy="238.72" r="1.55" fill="none" stroke="#e96a66" stroke-width="0.6"/>
<circle cx="141.82" cy="237.53" r="1.55" fill="none" stroke="#e96a66" stroke-width="0.6"/>
<circle cx="141.86" cy="237.52" r="1.55" fill="none" stroke="#e96a66" stroke-width="0.6"/>
<circle cx="142.79" cy="242.34" r="1.55" fill="none" stroke="#e96a66" stroke-width="0.6"/>
<circle cx="143.76" cy="237.51" r="1.55" fill="none" stroke="#e96a66" stroke-width="0.6"/>
<circle cx="146.47" cy="239.08" r="1.55" fill="none" stroke="#e96a66" stroke-width="0.6"/>
<circle cx="146.84" cy="239.67" r="1.55" fill="none" stroke="#e96a66" stroke-width="0.6"/>
<circle cx="147.58" cy="243.44" r="1.55" fill="none" stroke="#e96a66" stroke-width="0.6"/>
<circle cx="148" cy="245.17" r="1.55" fill="none" stroke="#e96a66" stroke-width="0.6"/>
<circle cx="148.87" cy="242.57" r="1.55" fill="none" stroke="#e96a66" stroke-width="0.6"/>
<circle cx="151.07" cy="241.71" r="1.55" fill="none" stroke="#e96a66" stroke-width="0.6"/>
<circle cx="151.33" cy="242.3" r="1.55" fill="none" stroke="#e96a66" stroke-width="0.6"/>
<circle cx="152.57" cy="245.28" r="1.55" fill="none" stroke="#e96a66" stroke-width="0.6"/>
<circle cx="153.79" cy="242.31" r="1.55" fill="none" stroke="#e96a66" stroke-width="0.6"/>
<circle cx="153.94" cy="246.37" r="1.55" fill="none" stroke="#e96a66" stroke-width="0.6"/>
<circle cx="154.12" cy="246.36" r="1.55" fill="none" stroke="#e96a66" stroke-width="0.6"/>
<circle cx="154.13" cy="244.07" r="1.55" fill="none" stroke="#e96a66" stroke-width="0.6"/>
<circle cx="154.34" cy="245.11" r="1.55" fill="none" stroke="#e96a66" stroke-width="0.6"/>
<circle cx="155.28" cy="245.53" r="1.55" fill="none" stroke="#e96a66" stroke-width="0.6"/>
<circle cx="155.39" cy="246.92" r="1.55" fill="none" stroke="#e96a66" stroke-width="0.6"/>
<circle cx="155.92" cy="242.61" r="1.55" fill="none" stroke="#e96a66" stroke-width="0.6"/>
<circle cx="156.62" cy="246.55" r="1.55" fill="none" stroke="#e96a66" stroke-width="0.6"/>
<circle cx="157.06" cy="243.99" r="1.55" fill="none" stroke="#e96a66" stroke-width="0.6"/>
<circle cx="157.2" cy="243.35" r="1.55" fill="none" stroke="#e96a66" stroke-width="0.6"/>
<circle cx="158.76" cy="245.07" r="1.55" fill="none" stroke="#e96a66" stroke-width="0.6"/>
<circle cx="159.36" cy="244.61" r="1.55" fill="none" stroke="#e96a66" stroke-width="0.6"/>
<circle cx="160.56" cy="243.43" r="1.55" fill="none" stroke="#e96a66" stroke-width="0.6"/>
<circle cx="161.4" cy="242.47" r="1.55" fill="none" stroke="#e96a66" stroke-width="0.6"/>
<circle cx="162.65" cy="243.67" r="1.55" fill="none" stroke="#e96a66" stroke-width="0.6"/>
<circle cx="163.29" cy="247.78" r="1.55" fill="none" stroke="#e96a66" stroke-width="0.6"/>
<circle cx="165.04" cy="248.72" r="1.55" fill="none" stroke="#e96a66" stroke-width="0.6"/>
<circle cx="169.16" cy="246.57" r="1.55" fill="none" stroke="#e96a66" stroke-width="0.6"/>
<circle cx="170.27" cy="247.49" r="1.55" fill="none" stroke="#e96a66" stroke-width="0.6"/>
<circle cx="170.88" cy="244.6" r="1.55" fill="none" stroke="#e96a66" stroke-width="0.6"/>
<circle cx="171.25" cy="245.35" r="1.55" fill="none" stroke="#e96a66" stroke-width="0.6"/>
<circle cx="171.76" cy="245.97" r="1.55" fill="none" stroke="#e96a66" stroke-width="0.6"/>
<circle cx="172.53" cy="243.65" r="1.55" fill="none" stroke="#e96a66" stroke-width="0.6"/>
<circle cx="173.5" cy="243.81" r="1.55" fill="none" stroke="#e96a66" stroke-width="0.6"/>
<circle cx="173.65" cy="245.66" r="1.55" fill="none" stroke="#e96a66" stroke-width="0.6"/>
<circle cx="174.59" cy="244.95" r="1.55" fill="none" stroke="#e96a66" stroke-width="0.6"/>
<circle cx="175.18" cy="243.69" r="1.55" fill="none" stroke="#e96a66" stroke-width="0.6"/>
<circle cx="175.27" cy="246.15" r="1.55" fill="none" stroke="#e96a66" stroke-width="0.6"/>
<circle cx="175.55" cy="245.05" r="1.55" fill="none" stroke="#e96a66" stroke-width="0.6"/>
<circle cx="177.88" cy="247.24" r="1.55" fill="none" stroke="#e96a66" stroke-width="0.6"/>
<circle cx="181.06" cy="245.49" r="1.55" fill="none" stroke="#e96a66" stroke-width="0.6"/>
<circle cx="183.01" cy="244.99" r="1.55" fill="none" stroke="#e96a66" stroke-width="0.6"/>
<circle cx="183.21" cy="245.72" r="1.55" fill="none" stroke="#e96a66" stroke-width="0.6"/>
<circle cx="184.9" cy="245.21" r="1.55" fill="none" stroke="#e96a66" stroke-width="0.6"/>
<circle cx="186.37" cy="244.36" r="1.55" fill="none" stroke="#e96a66" stroke-width="0.6"/>
<circle cx="187.38" cy="244.82" r="1.55" fill="none" stroke="#e96a66" stroke-width="0.6"/>
<circle cx="188.05" cy="246.77" r="1.55" fill="none" stroke="#e96a66" stroke-width="0.6"/>
<circle cx="188.43" cy="246.6" r="1.55" fill="none" stroke="#e96a66" stroke-width="0.6"/>
<circle cx="191.91" cy="247.69" r="1.55" fill="none" stroke="#e96a66" stroke-width="0.6"/>
<circle cx="194.47" cy="242.62" r="1.55" fill="none" stroke="#e96a66" stroke-width="0.6"/>
<circle cx="196.54" cy="244.83" r="1.55" fill="none" stroke="#e96a66" stroke-width="0.6"/>
<circle cx="196.59" cy="244.8" r="1.55" fill="none" stroke="#e96a66" stroke-width="0.6"/>
<circle cx="196.87" cy="245.79" r="1.55" fill="none" stroke="#e96a66" stroke-width="0.6"/>
<circle cx="196.93" cy="244.73" r="1.55" fill="none" stroke="#e96a66" stroke-width="0.6"/>
<circle cx="197.66" cy="244.63" r="1.55" fill="none" stroke="#e96a66" stroke-width="0.6"/>
<polygon points="120.9,297.4 121.3,297.4 121.7,297.3 122.1,297.3 122.6,297.3 123,297.2 123.4,297.2 123.8,297.1 124.3,297.1 124.7,297 125.1,297 125.5,296.9 125.9,296.8 126.4,296.7 126.8,296.6 127.2,296.5 127.6,296.4 128.1,296.2 128.5,296.1 128.9,295.9 129.3,295.8 129.7,295.6 130.2,295.4 130.6,295.2 131,294.9 131.4,294.7 131.9,294.5 132.3,294.2 132.7,293.9 133.1,293.7 133.5,293.4 134,293.1 134.4,292.8 134.8,292.5 135.2,292.2 135.7,291.9 136.1,291.6 136.5,291.2 136.9,290.9 137.3,290.7 137.8,290.4 138.2,290.1 138.6,289.9 139,289.6 139.5,289.4 139.9,289.2 140.3,289 140.7,288.9 141.1,288.7 141.6,288.6 142,288.6 142.4,288.5 142.8,288.5 143.3,288.5 143.7,288.5 144.1,288.6 144.5,288.7 144.9,288.8 145.4,289 145.8,289.1 146.2,289.3 146.6,289.5 147.1,289.8 147.5,290 147.9,290.3 148.3,290.6 148.7,290.9 149.2,291.2 149.6,291.5 150,291.8 150.4,292.1 150.9,292.4 151.3,292.7 151.7,293 152.1,293.3 152.5,293.6 153,293.8 153.4,294.1 153.8,294.4 154.2,294.6 154.7,294.9 155.1,295.1 155.5,295.3 155.9,295.5 156.3,295.7 156.8,295.9 157.2,296 157.6,296.2 158,296.3 158.5,296.5 158.9,296.6 159.3,296.7 159.7,296.8 160.1,296.9 160.6,296.9 161,297 161.4,297.1 161.8,297.1 162.3,297.2 162.7,297.2 163.1,297.3 163.5,297.3 163.9,297.3 164.4,297.4 164.8,297.4 164.8,297.5 120.9,297.5" fill="url(#gTeal)"/>
<polyline points="120.9,297.4 121.3,297.4 121.7,297.3 122.1,297.3 122.6,297.3 123,297.2 123.4,297.2 123.8,297.1 124.3,297.1 124.7,297 125.1,297 125.5,296.9 125.9,296.8 126.4,296.7 126.8,296.6 127.2,296.5 127.6,296.4 128.1,296.2 128.5,296.1 128.9,295.9 129.3,295.8 129.7,295.6 130.2,295.4 130.6,295.2 131,294.9 131.4,294.7 131.9,294.5 132.3,294.2 132.7,293.9 133.1,293.7 133.5,293.4 134,293.1 134.4,292.8 134.8,292.5 135.2,292.2 135.7,291.9 136.1,291.6 136.5,291.2 136.9,290.9 137.3,290.7 137.8,290.4 138.2,290.1 138.6,289.9 139,289.6 139.5,289.4 139.9,289.2 140.3,289 140.7,288.9 141.1,288.7 141.6,288.6 142,288.6 142.4,288.5 142.8,288.5 143.3,288.5 143.7,288.5 144.1,288.6 144.5,288.7 144.9,288.8 145.4,289 145.8,289.1 146.2,289.3 146.6,289.5 147.1,289.8 147.5,290 147.9,290.3 148.3,290.6 148.7,290.9 149.2,291.2 149.6,291.5 150,291.8 150.4,292.1 150.9,292.4 151.3,292.7 151.7,293 152.1,293.3 152.5,293.6 153,293.8 153.4,294.1 153.8,294.4 154.2,294.6 154.7,294.9 155.1,295.1 155.5,295.3 155.9,295.5 156.3,295.7 156.8,295.9 157.2,296 157.6,296.2 158,296.3 158.5,296.5 158.9,296.6 159.3,296.7 159.7,296.8 160.1,296.9 160.6,296.9 161,297 161.4,297.1 161.8,297.1 162.3,297.2 162.7,297.2 163.1,297.3 163.5,297.3 163.9,297.3 164.4,297.4 164.8,297.4" fill="none" stroke="#2fae8e" stroke-width="0.5"/>
<line x1="118" y1="297.5" x2="168" y2="297.5" stroke="#5cc8b0" stroke-width="0.6"/>
<circle cx="31" cy="297.5" r="1.3" fill="none" stroke="#5a5a5a" stroke-width="0.6"/>
<circle cx="32.25" cy="297.11" r="1.3" fill="none" stroke="#5a5a5a" stroke-width="0.6"/>
<circle cx="33.5" cy="296.28" r="1.3" fill="none" stroke="#5a5a5a" stroke-width="0.6"/>
<circle cx="34.75" cy="297.75" r="1.3" fill="none" stroke="#5a5a5a" stroke-width="0.6"/>
<circle cx="36" cy="297.52" r="1.3" fill="none" stroke="#5a5a5a" stroke-width="0.6"/>
<circle cx="37.25" cy="296.54" r="1.3" fill="none" stroke="#5a5a5a" stroke-width="0.6"/>
<circle cx="38.5" cy="297.35" r="1.3" fill="none" stroke="#5a5a5a" stroke-width="0.6"/>
<circle cx="39.75" cy="296.37" r="1.3" fill="none" stroke="#5a5a5a" stroke-width="0.6"/>
<circle cx="41" cy="297.44" r="1.3" fill="none" stroke="#5a5a5a" stroke-width="0.6"/>
<circle cx="42.25" cy="296.58" r="1.3" fill="none" stroke="#5a5a5a" stroke-width="0.6"/>
<circle cx="43.5" cy="296.18" r="1.3" fill="none" stroke="#5a5a5a" stroke-width="0.6"/>
<circle cx="44.75" cy="296.38" r="1.3" fill="none" stroke="#5a5a5a" stroke-width="0.6"/>
<circle cx="46" cy="296.08" r="1.3" fill="none" stroke="#5a5a5a" stroke-width="0.6"/>
<circle cx="47.25" cy="296.59" r="1.3" fill="none" stroke="#5a5a5a" stroke-width="0.6"/>
<circle cx="48.5" cy="296.51" r="1.3" fill="none" stroke="#5a5a5a" stroke-width="0.6"/>
<circle cx="49.75" cy="296.35" r="1.3" fill="none" stroke="#5a5a5a" stroke-width="0.6"/>
<circle cx="51" cy="295.91" r="1.3" fill="none" stroke="#5a5a5a" stroke-width="0.6"/>
<circle cx="52.25" cy="293.96" r="1.3" fill="none" stroke="#5a5a5a" stroke-width="0.6"/>
<circle cx="53.5" cy="296.12" r="1.3" fill="none" stroke="#5a5a5a" stroke-width="0.6"/>
<circle cx="54.75" cy="294.83" r="1.3" fill="none" stroke="#5a5a5a" stroke-width="0.6"/>
<circle cx="56" cy="296.01" r="1.3" fill="none" stroke="#5a5a5a" stroke-width="0.6"/>
<circle cx="57.25" cy="296.44" r="1.3" fill="none" stroke="#5a5a5a" stroke-width="0.6"/>
<circle cx="58.5" cy="295.81" r="1.3" fill="none" stroke="#5a5a5a" stroke-width="0.6"/>
<circle cx="59.75" cy="295.3" r="1.3" fill="none" stroke="#5a5a5a" stroke-width="0.6"/>
<circle cx="61" cy="295.31" r="1.3" fill="none" stroke="#5a5a5a" stroke-width="0.6"/>
<circle cx="62.25" cy="295.21" r="1.3" fill="none" stroke="#5a5a5a" stroke-width="0.6"/>
<circle cx="63.5" cy="294.84" r="1.3" fill="none" stroke="#5a5a5a" stroke-width="0.6"/>
<circle cx="64.75" cy="294.69" r="1.3" fill="none" stroke="#5a5a5a" stroke-width="0.6"/>
<circle cx="66" cy="294.35" r="1.3" fill="none" stroke="#5a5a5a" stroke-width="0.6"/>
<circle cx="67.25" cy="295.48" r="1.3" fill="none" stroke="#5a5a5a" stroke-width="0.6"/>
<circle cx="68.5" cy="294.62" r="1.3" fill="none" stroke="#5a5a5a" stroke-width="0.6"/>
<circle cx="69.75" cy="295.07" r="1.3" fill="none" stroke="#5a5a5a" stroke-width="0.6"/>
<circle cx="71" cy="294.21" r="1.3" fill="none" stroke="#5a5a5a" stroke-width="0.6"/>
<circle cx="72.25" cy="294.27" r="1.3" fill="none" stroke="#5a5a5a" stroke-width="0.6"/>
<circle cx="73.5" cy="293.99" r="1.3" fill="none" stroke="#5a5a5a" stroke-width="0.6"/>
<circle cx="74.75" cy="294.24" r="1.3" fill="none" stroke="#5a5a5a" stroke-width="0.6"/>
<circle cx="76" cy="294.32" r="1.3" fill="none" stroke="#5a5a5a" stroke-width="0.6"/>
<circle cx="77.25" cy="293.85" r="1.3" fill="none" stroke="#5a5a5a" stroke-width="0.6"/>
<circle cx="78.5" cy="293.18" r="1.3" fill="none" stroke="#5a5a5a" stroke-width="0.6"/>
<circle cx="79.75" cy="293" r="1.3" fill="none" stroke="#5a5a5a" stroke-width="0.6"/>
<circle cx="81" cy="294.35" r="1.3" fill="none" stroke="#5a5a5a" stroke-width="0.6"/>
<circle cx="82.25" cy="293.08" r="1.3" fill="none" stroke="#5a5a5a" stroke-width="0.6"/>
<circle cx="83.5" cy="292.98" r="1.3" fill="none" stroke="#5a5a5a" stroke-width="0.6"/>
<circle cx="84.75" cy="293.94" r="1.3" fill="none" stroke="#5a5a5a" stroke-width="0.6"/>
<circle cx="86" cy="293.64" r="1.3" fill="none" stroke="#5a5a5a" stroke-width="0.6"/>
<circle cx="87.25" cy="293.23" r="1.3" fill="none" stroke="#5a5a5a" stroke-width="0.6"/>
<circle cx="88.5" cy="292.61" r="1.3" fill="none" stroke="#5a5a5a" stroke-width="0.6"/>
<circle cx="89.75" cy="294.21" r="1.3" fill="none" stroke="#5a5a5a" stroke-width="0.6"/>
<circle cx="91" cy="292.99" r="1.3" fill="none" stroke="#5a5a5a" stroke-width="0.6"/>
<circle cx="92.25" cy="293.06" r="1.3" fill="none" stroke="#5a5a5a" stroke-width="0.6"/>
<circle cx="93.5" cy="292.61" r="1.3" fill="none" stroke="#5a5a5a" stroke-width="0.6"/>
<circle cx="94.75" cy="291.85" r="1.3" fill="none" stroke="#5a5a5a" stroke-width="0.6"/>
<circle cx="96" cy="291.9" r="1.3" fill="none" stroke="#5a5a5a" stroke-width="0.6"/>
<circle cx="97.25" cy="292.96" r="1.3" fill="none" stroke="#5a5a5a" stroke-width="0.6"/>
<circle cx="98.5" cy="292.98" r="1.3" fill="none" stroke="#5a5a5a" stroke-width="0.6"/>
<circle cx="99.75" cy="292.64" r="1.3" fill="none" stroke="#5a5a5a" stroke-width="0.6"/>
<circle cx="101" cy="292.12" r="1.3" fill="none" stroke="#5a5a5a" stroke-width="0.6"/>
<circle cx="102.25" cy="292.02" r="1.3" fill="none" stroke="#5a5a5a" stroke-width="0.6"/>
<circle cx="103.5" cy="292.76" r="1.3" fill="none" stroke="#5a5a5a" stroke-width="0.6"/>
<circle cx="104.75" cy="292.16" r="1.3" fill="none" stroke="#5a5a5a" stroke-width="0.6"/>
<circle cx="106" cy="293.65" r="1.3" fill="none" stroke="#5a5a5a" stroke-width="0.6"/>
<circle cx="107.25" cy="293.9" r="1.3" fill="none" stroke="#5a5a5a" stroke-width="0.6"/>
<circle cx="108.5" cy="295.01" r="1.3" fill="none" stroke="#5a5a5a" stroke-width="0.6"/>
<circle cx="109.75" cy="293.95" r="1.3" fill="none" stroke="#5a5a5a" stroke-width="0.6"/>
<circle cx="111" cy="293.18" r="1.3" fill="none" stroke="#5a5a5a" stroke-width="0.6"/>
<circle cx="112.25" cy="293.13" r="1.3" fill="none" stroke="#5a5a5a" stroke-width="0.6"/>
<circle cx="113.5" cy="291.7" r="1.3" fill="none" stroke="#5a5a5a" stroke-width="0.6"/>
<circle cx="114.75" cy="293.54" r="1.3" fill="none" stroke="#5a5a5a" stroke-width="0.6"/>
<circle cx="116" cy="293.92" r="1.3" fill="none" stroke="#5a5a5a" stroke-width="0.6"/>
<circle cx="117.25" cy="294.73" r="1.3" fill="none" stroke="#5a5a5a" stroke-width="0.6"/>
<circle cx="118.5" cy="294.63" r="1.3" fill="none" stroke="#5a5a5a" stroke-width="0.6"/>
<circle cx="119.75" cy="294.72" r="1.3" fill="none" stroke="#5a5a5a" stroke-width="0.6"/>
<circle cx="121" cy="294.58" r="1.3" fill="none" stroke="#5a5a5a" stroke-width="0.6"/>
<circle cx="122.25" cy="294.91" r="1.3" fill="none" stroke="#5a5a5a" stroke-width="0.6"/>
<circle cx="123.5" cy="295.4" r="1.3" fill="none" stroke="#5a5a5a" stroke-width="0.6"/>
<circle cx="124.75" cy="293.86" r="1.3" fill="none" stroke="#5a5a5a" stroke-width="0.6"/>
<circle cx="126" cy="294.13" r="1.3" fill="none" stroke="#5a5a5a" stroke-width="0.6"/>
<circle cx="127.25" cy="293.39" r="1.3" fill="none" stroke="#5a5a5a" stroke-width="0.6"/>
<circle cx="128.5" cy="294.91" r="1.3" fill="none" stroke="#5a5a5a" stroke-width="0.6"/>
<circle cx="129.75" cy="294.33" r="1.3" fill="none" stroke="#5a5a5a" stroke-width="0.6"/>
<circle cx="131" cy="293.5" r="1.3" fill="none" stroke="#5a5a5a" stroke-width="0.6"/>
<circle cx="132.25" cy="291.71" r="1.3" fill="none" stroke="#5a5a5a" stroke-width="0.6"/>
<circle cx="133.5" cy="291.83" r="1.3" fill="none" stroke="#5a5a5a" stroke-width="0.6"/>
<circle cx="134.75" cy="290.8" r="1.3" fill="none" stroke="#5a5a5a" stroke-width="0.6"/>
<circle cx="136" cy="290.18" r="1.3" fill="none" stroke="#5a5a5a" stroke-width="0.6"/>
<circle cx="137.25" cy="289.23" r="1.3" fill="none" stroke="#5a5a5a" stroke-width="0.6"/>
<circle cx="138.5" cy="288.94" r="1.3" fill="none" stroke="#5a5a5a" stroke-width="0.6"/>
<circle cx="139.75" cy="287.82" r="1.3" fill="none" stroke="#5a5a5a" stroke-width="0.6"/>
<circle cx="141" cy="288.17" r="1.3" fill="none" stroke="#5a5a5a" stroke-width="0.6"/>
<circle cx="142.25" cy="287.62" r="1.3" fill="none" stroke="#5a5a5a" stroke-width="0.6"/>
<circle cx="143.5" cy="287.37" r="1.3" fill="none" stroke="#5a5a5a" stroke-width="0.6"/>
<circle cx="144.75" cy="287.78" r="1.3" fill="none" stroke="#5a5a5a" stroke-width="0.6"/>
<circle cx="146" cy="288.11" r="1.3" fill="none" stroke="#5a5a5a" stroke-width="0.6"/>
<circle cx="147.25" cy="289.58" r="1.3" fill="none" stroke="#5a5a5a" stroke-width="0.6"/>
<circle cx="148.5" cy="289.77" r="1.3" fill="none" stroke="#5a5a5a" stroke-width="0.6"/>
<circle cx="149.75" cy="291.04" r="1.3" fill="none" stroke="#5a5a5a" stroke-width="0.6"/>
<circle cx="151" cy="291.58" r="1.3" fill="none" stroke="#5a5a5a" stroke-width="0.6"/>
<circle cx="152.25" cy="291.84" r="1.3" fill="none" stroke="#5a5a5a" stroke-width="0.6"/>
<circle cx="153.5" cy="294.14" r="1.3" fill="none" stroke="#5a5a5a" stroke-width="0.6"/>
<circle cx="154.75" cy="293.72" r="1.3" fill="none" stroke="#5a5a5a" stroke-width="0.6"/>
<circle cx="156" cy="295.42" r="1.3" fill="none" stroke="#5a5a5a" stroke-width="0.6"/>
<circle cx="157.25" cy="295.81" r="1.3" fill="none" stroke="#5a5a5a" stroke-width="0.6"/>
<circle cx="158.5" cy="294.99" r="1.3" fill="none" stroke="#5a5a5a" stroke-width="0.6"/>
<circle cx="159.75" cy="295.75" r="1.3" fill="none" stroke="#5a5a5a" stroke-width="0.6"/>
<circle cx="161" cy="296.26" r="1.3" fill="none" stroke="#5a5a5a" stroke-width="0.6"/>
<circle cx="162.25" cy="296.26" r="1.3" fill="none" stroke="#5a5a5a" stroke-width="0.6"/>
<circle cx="163.5" cy="296.18" r="1.3" fill="none" stroke="#5a5a5a" stroke-width="0.6"/>
<circle cx="164.75" cy="297.42" r="1.3" fill="none" stroke="#5a5a5a" stroke-width="0.6"/>
<circle cx="166" cy="296.9" r="1.3" fill="none" stroke="#5a5a5a" stroke-width="0.6"/>
<circle cx="167.25" cy="297.32" r="1.3" fill="none" stroke="#5a5a5a" stroke-width="0.6"/>
<circle cx="168.5" cy="296.86" r="1.3" fill="none" stroke="#5a5a5a" stroke-width="0.6"/>
<circle cx="169.75" cy="297.32" r="1.3" fill="none" stroke="#5a5a5a" stroke-width="0.6"/>
<circle cx="171" cy="296.7" r="1.3" fill="none" stroke="#5a5a5a" stroke-width="0.6"/>
<circle cx="172.25" cy="297.14" r="1.3" fill="none" stroke="#5a5a5a" stroke-width="0.6"/>
<circle cx="173.5" cy="297.51" r="1.3" fill="none" stroke="#5a5a5a" stroke-width="0.6"/>
<circle cx="174.75" cy="297.2" r="1.3" fill="none" stroke="#5a5a5a" stroke-width="0.6"/>
<circle cx="176" cy="296.9" r="1.3" fill="none" stroke="#5a5a5a" stroke-width="0.6"/>
<circle cx="177.25" cy="296.53" r="1.3" fill="none" stroke="#5a5a5a" stroke-width="0.6"/>
<circle cx="178.5" cy="297.28" r="1.3" fill="none" stroke="#5a5a5a" stroke-width="0.6"/>
<circle cx="179.75" cy="297.39" r="1.3" fill="none" stroke="#5a5a5a" stroke-width="0.6"/>
<circle cx="181" cy="297.03" r="1.3" fill="none" stroke="#5a5a5a" stroke-width="0.6"/>
<circle cx="182.25" cy="296.73" r="1.3" fill="none" stroke="#5a5a5a" stroke-width="0.6"/>
<circle cx="183.5" cy="297.52" r="1.3" fill="none" stroke="#5a5a5a" stroke-width="0.6"/>
<circle cx="184.75" cy="298.68" r="1.3" fill="none" stroke="#5a5a5a" stroke-width="0.6"/>
<circle cx="186" cy="297.01" r="1.3" fill="none" stroke="#5a5a5a" stroke-width="0.6"/>
<circle cx="187.25" cy="297.4" r="1.3" fill="none" stroke="#5a5a5a" stroke-width="0.6"/>
<circle cx="188.5" cy="297.42" r="1.3" fill="none" stroke="#5a5a5a" stroke-width="0.6"/>
<circle cx="189.75" cy="295.66" r="1.3" fill="none" stroke="#5a5a5a" stroke-width="0.6"/>
<circle cx="191" cy="297.27" r="1.3" fill="none" stroke="#5a5a5a" stroke-width="0.6"/>
<circle cx="192.25" cy="296.77" r="1.3" fill="none" stroke="#5a5a5a" stroke-width="0.6"/>
<circle cx="193.5" cy="298.03" r="1.3" fill="none" stroke="#5a5a5a" stroke-width="0.6"/>
<circle cx="194.75" cy="297.05" r="1.3" fill="none" stroke="#5a5a5a" stroke-width="0.6"/>
<circle cx="196" cy="296.73" r="1.3" fill="none" stroke="#5a5a5a" stroke-width="0.6"/>
<circle cx="197.25" cy="297.07" r="1.3" fill="none" stroke="#5a5a5a" stroke-width="0.6"/>
<circle cx="198.5" cy="297.3" r="1.3" fill="none" stroke="#5a5a5a" stroke-width="0.6"/>
<rect x="30" y="175.3" width="169.5" height="136" fill="none" stroke="#555" stroke-width="0.9"/>
<text x="34.3" y="186.54" font-size="8" fill="#111" font-weight="bold" font-family="'Liberation Serif', serif" stroke="#111" stroke-width="0.22">O 1<tspan font-style="italic">s</tspan></text>
<text x="77.5" y="189.37" font-size="9" fill="#ef6f6b" font-family="'Liberation Serif', serif" stroke="#ef6f6b" stroke-width="0.3">COO<tspan font-size="5.5" dy="-3">-</tspan></text>
<text x="33.8" y="229.47" font-size="8.4" fill="#f52222" font-weight="bold" font-family="'Liberation Serif', serif" stroke="#f52222" stroke-width="0.22">GA acid</text>
<text x="130.5" y="228.54" font-size="8" fill="#3bbd9c" font-weight="bold" font-family="'Liberation Serif', serif" stroke="#3bbd9c" stroke-width="0.22">Pb-O</text>
<text x="33.8" y="292.74" font-size="8.3" fill="#111" font-weight="bold" font-family="'Liberation Serif', serif" stroke="#111" stroke-width="0.22">Control</text>
<line x1="51.19" y1="311.3" x2="51.19" y2="313.8" stroke="#333" stroke-width="0.8"/>
<line x1="93.57" y1="311.3" x2="93.57" y2="313.8" stroke="#333" stroke-width="0.8"/>
<line x1="135.95" y1="311.3" x2="135.95" y2="313.8" stroke="#333" stroke-width="0.8"/>
<line x1="178.33" y1="311.3" x2="178.33" y2="313.8" stroke="#333" stroke-width="0.8"/>
<line x1="72.38" y1="311.3" x2="72.38" y2="312.9" stroke="#333" stroke-width="0.7"/>
<line x1="114.76" y1="311.3" x2="114.76" y2="312.9" stroke="#333" stroke-width="0.7"/>
<line x1="157.14" y1="311.3" x2="157.14" y2="312.9" stroke="#333" stroke-width="0.7"/>
<text x="51.19" y="322.44" font-size="8" fill="#111" text-anchor="middle" font-weight="bold" font-family="'Liberation Serif', serif" stroke="#111" stroke-width="0.22">534</text>
<text x="93.57" y="322.44" font-size="8" fill="#111" text-anchor="middle" font-weight="bold" font-family="'Liberation Serif', serif" stroke="#111" stroke-width="0.22">532</text>
<text x="135.95" y="322.44" font-size="8" fill="#111" text-anchor="middle" font-weight="bold" font-family="'Liberation Serif', serif" stroke="#111" stroke-width="0.22">530</text>
<text x="178.33" y="322.44" font-size="8" fill="#111" text-anchor="middle" font-weight="bold" font-family="'Liberation Serif', serif" stroke="#111" stroke-width="0.22">528</text>
<text x="114.5" y="332.67" font-size="9.3" fill="#111" text-anchor="middle" font-weight="bold" font-family="'Liberation Serif', serif" stroke="#111" stroke-width="0.22">Binding Energy (eV)</text>
<text x="20.2" y="244.97" font-size="9" fill="#111" text-anchor="middle" font-weight="bold" transform="rotate(-90 20.2 242)" font-family="'Liberation Serif', serif" stroke="#111" stroke-width="0.22">Intensity (a. u.)</text>
<text x="15.4" y="184.4" font-size="18" fill="#000" font-weight="bold" font-family="'Liberation Serif', serif">d</text>
<rect x="240.8" y="232.49" width="18.2" height="77.81" fill="url(#hG)"/>
<text x="249.9" y="228.83" font-size="8" fill="#111" text-anchor="middle" font-weight="bold" font-family="'Liberation Serif', serif" stroke="#111" stroke-width="0.22">2.674</text>
<rect x="259" y="227.77" width="18.6" height="82.53" fill="url(#hR)"/>
<text x="268.3" y="224.11" font-size="8" fill="#f52222" text-anchor="middle" font-weight="bold" font-family="'Liberation Serif', serif" stroke="#f52222" stroke-width="0.22">2.992</text>
<text x="259" y="332.27" font-size="8.4" fill="#111" text-anchor="middle" font-weight="bold" font-family="'Liberation Serif', serif" stroke="#111" stroke-width="0.22">I/Pb</text>
<line x1="259" y1="310.3" x2="259" y2="312.8" stroke="#333" stroke-width="0.8"/>
<rect x="302.2" y="287.29" width="18.2" height="23.01" fill="url(#hG)"/>
<text x="311.3" y="283.63" font-size="8" fill="#111" text-anchor="middle" font-weight="bold" font-family="'Liberation Serif', serif" stroke="#111" stroke-width="0.22">0.059</text>
<rect x="320.4" y="299.38" width="18.6" height="10.92" fill="url(#hR)"/>
<text x="329.7" y="295.72" font-size="8" fill="#f52222" text-anchor="middle" font-weight="bold" font-family="'Liberation Serif', serif" stroke="#f52222" stroke-width="0.22">0.028</text>
<text x="320.4" y="332.27" font-size="8.4" fill="#111" text-anchor="middle" font-weight="bold" font-family="'Liberation Serif', serif" stroke="#111" stroke-width="0.22">Pb<tspan font-size="6" dy="-3">0</tspan><tspan dy="3">/Pb</tspan></text>
<line x1="320.4" y1="310.3" x2="320.4" y2="312.8" stroke="#333" stroke-width="0.8"/>
<rect x="363.4" y="266.75" width="18.2" height="43.55" fill="url(#hG)"/>
<text x="372.5" y="263.09" font-size="8" fill="#111" text-anchor="middle" font-weight="bold" font-family="'Liberation Serif', serif" stroke="#111" stroke-width="0.22">0.367</text>
<rect x="381.6" y="263.35" width="18.6" height="46.95" fill="url(#hR)"/>
<text x="390.9" y="259.69" font-size="8" fill="#f52222" text-anchor="middle" font-weight="bold" font-family="'Liberation Serif', serif" stroke="#f52222" stroke-width="0.22">0.596</text>
<text x="381.6" y="332.27" font-size="8.4" fill="#111" text-anchor="middle" font-weight="bold" font-family="'Liberation Serif', serif" stroke="#111" stroke-width="0.22">(Ligands)N/Pb</text>
<line x1="381.6" y1="310.3" x2="381.6" y2="312.8" stroke="#333" stroke-width="0.8"/>
<rect x="424.8" y="207.74" width="18.2" height="102.56" fill="url(#hG)"/>
<text x="433.9" y="204.08" font-size="8" fill="#111" text-anchor="middle" font-weight="bold" font-family="'Liberation Serif', serif" stroke="#111" stroke-width="0.22">7.164</text>
<rect x="443" y="194.02" width="18.6" height="116.28" fill="url(#hR)"/>
<text x="452.3" y="190.36" font-size="8" fill="#f52222" text-anchor="middle" font-weight="bold" font-family="'Liberation Serif', serif" stroke="#f52222" stroke-width="0.22">9.672</text>
<text x="443" y="332.27" font-size="8.4" fill="#111" text-anchor="middle" font-weight="bold" font-family="'Liberation Serif', serif" stroke="#111" stroke-width="0.22">C-C/Pb</text>
<line x1="443" y1="310.3" x2="443" y2="312.8" stroke="#333" stroke-width="0.8"/>
<rect x="486.5" y="256.87" width="18.2" height="53.43" fill="url(#hG)"/>
<text x="495.6" y="253.21" font-size="8" fill="#111" text-anchor="middle" font-weight="bold" font-family="'Liberation Serif', serif" stroke="#111" stroke-width="0.22">1.032</text>
<rect x="504.7" y="251.86" width="18.6" height="58.44" fill="url(#hR)"/>
<text x="514" y="248.2" font-size="8" fill="#f52222" text-anchor="middle" font-weight="bold" font-family="'Liberation Serif', serif" stroke="#f52222" stroke-width="0.22">1.370</text>
<text x="504.7" y="332.27" font-size="8.4" fill="#111" text-anchor="middle" font-weight="bold" font-family="'Liberation Serif', serif" stroke="#111" stroke-width="0.22">C-N/Pb</text>
<line x1="504.7" y1="310.3" x2="504.7" y2="312.8" stroke="#333" stroke-width="0.8"/>
<rect x="547.8" y="257.59" width="18.2" height="52.71" fill="url(#hG)"/>
<text x="556.9" y="253.93" font-size="8" fill="#111" text-anchor="middle" font-weight="bold" font-family="'Liberation Serif', serif" stroke="#111" stroke-width="0.22">0.984</text>
<rect x="566" y="248.59" width="18.6" height="61.71" fill="url(#hR)"/>
<text x="575.3" y="244.93" font-size="8" fill="#f52222" text-anchor="middle" font-weight="bold" font-family="'Liberation Serif', serif" stroke="#f52222" stroke-width="0.22">1.590</text>
<text x="566" y="332.27" font-size="8.4" fill="#111" text-anchor="middle" font-weight="bold" font-family="'Liberation Serif', serif" stroke="#111" stroke-width="0.22">C-O/Pb</text>
<line x1="566" y1="310.3" x2="566" y2="312.8" stroke="#333" stroke-width="0.8"/>
<rect x="229" y="268.6" width="367.3" height="2.6" fill="#fff"/>
<rect x="229" y="209.9" width="367.3" height="1.4" fill="#fff"/>
<rect x="228.4" y="175.7" width="368.5" height="134.6" fill="none" stroke="#555" stroke-width="0.9"/>
<rect x="225.9" y="209" width="5" height="2.6" fill="#fff"/>
<line x1="225.9" y1="210.1" x2="230.9" y2="208.1" stroke="#333" stroke-width="0.7"/>
<line x1="225.9" y1="212.5" x2="230.9" y2="210.5" stroke="#333" stroke-width="0.7"/>
<rect x="594.4" y="209" width="5" height="2.6" fill="#fff"/>
<line x1="594.4" y1="210.1" x2="599.4" y2="208.1" stroke="#333" stroke-width="0.7"/>
<line x1="594.4" y1="212.5" x2="599.4" y2="210.5" stroke="#333" stroke-width="0.7"/>
<rect x="225.9" y="268.6" width="5" height="2.6" fill="#fff"/>
<line x1="225.9" y1="269.7" x2="230.9" y2="267.7" stroke="#333" stroke-width="0.7"/>
<line x1="225.9" y1="272.1" x2="230.9" y2="270.1" stroke="#333" stroke-width="0.7"/>
<rect x="594.4" y="268.6" width="5" height="2.6" fill="#fff"/>
<line x1="594.4" y1="269.7" x2="599.4" y2="267.7" stroke="#333" stroke-width="0.7"/>
<line x1="594.4" y1="272.1" x2="599.4" y2="270.1" stroke="#333" stroke-width="0.7"/>
<line x1="225.9" y1="181.29" x2="228.4" y2="181.29" stroke="#333" stroke-width="0.8"/>
<text x="223.3" y="183.93" font-size="8" fill="#111" text-anchor="end" font-weight="bold" font-family="'Liberation Serif', serif" stroke="#111" stroke-width="0.22">12</text>
<line x1="225.9" y1="197.7" x2="228.4" y2="197.7" stroke="#333" stroke-width="0.8"/>
<text x="223.3" y="200.34" font-size="8" fill="#111" text-anchor="end" font-weight="bold" font-family="'Liberation Serif', serif" stroke="#111" stroke-width="0.22">9</text>
<line x1="225.9" y1="227.65" x2="228.4" y2="227.65" stroke="#333" stroke-width="0.8"/>
<text x="223.3" y="230.29" font-size="8" fill="#111" text-anchor="end" font-weight="bold" font-family="'Liberation Serif', serif" stroke="#111" stroke-width="0.22">3</text>
<line x1="225.9" y1="242.5" x2="228.4" y2="242.5" stroke="#333" stroke-width="0.8"/>
<text x="223.3" y="245.14" font-size="8" fill="#111" text-anchor="end" font-weight="bold" font-family="'Liberation Serif', serif" stroke="#111" stroke-width="0.22">2</text>
<line x1="225.9" y1="257.35" x2="228.4" y2="257.35" stroke="#333" stroke-width="0.8"/>
<text x="223.3" y="259.99" font-size="8" fill="#111" text-anchor="end" font-weight="bold" font-family="'Liberation Serif', serif" stroke="#111" stroke-width="0.22">1</text>
<line x1="225.9" y1="290.8" x2="228.4" y2="290.8" stroke="#333" stroke-width="0.8"/>
<text x="223.3" y="293.44" font-size="8" fill="#111" text-anchor="end" font-weight="bold" font-family="'Liberation Serif', serif" stroke="#111" stroke-width="0.22">0.05</text>
<line x1="225.9" y1="310.3" x2="228.4" y2="310.3" stroke="#333" stroke-width="0.8"/>
<text x="223.3" y="312.94" font-size="8" fill="#111" text-anchor="end" font-weight="bold" font-family="'Liberation Serif', serif" stroke="#111" stroke-width="0.22">0.00</text>
<rect x="238.2" y="181.3" width="15.5" height="7.4" fill="url(#hG)"/>
<text x="258" y="188.11" font-size="8.2" fill="#111" font-weight="bold" font-family="'Liberation Serif', serif" stroke="#111" stroke-width="0.22">Control</text>
<rect x="238.2" y="191.6" width="15.5" height="7.7" fill="url(#hR)"/>
<text x="258" y="198.41" font-size="8.2" fill="#f52222" font-weight="bold" font-family="'Liberation Serif', serif" stroke="#f52222" stroke-width="0.22">GA acid</text>
<text x="210.6" y="245.97" font-size="9" fill="#111" text-anchor="middle" font-weight="bold" transform="rotate(-90 210.6 243)" font-family="'Liberation Serif', serif" stroke="#111" stroke-width="0.22">Ratio</text>
<text x="205.3" y="184.8" font-size="18.5" fill="#000" font-weight="bold" font-family="'Liberation Serif', serif">e</text>
<rect x="41.11" y="349.6" width="11.69" height="133.9" fill="#f7d5d2"/>
<rect x="101.03" y="349.6" width="12.24" height="133.9" fill="#f7d5d2"/>
<polyline points="31.9,465.6 32.1,465.1 32.4,466.7 32.6,466.1 32.9,467.6 33.1,465.3 33.3,465.7 33.6,466.4 33.8,465.6 34.1,464.8 34.3,465.1 34.5,465.8 34.8,465.9 35,465.5 35.3,466.2 35.5,466.1 35.8,465.5 36,465 36.2,464.5 36.5,464.6 36.7,464.4 37,463.1 37.2,462.8 37.4,461.8 37.7,460.8 37.9,461.2 38.2,462.8 38.4,463.1 38.6,464.5 38.9,464 39.1,465 39.4,465.7 39.6,465.7 39.8,464.7 40.1,465.1 40.3,465.4 40.6,464.7 40.8,465.7 41,466.1 41.3,465 41.5,466.7 41.8,465.1 42,465.1 42.2,465.1 42.5,464.7 42.7,465.4 43,465.1 43.2,466.1 43.5,465.3 43.7,465.1 43.9,464.4 44.2,463.3 44.4,463.9 44.7,463 44.9,463.7 45.1,462.2 45.4,462.3 45.6,460.4 45.9,458.8 46.1,456.3 46.3,454 46.6,451.7 46.8,449.2 47.1,445.4 47.3,443.9 47.5,443.7 47.8,440.9 48,441 48.3,441.9 48.5,443.4 48.7,447.7 49,449.6 49.2,452.5 49.5,456 49.7,458.7 49.9,458.2 50.2,461.1 50.4,462 50.7,462.8 50.9,463.6 51.2,463.7 51.4,465.3 51.6,464.8 51.9,464.9 52.1,465.7 52.4,465.5 52.6,465.3 52.8,465.3 53.1,466.4 53.3,465.6 53.6,465.2 53.8,464.7 54,465.1 54.3,464.7 54.5,465.5 54.8,465.6 55,464.1 55.2,465.5 55.5,466 55.7,465.7 56,464.9 56.2,466.5 56.4,465.1 56.7,464.8 56.9,464.9 57.2,465.6 57.4,466.3 57.6,466.5 57.9,465.8 58.1,464.8 58.4,465.2 58.6,465.1 58.9,465.6 59.1,464.5 59.3,465.8 59.6,466.2 59.8,465.6 60.1,466 60.3,465.1 60.5,464.7 60.8,465.3 61,466.5 61.3,466.5 61.5,465.4 61.7,466.6 62,465.5 62.2,466.8 62.5,466.1 62.7,465.4 62.9,466.3 63.2,465.2 63.4,465.1 63.7,464.7 63.9,465.9 64.1,465.7 64.4,465.7 64.6,465.5 64.9,466.8 65.1,465.4 65.3,465.2 65.6,466.6 65.8,466.7 66.1,466 66.3,464.5 66.6,465.3 66.8,466.1 67,465.7 67.3,466.8 67.5,464.7 67.8,466.2 68,465.2 68.2,466.6 68.5,465.6 68.7,466.3 69,465.2 69.2,464.6 69.4,464.8 69.7,465.1 69.9,464.7 70.2,466.2 70.4,466.2 70.6,465.3 70.9,464.2 71.1,464.5 71.4,463.7 71.6,464.6 71.8,463.2 72.1,462.6 72.3,461.2 72.6,459.4 72.8,459.7 73,459.1 73.3,460.1 73.5,460.2 73.8,460.2 74,461.2 74.3,463.3 74.5,462.3 74.7,462.9 75,463.9 75.2,464 75.5,464.5 75.7,465.4 75.9,466.5 76.2,464.1 76.4,465.4 76.7,465.5 76.9,465.5 77.1,465.4 77.4,465.3 77.6,466.3 77.9,465.3 78.1,465.5 78.3,465.6 78.6,465.7 78.8,465.5 79.1,466.4 79.3,465.7 79.5,465.8 79.8,465.6 80,465 80.3,465.1 80.5,465 80.7,465.8 81,465.2 81.2,465 81.5,465.9 81.7,466.1 82,464.5 82.2,466.9 82.4,465.7 82.7,465.6 82.9,466.4 83.2,465.7 83.4,465.3 83.6,467.2 83.9,464.9 84.1,465.6 84.4,466.3 84.6,464.9 84.8,465.6 85.1,465.9 85.3,467.3 85.6,465 85.8,465.6 86,466.1 86.3,465.7 86.5,464.8 86.8,465.9 87,465.6 87.2,465.9 87.5,466.3 87.7,466.2 88,465.8 88.2,465.7 88.4,464.6 88.7,465.2 88.9,465.4 89.2,464.8 89.4,464.9 89.7,463.9 89.9,465.2 90.1,465.1 90.4,462.7 90.6,462.6 90.9,461.4 91.1,461.7 91.3,460.5 91.6,459.8 91.8,459.5 92.1,460.1 92.3,459.8 92.5,461.7 92.8,461.5 93,463.1 93.3,463.4 93.5,464.7 93.7,464.3 94,465.4 94.2,464.2 94.5,465.5 94.7,465 94.9,465.4 95.2,465.4 95.4,466 95.7,464 95.9,465.6 96.1,464.4 96.4,466.3 96.6,464 96.9,464.7 97.1,464.3 97.4,466.6 97.6,464.5 97.8,465.5 98.1,465 98.3,464.1 98.6,465.2 98.8,465.9 99,465.2 99.3,466 99.5,465.1 99.8,465.3 100,465 100.2,465.5 100.5,466.6 100.7,465.5 101,465.3 101.2,464.7 101.4,464.6 101.7,466.1 101.9,464.2 102.2,464.3 102.4,464.8 102.6,464.5 102.9,466.1 103.1,462.9 103.4,464.7 103.6,464.7 103.8,463.2 104.1,463.1 104.3,463.4 104.6,463.5 104.8,460.8 105.1,459.1 105.3,459.4 105.5,457.9 105.8,454.5 106,450.8 106.3,450.7 106.5,447 106.7,445.6 107,442.9 107.2,441.6 107.5,441.4 107.7,443.7 107.9,445.4 108.2,445.2 108.4,448.5 108.7,453 108.9,454 109.1,455.5 109.4,458.3 109.6,459.8 109.9,461.1 110.1,461.8 110.3,462.6 110.6,463 110.8,464 111.1,463.5 111.3,464 111.5,464.3 111.8,465.4 112,464.9 112.3,464.6 112.5,465.1 112.8,465.1 113,465.6 113.2,465.2 113.5,466.1 113.7,465.8 114,464.9 114.2,464.6 114.4,465.5 114.7,465.3 114.9,464.8 115.2,463.8 115.4,463.6 115.6,465.1 115.9,465.3 116.1,465.3 116.4,463.8 116.6,465.3 116.8,464.1 117.1,464.7 117.3,464.5 117.6,463.5 117.8,463.3 118,461.9 118.3,462.2 118.5,460.9 118.8,461.5 119,460 119.2,459.1 119.5,456.8 119.7,453.9 120,452.2 120.2,449.1 120.5,447.2 120.7,444.7 120.9,442 121.2,441.7 121.4,441.8 121.7,442.6 121.9,445.2 122.1,448.2 122.4,449.3 122.6,451.9 122.9,453 123.1,456.6 123.3,458.3 123.6,458.6 123.8,461.5 124.1,462.7 124.3,462.4 124.5,463.2 124.8,463.2 125,464.7 125.3,463.3 125.5,464.3 125.7,466 126,464.8 126.2,465.2 126.5,464.8 126.7,464.1 126.9,465 127.2,465.3 127.4,464.4 127.7,465.4 127.9,466 128.2,465.9 128.4,464.1 128.6,464.6 128.9,464.1 129.1,466 129.4,465.7 129.6,465.8 129.8,464.7 130.1,464.5 130.3,465.4 130.6,465.4 130.8,464.8 131,465.5 131.3,465.8 131.5,465.5 131.8,464.6 132,463.9 132.2,465.2 132.5,465.5 132.7,465.1 133,465 133.2,464.7 133.4,465.6 133.7,465 133.9,465 134.2,464 134.4,464 134.6,464.3 134.9,463.3 135.1,462.9 135.4,463.4 135.6,464.4 135.9,463.7 136.1,464.8 136.3,463.9 136.6,464 136.8,463.5 137.1,464.3 137.3,465.9 137.5,465.3 137.8,465.7 138,465.8 138.3,465.3 138.5,465.2 138.7,465.5 139,465.9 139.2,465.8 139.5,465.8 139.7,465.6 139.9,465 140.2,465.3 140.4,464.8 140.7,466.2 140.9,464 141.1,465.4 141.4,467.2 141.6,465.3 141.9,464.7 142.1,465.5 142.3,466.4 142.6,465.4 142.8,466 143.1,465.6 143.3,465.3 143.6,467.7 143.8,465.6 144,465.2 144.3,465.2 144.5,465.8 144.8,465.8 145,466.1 145.2,465.6 145.5,464.5 145.7,465.9 146,465.3 146.2,465.3 146.4,464.5 146.7,465.1 146.9,465 147.2,465.5 147.4,464.5 147.6,465.5 147.9,465.6 148.1,464.7 148.4,465.1 148.6,464.9 148.8,466.1 149.1,463.7 149.3,465.2 149.6,464.3 149.8,465.2 150,466.1 150.3,465 150.5,465.5 150.8,464.8 151,466.8 151.3,466.1 151.5,466.2 151.7,464.5 152,464.6 152.2,466.1 152.5,465.2 152.7,465.1 152.9,465.5 153.2,464.4 153.4,465.8 153.7,465.2 153.9,465.5 154.1,464.7 154.4,465.5 154.6,464.6 154.9,465.7 155.1,465.7 155.3,465.5 155.6,465 155.8,464.9 156.1,462.3 156.3,464.4 156.5,463 156.8,462.5 157,461.2 157.3,459.1 157.5,458.2 157.7,457.2 158,455.8 158.2,452.6 158.5,450.9 158.7,451.7 159,450 159.2,452.9 159.4,452.9 159.7,454 159.9,457.2 160.2,459.5 160.4,458.9 160.6,462.3 160.9,462.1 161.1,464.1 161.4,463.4 161.6,463 161.8,464.7 162.1,465.2 162.3,466.2 162.6,466 162.8,465.3 163,464.7 163.3,464.6 163.5,464.8 163.8,464.4 164,464.8 164.2,463.2 164.5,465.1 164.7,465 165,466.8 165.2,465.5 165.4,464.6 165.7,465.3 165.9,463.9 166.2,464.3 166.4,463.2 166.7,465.3 166.9,464.4 167.1,462.7 167.4,462.8 167.6,462.7 167.9,461.3 168.1,459.9 168.3,457.6 168.6,456.2 168.8,455.3 169.1,454.8 169.3,453 169.5,452.8 169.8,455.2 170,454.9 170.3,457.8 170.5,458.7 170.7,460.6 171,462.4 171.2,462.7 171.5,463.6 171.7,463 171.9,463.6 172.2,464.9 172.4,465.7 172.7,465.8 172.9,466.6 173.1,465.2 173.4,465.2 173.6,465.8 173.9,465.2 174.1,465.2 174.4,464.5 174.6,465.9 174.8,464.5 175.1,465.7 175.3,464.3 175.6,466.1 175.8,464.6 176,465.9 176.3,464.3 176.5,465.1 176.8,466.2 177,464.8 177.2,465.5 177.5,465.1 177.7,463.8 178,465.6 178.2,465.7 178.4,464.7 178.7,465.8 178.9,464.9 179.2,464.7 179.4,465.5 179.6,465 179.9,467.1 180.1,464.4 180.4,466 180.6,466.2 180.8,464.1 181.1,464.3 181.3,465.9 181.6,465.1 181.8,465.7 182.1,466.3 182.3,465.2 182.5,464.7 182.8,463.6 183,465.6 183.3,464.8 183.5,465.7 183.7,465.6 184,464.5 184.2,466.7 184.5,466.2 184.7,466.1 184.9,464.7 185.2,465.2 185.4,465.1 185.7,465.2 185.9,464.7 186.1,465.8 186.4,465.7 186.6,465.7 186.9,465.1 187.1,466.4 187.3,465.6 187.6,463.6 187.8,465 188.1,465.5 188.3,466.2 188.5,465.3 188.8,465.3 189,465 189.3,466 189.5,465.2 189.8,465.1 190,465 190.2,465.9 190.5,465.1 190.7,464.3 191,465.9 191.2,465 191.4,465.7 191.7,465.8 191.9,466.3 192.2,466.2 192.4,465.1 192.6,465.4 192.9,464.6 193.1,466.7 193.4,465.8 193.6,466.5 193.8,465.3 194.1,464.1 194.3,466.6 194.6,465.6 194.8,465.6 195,465.5 195.3,465.9 195.5,465.9 195.8,464.4 196,466.2 196.2,465.1 196.5,465.2 196.7,466.7 197,466.1 197.2,465.2 197.5,464.2 197.7,465.6 197.9,465.9 198.2,465.4 198.4,464.6 198.7,464.9 198.9,464.6 199.1,465.6 199.4,466.1 199.6,466.2 199.9,465 200.1,465.6" fill="none" stroke="#4a4a4a" stroke-width="0.8" stroke-linejoin="round"/>
<polyline points="31.9,436 32.1,436.3 32.4,435.4 32.6,436.2 32.9,436.9 33.1,437.7 33.3,436.8 33.6,436.5 33.8,437.1 34.1,437 34.3,437.5 34.5,437 34.8,436.2 35,436.5 35.3,436.4 35.5,436.5 35.8,436.4 36,435.7 36.2,434.7 36.5,435.7 36.7,434.8 37,436.2 37.2,436.2 37.4,435 37.7,436.6 37.9,436.7 38.2,436.2 38.4,437.3 38.6,437.4 38.9,435.2 39.1,436.7 39.4,436.3 39.6,436.3 39.8,436.6 40.1,435.4 40.3,435.5 40.6,435.3 40.8,435.3 41,435.7 41.3,434.7 41.5,434.9 41.8,436 42,435.5 42.2,435.7 42.5,434 42.7,434.7 43,434.7 43.2,435 43.5,434.4 43.7,435.3 43.9,434.4 44.2,434.2 44.4,433.9 44.7,433.9 44.9,432.5 45.1,432.7 45.4,430.9 45.6,428.7 45.9,425.8 46.1,422.2 46.3,417.3 46.6,410.7 46.8,402.7 47.1,394.8 47.3,386.3 47.5,380.7 47.8,376.6 48,375.9 48.3,382.8 48.5,389.1 48.7,396.3 49,405.1 49.2,411.9 49.5,420.1 49.7,423.7 49.9,425.8 50.2,429.8 50.4,430.8 50.7,433.6 50.9,432.3 51.2,432 51.4,434 51.6,434 51.9,434.2 52.1,433.2 52.4,435.1 52.6,436.1 52.8,433.8 53.1,436 53.3,434.9 53.6,437 53.8,435.7 54,435.4 54.3,436.3 54.5,436 54.8,435.2 55,436.2 55.2,435.4 55.5,434.5 55.7,437.2 56,435.6 56.2,435.4 56.4,436.1 56.7,434.8 56.9,435 57.2,435.6 57.4,435.6 57.6,436 57.9,436.8 58.1,435.6 58.4,436.3 58.6,436.4 58.9,435.3 59.1,436.2 59.3,435.4 59.6,436.8 59.8,436.4 60.1,436.1 60.3,435.1 60.5,436.1 60.8,435.5 61,436.6 61.3,436 61.5,435.5 61.7,436.7 62,436.6 62.2,435.7 62.5,436.9 62.7,435.9 62.9,435.9 63.2,436.2 63.4,435.6 63.7,435.8 63.9,436 64.1,437.2 64.4,437.1 64.6,435.9 64.9,437.2 65.1,436.1 65.3,436.4 65.6,436.7 65.8,436.3 66.1,437.8 66.3,436.3 66.6,435.2 66.8,437 67,435.8 67.3,435.9 67.5,434 67.8,436.8 68,436.6 68.2,436.6 68.5,436.7 68.7,437.2 69,436 69.2,436.7 69.4,435.5 69.7,435.7 69.9,436.7 70.2,436.1 70.4,434.8 70.6,435.9 70.9,435.3 71.1,434.6 71.4,435.1 71.6,434.1 71.8,432.7 72.1,432.4 72.3,433.8 72.6,431.2 72.8,432.3 73,432.8 73.3,433.3 73.5,432.6 73.8,433.8 74,434.6 74.3,435.5 74.5,434.9 74.7,434.7 75,436.4 75.2,436.6 75.5,436.1 75.7,435.5 75.9,436.2 76.2,436 76.4,436.6 76.7,435.1 76.9,436.1 77.1,435.9 77.4,435.2 77.6,436.2 77.9,436 78.1,435.7 78.3,436.3 78.6,435 78.8,436 79.1,436.3 79.3,436.2 79.5,436.8 79.8,435.2 80,435 80.3,436.2 80.5,436.3 80.7,437.5 81,436.4 81.2,435.4 81.5,436.6 81.7,435.4 82,435 82.2,437.8 82.4,436.2 82.7,436.5 82.9,436.4 83.2,437.2 83.4,436.2 83.6,436.8 83.9,435.2 84.1,435 84.4,437 84.6,437 84.8,436.3 85.1,436.1 85.3,436 85.6,435.4 85.8,437 86,436.4 86.3,436.2 86.5,436.1 86.8,436.6 87,436.2 87.2,436.3 87.5,435 87.7,436.1 88,437.2 88.2,435.3 88.4,435.5 88.7,436.1 88.9,435.9 89.2,435.5 89.4,433.6 89.7,434.7 89.9,433 90.1,432.7 90.4,433 90.6,431.8 90.9,432 91.1,433.3 91.3,431.5 91.6,431.6 91.8,430.8 92.1,431.6 92.3,431.9 92.5,432.9 92.8,433.1 93,433.8 93.3,434.5 93.5,434.3 93.7,434.2 94,434.4 94.2,435.8 94.5,435.5 94.7,436.3 94.9,436.3 95.2,435.4 95.4,436.1 95.7,434.6 95.9,437.2 96.1,436.5 96.4,435.5 96.6,434.8 96.9,435.9 97.1,434.3 97.4,435.1 97.6,436.1 97.8,435.6 98.1,435.2 98.3,436.2 98.6,434.8 98.8,435.7 99,435.1 99.3,434.9 99.5,435.8 99.8,434.7 100,436.7 100.2,434.9 100.5,436.7 100.7,434.5 101,435.6 101.2,434.3 101.4,434.1 101.7,435.1 101.9,435.4 102.2,433.9 102.4,435.5 102.6,434 102.9,434.5 103.1,434.5 103.4,434.5 103.6,432.6 103.8,434.7 104.1,433.5 104.3,432.3 104.6,431.1 104.8,429.4 105.1,427.9 105.3,426.7 105.5,422.5 105.8,417.2 106,411.5 106.3,405.8 106.5,396.4 106.7,388.2 107,382.8 107.2,377.9 107.5,377.3 107.7,380.3 107.9,386.1 108.2,394.3 108.4,402.8 108.7,410.4 108.9,417.2 109.1,422.3 109.4,425.9 109.6,428.6 109.9,429.6 110.1,430 110.3,432 110.6,432.3 110.8,432.9 111.1,433.5 111.3,433.1 111.5,433.4 111.8,434.2 112,434.5 112.3,434.1 112.5,435 112.8,434.6 113,434.1 113.2,434.9 113.5,436.3 113.7,434.5 114,435.9 114.2,436.1 114.4,436.2 114.7,434.6 114.9,436.6 115.2,435.3 115.4,435 115.6,435.1 115.9,435.7 116.1,435.3 116.4,435.1 116.6,436.2 116.8,434.7 117.1,434.5 117.3,435.8 117.6,435.7 117.8,435.9 118,434.4 118.3,435.8 118.5,435.4 118.8,436.2 119,434 119.2,434.8 119.5,434.2 119.7,432.9 120,433 120.2,433.5 120.5,431.3 120.7,429.7 120.9,429.1 121.2,427.2 121.4,425.1 121.7,422 121.9,421.1 122.1,421.4 122.4,420.8 122.6,422.1 122.9,425.1 123.1,427.7 123.3,427.8 123.6,428.5 123.8,430.7 124.1,432.1 124.3,433.5 124.5,434.6 124.8,434.4 125,434.3 125.3,435 125.5,434.4 125.7,435.1 126,434.8 126.2,437.1 126.5,435.9 126.7,434.8 126.9,434.7 127.2,435.1 127.4,434.3 127.7,434.9 127.9,435 128.2,436.1 128.4,435.2 128.6,435 128.9,434.6 129.1,434.7 129.4,435.5 129.6,435.4 129.8,436.3 130.1,435.1 130.3,436.3 130.6,435.7 130.8,435.6 131,434.2 131.3,434.7 131.5,436.1 131.8,436.5 132,435.7 132.2,436.1 132.5,435.2 132.7,435.2 133,435 133.2,436.1 133.4,435.5 133.7,435 133.9,434.8 134.2,435.2 134.4,434.8 134.6,433.8 134.9,435.3 135.1,434.1 135.4,433.7 135.6,434.7 135.9,434.4 136.1,433.8 136.3,434.4 136.6,433.6 136.8,434.1 137.1,433.2 137.3,435.9 137.5,433.8 137.8,435.8 138,434.8 138.3,434.8 138.5,435.3 138.7,435.7 139,436 139.2,436.8 139.5,435.8 139.7,436.2 139.9,435.2 140.2,436.1 140.4,435.7 140.7,435.3 140.9,435.5 141.1,435.6 141.4,435.7 141.6,435.9 141.9,435.2 142.1,435.1 142.3,436.1 142.6,434.4 142.8,435.2 143.1,436.7 143.3,433.7 143.6,435.1 143.8,436.1 144,434.4 144.3,437.4 144.5,433.8 144.8,436.6 145,436.7 145.2,436.2 145.5,435.4 145.7,435.8 146,435 146.2,436.2 146.4,434.8 146.7,435.4 146.9,436.3 147.2,434.8 147.4,435.3 147.6,435.7 147.9,434.6 148.1,436.4 148.4,435.8 148.6,434.5 148.8,435.5 149.1,435 149.3,435.1 149.6,435.6 149.8,435 150,436.2 150.3,435 150.5,436.2 150.8,435.5 151,436.1 151.3,435.1 151.5,435.1 151.7,434.7 152,435.9 152.2,436.1 152.5,436.9 152.7,436.4 152.9,435.6 153.2,435.3 153.4,435.7 153.7,435.4 153.9,436.4 154.1,436 154.4,434.7 154.6,434.8 154.9,436.2 155.1,435.4 155.3,435 155.6,435.9 155.8,434.7 156.1,434.6 156.3,434.3 156.5,432.9 156.8,434.5 157,432.5 157.3,432.2 157.5,431.3 157.7,431.4 158,429.8 158.2,428.9 158.5,426.9 158.7,427.5 159,426.5 159.2,428.2 159.4,429 159.7,429.7 159.9,432.1 160.2,432 160.4,432.9 160.6,433.3 160.9,433.6 161.1,434.9 161.4,435.3 161.6,433.8 161.8,435.6 162.1,435.3 162.3,435.7 162.6,435.4 162.8,434.2 163,434.3 163.3,436.4 163.5,435.3 163.8,434.1 164,435.4 164.2,434.9 164.5,433.8 164.7,433.5 165,433.9 165.2,435.2 165.4,434.9 165.7,434.7 165.9,435 166.2,435.1 166.4,432.9 166.7,433.9 166.9,433.1 167.1,432.2 167.4,431.9 167.6,431.3 167.9,430.1 168.1,428.1 168.3,427.7 168.6,428.5 168.8,425.8 169.1,425.3 169.3,427.1 169.5,428.2 169.8,429.2 170,429.2 170.3,431.8 170.5,431.5 170.7,432.1 171,433.1 171.2,433.9 171.5,434.9 171.7,435 171.9,434.8 172.2,435.6 172.4,435.1 172.7,435.7 172.9,434.1 173.1,434 173.4,435.7 173.6,434.2 173.9,435 174.1,435.2 174.4,434.9 174.6,435 174.8,436.3 175.1,433.5 175.3,435.9 175.6,436.9 175.8,435.3 176,435.3 176.3,435.8 176.5,436.6 176.8,434.5 177,435.4 177.2,435.2 177.5,435.7 177.7,435.5 178,435.8 178.2,435.1 178.4,435.4 178.7,434.9 178.9,434.9 179.2,435.3 179.4,435.3 179.6,434.6 179.9,436.5 180.1,435.3 180.4,434.4 180.6,436.1 180.8,434.9 181.1,435.7 181.3,435.4 181.6,435.6 181.8,435.5 182.1,435 182.3,435.4 182.5,436.8 182.8,433.8 183,435.4 183.3,435.7 183.5,434.6 183.7,434.4 184,436.9 184.2,435.1 184.5,436.8 184.7,435.7 184.9,435.4 185.2,435.7 185.4,435.8 185.7,436.2 185.9,435.7 186.1,435.5 186.4,435.5 186.6,436.3 186.9,435.9 187.1,434.7 187.3,434.9 187.6,435.6 187.8,434.9 188.1,435.1 188.3,434.7 188.5,435.2 188.8,435.6 189,436 189.3,435.4 189.5,436.8 189.8,435.3 190,437.6 190.2,436 190.5,435.7 190.7,435 191,433.4 191.2,435.2 191.4,435.5 191.7,436.7 191.9,434.4 192.2,436.7 192.4,435.2 192.6,435.8 192.9,433.6 193.1,435.4 193.4,435.1 193.6,435.8 193.8,435.4 194.1,434.5 194.3,436 194.6,435.8 194.8,435.7 195,436 195.3,436.1 195.5,435.3 195.8,434.4 196,434.3 196.2,436.3 196.5,435.8 196.7,435.4 197,435 197.2,435.3 197.5,435.3 197.7,435.1 197.9,434.8 198.2,436.8 198.4,435.5 198.7,434.9 198.9,434.4 199.1,434.8 199.4,435.8 199.6,435.8 199.9,435.1 200.1,435.3" fill="none" stroke="#f52222" stroke-width="0.8" stroke-linejoin="round"/>
<line x1="47.86" y1="471.5" x2="47.86" y2="483.5" stroke="#333" stroke-width="0.8"/>
<line x1="73.18" y1="479" x2="73.18" y2="483.5" stroke="#333" stroke-width="0.8"/>
<line x1="91.75" y1="478" x2="91.75" y2="483.5" stroke="#333" stroke-width="0.8"/>
<line x1="107.36" y1="473" x2="107.36" y2="483.5" stroke="#333" stroke-width="0.8"/>
<line x1="122.13" y1="474" x2="122.13" y2="483.5" stroke="#333" stroke-width="0.8"/>
<line x1="135.63" y1="478" x2="135.63" y2="483.5" stroke="#333" stroke-width="0.8"/>
<line x1="158.84" y1="476.6" x2="158.84" y2="483.5" stroke="#333" stroke-width="0.8"/>
<line x1="169.39" y1="477.5" x2="169.39" y2="483.5" stroke="#333" stroke-width="0.8"/>
<rect x="31.4" y="349.6" width="169.2" height="133.9" fill="none" stroke="#444" stroke-width="0.9"/>
<text x="152.3" y="474.81" font-size="7.6" fill="#8a8a8a" textLength="47.5" lengthAdjust="spacingAndGlyphs" font-family="'Liberation Serif', serif">PDF#-1446529</text>
<text x="48.5" y="365.94" font-size="8" fill="#111" text-anchor="middle" font-weight="bold" transform="rotate(-90 48.5 363.3)" font-family="'Liberation Serif', serif" stroke="#111" stroke-width="0.22">(100)</text>
<text x="72.4" y="422.14" font-size="8" fill="#111" text-anchor="middle" font-weight="bold" transform="rotate(-90 72.4 419.5)" font-family="'Liberation Serif', serif" stroke="#111" stroke-width="0.22">(110)</text>
<text x="91.8" y="420.44" font-size="8" fill="#111" text-anchor="middle" font-weight="bold" transform="rotate(-90 91.8 417.8)" font-family="'Liberation Serif', serif" stroke="#111" stroke-width="0.22">(111)</text>
<text x="108.2" y="366.79" font-size="8" fill="#111" text-anchor="middle" font-weight="bold" transform="rotate(-90 108.2 364.15)" font-family="'Liberation Serif', serif" stroke="#111" stroke-width="0.22">(200)</text>
<text x="122.3" y="412.69" font-size="8" fill="#111" text-anchor="middle" font-weight="bold" transform="rotate(-90 122.3 410.05)" font-family="'Liberation Serif', serif" stroke="#111" stroke-width="0.22">(210)</text>
<text x="136.9" y="424.69" font-size="8" fill="#111" text-anchor="middle" font-weight="bold" transform="rotate(-90 136.9 422.05)" font-family="'Liberation Serif', serif" stroke="#111" stroke-width="0.22">(220)</text>
<text x="158.3" y="419.99" font-size="8" fill="#111" text-anchor="middle" font-weight="bold" transform="rotate(-90 158.3 417.35)" font-family="'Liberation Serif', serif" stroke="#111" stroke-width="0.22">(211)</text>
<text x="169.5" y="417.79" font-size="8" fill="#111" text-anchor="middle" font-weight="bold" transform="rotate(-90 169.5 415.15)" font-family="'Liberation Serif', serif" stroke="#111" stroke-width="0.22">(300)</text>
<line x1="153.2" y1="359.5" x2="166" y2="359.5" stroke="#333" stroke-width="0.8"/>
<text x="168.3" y="361.64" font-size="8" fill="#111" font-weight="bold" font-family="'Liberation Serif', serif" stroke="#111" stroke-width="0.22">Control</text>
<line x1="153.2" y1="369.8" x2="166" y2="369.8" stroke="#f52222" stroke-width="1"/>
<text x="168.3" y="371.64" font-size="8" fill="#f52222" font-weight="bold" font-family="'Liberation Serif', serif" stroke="#f52222" stroke-width="0.22">GA acid</text>
<line x1="31.4" y1="483.5" x2="31.4" y2="486" stroke="#333" stroke-width="0.8"/>
<line x1="52.5" y1="483.5" x2="52.5" y2="486" stroke="#333" stroke-width="0.8"/>
<line x1="73.6" y1="483.5" x2="73.6" y2="486" stroke="#333" stroke-width="0.8"/>
<line x1="94.7" y1="483.5" x2="94.7" y2="486" stroke="#333" stroke-width="0.8"/>
<line x1="115.8" y1="483.5" x2="115.8" y2="486" stroke="#333" stroke-width="0.8"/>
<line x1="136.9" y1="483.5" x2="136.9" y2="486" stroke="#333" stroke-width="0.8"/>
<line x1="158" y1="483.5" x2="158" y2="486" stroke="#333" stroke-width="0.8"/>
<line x1="179.1" y1="483.5" x2="179.1" y2="486" stroke="#333" stroke-width="0.8"/>
<line x1="200.2" y1="483.5" x2="200.2" y2="486" stroke="#333" stroke-width="0.8"/>
<line x1="41.95" y1="483.5" x2="41.95" y2="485.1" stroke="#333" stroke-width="0.7"/>
<line x1="63.05" y1="483.5" x2="63.05" y2="485.1" stroke="#333" stroke-width="0.7"/>
<line x1="84.15" y1="483.5" x2="84.15" y2="485.1" stroke="#333" stroke-width="0.7"/>
<line x1="105.25" y1="483.5" x2="105.25" y2="485.1" stroke="#333" stroke-width="0.7"/>
<line x1="126.35" y1="483.5" x2="126.35" y2="485.1" stroke="#333" stroke-width="0.7"/>
<line x1="147.45" y1="483.5" x2="147.45" y2="485.1" stroke="#333" stroke-width="0.7"/>
<line x1="168.55" y1="483.5" x2="168.55" y2="485.1" stroke="#333" stroke-width="0.7"/>
<line x1="189.65" y1="483.5" x2="189.65" y2="485.1" stroke="#333" stroke-width="0.7"/>
<text x="31.4" y="494.34" font-size="8" fill="#111" text-anchor="middle" font-weight="bold" font-family="'Liberation Serif', serif" stroke="#111" stroke-width="0.22">10</text>
<text x="52.5" y="494.34" font-size="8" fill="#111" text-anchor="middle" font-weight="bold" font-family="'Liberation Serif', serif" stroke="#111" stroke-width="0.22">15</text>
<text x="73.6" y="494.34" font-size="8" fill="#111" text-anchor="middle" font-weight="bold" font-family="'Liberation Serif', serif" stroke="#111" stroke-width="0.22">20</text>
<text x="94.7" y="494.34" font-size="8" fill="#111" text-anchor="middle" font-weight="bold" font-family="'Liberation Serif', serif" stroke="#111" stroke-width="0.22">25</text>
<text x="115.8" y="494.34" font-size="8" fill="#111" text-anchor="middle" font-weight="bold" font-family="'Liberation Serif', serif" stroke="#111" stroke-width="0.22">30</text>
<text x="136.9" y="494.34" font-size="8" fill="#111" text-anchor="middle" font-weight="bold" font-family="'Liberation Serif', serif" stroke="#111" stroke-width="0.22">35</text>
<text x="158" y="494.34" font-size="8" fill="#111" text-anchor="middle" font-weight="bold" font-family="'Liberation Serif', serif" stroke="#111" stroke-width="0.22">40</text>
<text x="179.1" y="494.34" font-size="8" fill="#111" text-anchor="middle" font-weight="bold" font-family="'Liberation Serif', serif" stroke="#111" stroke-width="0.22">45</text>
<text x="200.2" y="494.34" font-size="8" fill="#111" text-anchor="middle" font-weight="bold" font-family="'Liberation Serif', serif" stroke="#111" stroke-width="0.22">50</text>
<text x="116" y="508.87" font-size="9.3" fill="#111" text-anchor="middle" font-weight="bold" font-family="'Liberation Serif', serif" stroke="#111" stroke-width="0.22">2θ (degree)</text>
<text x="21.2" y="418.57" font-size="9" fill="#111" text-anchor="middle" font-weight="bold" transform="rotate(-90 21.2 415.6)" font-family="'Liberation Serif', serif" stroke="#111" stroke-width="0.22">Intensity (a. u.)</text>
<text x="14.8" y="353.6" font-size="18" fill="#000" font-weight="bold" font-family="'Liberation Serif', serif">f</text>
<rect x="243" y="348.4" width="32.8" height="133.6" fill="#d8eeeb"/>
<polyline points="229.3,474 229.5,474 229.7,474 229.9,474.1 230.1,474.1 230.3,474.2 230.6,474.2 230.8,474.2 231,474.3 231.2,474.3 231.4,474.4 231.6,474.4 231.8,474.4 232,474.5 232.2,474.5 232.4,474.5 232.6,474.6 232.8,474.6 233,474.6 233.2,474.6 233.4,474.7 233.6,474.7 233.8,474.7 234,474.7 234.2,474.8 234.4,474.8 234.6,474.8 234.8,474.8 235,474.8 235.2,474.9 235.4,474.9 235.7,474.9 235.9,474.9 236.1,474.9 236.3,474.9 236.5,474.9 236.7,475 236.9,475 237.1,475 237.3,475 237.5,475 237.7,475 237.9,475 238.1,475 238.3,475 238.5,475 238.7,475 238.9,475 239.1,475 239.3,475 239.5,475 239.7,475 239.9,474.9 240.1,474.9 240.3,474.9 240.5,474.9 240.7,474.8 241,474.8 241.2,474.8 241.4,474.7 241.6,474.7 241.8,474.7 242,474.6 242.2,474.6 242.4,474.5 242.6,474.4 242.8,474.4 243,474.3 243.2,474.2 243.4,474.1 243.6,474 243.8,473.9 244,473.8 244.2,473.6 244.4,473.5 244.6,473.4 244.8,473.2 245,473 245.2,472.8 245.4,472.6 245.6,472.4 245.8,472.2 246,472 246.3,471.7 246.5,471.4 246.7,471.1 246.9,470.8 247.1,470.5 247.3,470.2 247.5,469.8 247.7,469.4 247.9,469 248.1,468.6 248.3,468.1 248.5,467.7 248.7,467.2 248.9,466.6 249.1,466.1 249.3,465.5 249.5,464.9 249.7,464.3 249.9,463.7 250.1,463 250.3,462.3 250.5,461.6 250.7,460.9 250.9,460.2 251.1,459.4 251.3,458.6 251.6,457.8 251.8,456.9 252,456.1 252.2,455.2 252.4,454.3 252.6,453.4 252.8,452.5 253,451.6 253.2,450.7 253.4,449.7 253.6,448.8 253.8,447.9 254,446.9 254.2,446 254.4,445.1 254.6,444.2 254.8,443.3 255,442.4 255.2,441.5 255.4,440.7 255.6,439.8 255.8,439 256,438.3 256.2,437.6 256.4,436.9 256.6,436.3 256.9,435.7 257.1,435.1 257.3,434.7 257.5,434.2 257.7,433.9 257.9,433.6 258.1,433.3 258.3,433.2 258.5,433.1 258.7,433 258.9,433.1 259.1,433.2 259.3,433.3 259.5,433.6 259.7,433.9 259.9,434.3 260.1,434.7 260.3,435.2 260.5,435.7 260.7,436.3 260.9,436.9 261.1,437.6 261.3,438.3 261.5,439.1 261.7,439.9 261.9,440.7 262.2,441.6 262.4,442.5 262.6,443.4 262.8,444.3 263,445.2 263.2,446.1 263.4,447.1 263.6,448 263.8,449 264,449.9 264.2,450.9 264.4,451.8 264.6,452.8 264.8,453.7 265,454.6 265.2,455.5 265.4,456.4 265.6,457.2 265.8,458.1 266,458.9 266.2,459.7 266.4,460.5 266.6,461.3 266.8,462 267,462.8 267.3,463.5 267.5,464.1 267.7,464.8 267.9,465.4 268.1,466 268.3,466.6 268.5,467.2 268.7,467.7 268.9,468.2 269.1,468.7 269.3,469.2 269.5,469.6 269.7,470 269.9,470.5 270.1,470.8 270.3,471.2 270.5,471.5 270.7,471.9 270.9,472.2 271.1,472.5 271.3,472.8 271.5,473 271.7,473.3 271.9,473.5 272.1,473.7 272.3,473.9 272.6,474.1 272.8,474.3 273,474.4 273.2,474.6 273.4,474.8 273.6,474.9 273.8,475 274,475.1 274.2,475.3 274.4,475.4 274.6,475.5 274.8,475.6 275,475.6 275.2,475.7 275.4,475.8 275.6,475.9 275.8,475.9 276,476 276.2,476.1 276.4,476.1 276.6,476.2 276.8,476.2 277,476.3 277.2,476.3 277.4,476.4 277.6,476.4 277.9,476.5 278.1,476.5 278.3,476.5 278.5,476.6 278.7,476.6 278.9,476.6 279.1,476.6 279.3,476.7 279.5,476.7 279.7,476.7 279.9,476.8 280.1,476.8 280.3,476.8 280.5,476.8 280.7,476.8 280.9,476.9 281.1,476.9 281.3,476.9 281.5,476.9 281.7,476.9 281.9,477 282.1,477 282.3,477 282.5,477 282.7,477 282.9,477 283.2,477.1 283.4,477.1 283.6,477.1 283.8,477.1 284,477.1 284.2,477.1 284.4,477.1 284.6,477.2 284.8,477.2 285,477.2 285.2,477.2 285.4,477.2 285.6,477.2 285.8,477.2 286,477.2 286.2,477.2 286.4,477.3 286.6,477.3 286.8,477.3 287,477.3 287.2,477.3 287.4,477.3 287.6,477.3 287.8,477.3 288,477.3 288.2,477.3 288.5,477.4 288.7,477.4 288.9,477.4 289.1,477.4 289.3,477.4 289.5,477.4 289.7,477.4 289.9,477.4 290.1,477.4 290.3,477.4 290.5,477.4 290.7,477.4 290.9,477.4 291.1,477.4 291.3,477.5 291.5,477.5 291.7,477.5 291.9,477.5 292.1,477.5 292.3,477.5 292.5,477.5 292.7,477.5 292.9,477.5 293.1,477.5 293.3,477.5 293.5,477.5 293.8,477.5 294,477.5 294.2,477.5 294.4,477.5 294.6,477.5 294.8,477.6 295,477.6 295.2,477.6 295.4,477.6 295.6,477.6 295.8,477.6 296,477.6 296.2,477.6 296.4,477.6 296.6,477.6 296.8,477.6 297,477.6 297.2,477.6 297.4,477.6 297.6,477.6 297.8,477.6 298,477.6 298.2,477.6 298.4,477.6 298.6,477.6 298.9,477.6 299.1,477.6 299.3,477.6 299.5,477.6 299.7,477.7 299.9,477.7 300.1,477.7 300.3,477.7 300.5,477.7 300.7,477.7 300.9,477.7 301.1,477.7 301.3,477.7 301.5,477.7 301.7,477.7 301.9,477.7 302.1,477.6 302.3,477.6 302.5,477.6 302.7,477.6 302.9,477.6 303.1,477.6 303.3,477.5 303.5,477.5 303.7,477.4 303.9,477.4 304.2,477.3 304.4,477.3 304.6,477.2 304.8,477.1 305,477 305.2,476.9 305.4,476.8 305.6,476.7 305.8,476.7 306,476.6 306.2,476.5 306.4,476.4 306.6,476.4 306.8,476.3 307,476.3 307.2,476.3 307.4,476.3 307.6,476.3 307.8,476.3 308,476.3 308.2,476.4 308.4,476.5 308.6,476.5 308.8,476.6 309,476.7 309.2,476.8 309.5,476.9 309.7,477 309.9,477.1 310.1,477.2 310.3,477.3 310.5,477.3 310.7,477.4" fill="none" stroke="#333" stroke-width="1" stroke-linejoin="round"/>
<polyline points="229.3,475.5 229.5,475.5 229.7,475.6 229.9,475.6 230.1,475.6 230.3,475.7 230.6,475.7 230.8,475.7 231,475.8 231.2,475.8 231.4,475.8 231.6,475.8 231.8,475.9 232,475.9 232.2,475.9 232.4,475.9 232.6,476 232.8,476 233,476 233.2,476 233.4,476 233.6,476 233.8,476 234,476 234.2,476.1 234.4,476.1 234.6,476.1 234.8,476.1 235,476.1 235.2,476.1 235.4,476.1 235.7,476.1 235.9,476.1 236.1,476.1 236.3,476.1 236.5,476.1 236.7,476.1 236.9,476 237.1,476 237.3,476 237.5,476 237.7,476 237.9,476 238.1,476 238.3,476 238.5,475.9 238.7,475.9 238.9,475.9 239.1,475.9 239.3,475.9 239.5,475.8 239.7,475.8 239.9,475.8 240.1,475.8 240.3,475.7 240.5,475.7 240.7,475.7 241,475.6 241.2,475.6 241.4,475.6 241.6,475.5 241.8,475.5 242,475.4 242.2,475.4 242.4,475.3 242.6,475.3 242.8,475.2 243,475.2 243.2,475.1 243.4,475.1 243.6,475 243.8,474.9 244,474.8 244.2,474.8 244.4,474.7 244.6,474.6 244.8,474.5 245,474.4 245.2,474.3 245.4,474.2 245.6,474.1 245.8,473.9 246,473.8 246.3,473.6 246.5,473.4 246.7,473.3 246.9,473.1 247.1,472.8 247.3,472.6 247.5,472.3 247.7,472.1 247.9,471.7 248.1,471.4 248.3,471 248.5,470.6 248.7,470.2 248.9,469.7 249.1,469.2 249.3,468.6 249.5,468 249.7,467.3 249.9,466.6 250.1,465.8 250.3,464.9 250.5,464 250.7,463 250.9,461.9 251.1,460.8 251.3,459.5 251.6,458.2 251.8,456.8 252,455.3 252.2,453.7 252.4,452 252.6,450.2 252.8,448.4 253,446.4 253.2,444.3 253.4,442.2 253.6,439.9 253.8,437.6 254,435.2 254.2,432.7 254.4,430.2 254.6,427.6 254.8,424.9 255,422.2 255.2,419.5 255.4,416.8 255.6,414 255.8,411.3 256,408.5 256.2,405.9 256.4,403.3 256.6,400.7 256.9,398.3 257.1,396 257.3,393.8 257.5,391.8 257.7,390 257.9,388.4 258.1,387 258.3,385.9 258.5,385 258.7,384.4 258.9,384 259.1,384 259.3,384.2 259.5,384.7 259.7,385.5 259.9,386.6 260.1,387.9 260.3,389.4 260.5,391.2 260.7,393.1 260.9,395.2 261.1,397.5 261.3,399.9 261.5,402.4 261.7,404.9 261.9,407.6 262.2,410.3 262.4,413 262.6,415.8 262.8,418.5 263,421.3 263.2,424 263.4,426.7 263.6,429.3 263.8,431.8 264,434.3 264.2,436.8 264.4,439.1 264.6,441.4 264.8,443.6 265,445.7 265.2,447.7 265.4,449.6 265.6,451.4 265.8,453.1 266,454.8 266.2,456.3 266.4,457.8 266.6,459.1 266.8,460.4 267,461.6 267.3,462.7 267.5,463.7 267.7,464.7 267.9,465.6 268.1,466.4 268.3,467.1 268.5,467.8 268.7,468.5 268.9,469.1 269.1,469.6 269.3,470.1 269.5,470.6 269.7,471 269.9,471.4 270.1,471.7 270.3,472.1 270.5,472.3 270.7,472.6 270.9,472.9 271.1,473.1 271.3,473.3 271.5,473.5 271.7,473.7 271.9,473.8 272.1,474 272.3,474.1 272.6,474.3 272.8,474.4 273,474.5 273.2,474.6 273.4,474.7 273.6,474.8 273.8,474.9 274,475 274.2,475.1 274.4,475.2 274.6,475.2 274.8,475.3 275,475.4 275.2,475.4 275.4,475.5 275.6,475.6 275.8,475.6 276,475.7 276.2,475.7 276.4,475.8 276.6,475.8 276.8,475.9 277,475.9 277.2,476 277.4,476 277.6,476 277.9,476.1 278.1,476.1 278.3,476.2 278.5,476.2 278.7,476.2 278.9,476.3 279.1,476.3 279.3,476.3 279.5,476.4 279.7,476.4 279.9,476.4 280.1,476.4 280.3,476.5 280.5,476.5 280.7,476.5 280.9,476.6 281.1,476.6 281.3,476.6 281.5,476.6 281.7,476.7 281.9,476.7 282.1,476.7 282.3,476.7 282.5,476.7 282.7,476.8 282.9,476.8 283.2,476.8 283.4,476.8 283.6,476.8 283.8,476.9 284,476.9 284.2,476.9 284.4,476.9 284.6,476.9 284.8,476.9 285,477 285.2,477 285.4,477 285.6,477 285.8,477 286,477 286.2,477.1 286.4,477.1 286.6,477.1 286.8,477.1 287,477.1 287.2,477.1 287.4,477.1 287.6,477.1 287.8,477.2 288,477.2 288.2,477.2 288.5,477.2 288.7,477.2 288.9,477.2 289.1,477.2 289.3,477.2 289.5,477.2 289.7,477.2 289.9,477.3 290.1,477.3 290.3,477.3 290.5,477.3 290.7,477.3 290.9,477.3 291.1,477.3 291.3,477.3 291.5,477.3 291.7,477.3 291.9,477.3 292.1,477.4 292.3,477.4 292.5,477.4 292.7,477.4 292.9,477.4 293.1,477.4 293.3,477.4 293.5,477.4 293.8,477.4 294,477.4 294.2,477.4 294.4,477.4 294.6,477.4 294.8,477.4 295,477.5 295.2,477.5 295.4,477.5 295.6,477.5 295.8,477.5 296,477.5 296.2,477.5 296.4,477.5 296.6,477.5 296.8,477.5 297,477.5 297.2,477.5 297.4,477.5 297.6,477.5 297.8,477.5 298,477.5 298.2,477.5 298.4,477.5 298.6,477.5 298.9,477.6 299.1,477.6 299.3,477.6 299.5,477.6 299.7,477.6 299.9,477.6 300.1,477.6 300.3,477.6 300.5,477.6 300.7,477.6 300.9,477.6 301.1,477.6 301.3,477.6 301.5,477.6 301.7,477.6 301.9,477.6 302.1,477.6 302.3,477.5 302.5,477.5 302.7,477.5 302.9,477.5 303.1,477.4 303.3,477.4 303.5,477.3 303.7,477.2 303.9,477.2 304.2,477.1 304.4,477 304.6,476.9 304.8,476.7 305,476.6 305.2,476.5 305.4,476.3 305.6,476.2 305.8,476.1 306,476 306.2,475.8 306.4,475.7 306.6,475.6 306.8,475.6 307,475.5 307.2,475.5 307.4,475.5 307.6,475.5 307.8,475.6 308,475.6 308.2,475.7 308.4,475.8 308.6,475.9 308.8,476 309,476.2 309.2,476.3 309.5,476.4 309.7,476.6 309.9,476.7 310.1,476.8 310.3,477 310.5,477.1 310.7,477.2" fill="none" stroke="#f52222" stroke-width="1.1" stroke-linejoin="round"/>
<polyline points="315.2,477.8 315.4,477.8 315.6,477.8 315.8,477.8 316.1,477.8 316.3,477.8 316.5,477.8 316.7,477.8 316.9,477.8 317.1,477.8 317.3,477.8 317.5,477.8 317.7,477.8 317.9,477.8 318.1,477.8 318.3,477.8 318.5,477.8 318.7,477.8 318.9,477.8 319.1,477.8 319.3,477.8 319.5,477.8 319.7,477.8 319.9,477.8 320.2,477.8 320.4,477.8 320.6,477.8 320.8,477.8 321,477.8 321.2,477.8 321.4,477.8 321.6,477.8 321.8,477.8 322,477.8 322.2,477.8 322.4,477.8 322.6,477.8 322.8,477.8 323,477.8 323.2,477.8 323.4,477.8 323.6,477.7 323.8,477.7 324,477.7 324.3,477.7 324.5,477.7 324.7,477.7 324.9,477.7 325.1,477.7 325.3,477.7 325.5,477.7 325.7,477.7 325.9,477.7 326.1,477.7 326.3,477.7 326.5,477.7 326.7,477.7 326.9,477.7 327.1,477.7 327.3,477.7 327.5,477.7 327.7,477.7 327.9,477.7 328.2,477.7 328.4,477.7 328.6,477.7 328.8,477.7 329,477.7 329.2,477.7 329.4,477.7 329.6,477.7 329.8,477.7 330,477.7 330.2,477.6 330.4,477.6 330.6,477.6 330.8,477.6 331,477.6 331.2,477.6 331.4,477.6 331.6,477.6 331.8,477.6 332,477.6 332.3,477.6 332.5,477.6 332.7,477.6 332.9,477.6 333.1,477.6 333.3,477.6 333.5,477.6 333.7,477.6 333.9,477.6 334.1,477.6 334.3,477.5 334.5,477.5 334.7,477.5 334.9,477.5 335.1,477.5 335.3,477.5 335.5,477.5 335.7,477.5 335.9,477.5 336.2,477.5 336.4,477.5 336.6,477.5 336.8,477.5 337,477.5 337.2,477.5 337.4,477.4 337.6,477.4 337.8,477.4 338,477.4 338.2,477.4 338.4,477.4 338.6,477.4 338.8,477.4 339,477.4 339.2,477.4 339.4,477.4 339.6,477.3 339.8,477.3 340,477.3 340.3,477.3 340.5,477.3 340.7,477.3 340.9,477.3 341.1,477.3 341.3,477.3 341.5,477.2 341.7,477.2 341.9,477.2 342.1,477.2 342.3,477.2 342.5,477.2 342.7,477.2 342.9,477.1 343.1,477.1 343.3,477.1 343.5,477.1 343.7,477.1 343.9,477.1 344.2,477 344.4,477 344.6,477 344.8,477 345,477 345.2,476.9 345.4,476.9 345.6,476.9 345.8,476.9 346,476.8 346.2,476.8 346.4,476.8 346.6,476.7 346.8,476.7 347,476.7 347.2,476.6 347.4,476.6 347.6,476.5 347.8,476.5 348,476.5 348.3,476.4 348.5,476.3 348.7,476.3 348.9,476.2 349.1,476.2 349.3,476.1 349.5,476 349.7,475.9 349.9,475.8 350.1,475.7 350.3,475.6 350.5,475.5 350.7,475.4 350.9,475.3 351.1,475.1 351.3,475 351.5,474.8 351.7,474.7 351.9,474.5 352.2,474.3 352.4,474.1 352.6,473.9 352.8,473.6 353,473.4 353.2,473.1 353.4,472.8 353.6,472.5 353.8,472.2 354,471.9 354.2,471.5 354.4,471.1 354.6,470.8 354.8,470.3 355,469.9 355.2,469.4 355.4,469 355.6,468.5 355.8,467.9 356,467.4 356.3,466.8 356.5,466.2 356.7,465.6 356.9,465 357.1,464.3 357.3,463.6 357.5,462.9 357.7,462.2 357.9,461.5 358.1,460.7 358.3,460 358.5,459.2 358.7,458.4 358.9,457.5 359.1,456.7 359.3,455.9 359.5,455 359.7,454.2 359.9,453.3 360.1,452.5 360.4,451.6 360.6,450.8 360.8,449.9 361,449.1 361.2,448.3 361.4,447.5 361.6,446.7 361.8,446 362,445.2 362.2,444.6 362.4,443.9 362.6,443.3 362.8,442.7 363,442.2 363.2,441.7 363.4,441.3 363.6,440.9 363.8,440.6 364,440.4 364.3,440.2 364.5,440.1 364.7,440 364.9,440 365.1,440.1 365.3,440.2 365.5,440.4 365.7,440.7 365.9,441 366.1,441.4 366.3,441.9 366.5,442.4 366.7,442.9 366.9,443.5 367.1,444.1 367.3,444.8 367.5,445.5 367.7,446.2 367.9,447 368.1,447.8 368.4,448.6 368.6,449.4 368.8,450.2 369,451.1 369.2,451.9 369.4,452.8 369.6,453.6 369.8,454.5 370,455.3 370.2,456.2 370.4,457 370.6,457.8 370.8,458.6 371,459.4 371.2,460.2 371.4,461 371.6,461.7 371.8,462.5 372,463.2 372.3,463.9 372.5,464.6 372.7,465.2 372.9,465.8 373.1,466.4 373.3,467 373.5,467.6 373.7,468.1 373.9,468.6 374.1,469.1 374.3,469.6 374.5,470.1 374.7,470.5 374.9,470.9 375.1,471.3 375.3,471.6 375.5,472 375.7,472.3 375.9,472.6 376.1,472.9 376.4,473.2 376.6,473.5 376.8,473.7 377,473.9 377.2,474.1 377.4,474.3 377.6,474.5 377.8,474.7 378,474.9 378.2,475 378.4,475.2 378.6,475.3 378.8,475.4 379,475.6 379.2,475.7 379.4,475.8 379.6,475.9 379.8,475.9 380,476 380.3,476.1 380.5,476.2 380.7,476.2 380.9,476.3 381.1,476.4 381.3,476.4 381.5,476.5 381.7,476.5 381.9,476.6 382.1,476.6 382.3,476.6 382.5,476.7 382.7,476.7 382.9,476.8 383.1,476.8 383.3,476.8 383.5,476.8 383.7,476.9 383.9,476.9 384.1,476.9 384.4,476.9 384.6,477 384.8,477 385,477 385.2,477 385.4,477.1 385.6,477.1 385.8,477.1 386,477.1 386.2,477.1 386.4,477.1 386.6,477.2 386.8,477.2 387,477.2 387.2,477.2 387.4,477.2 387.6,477.2 387.8,477.2 388,477.3 388.3,477.3 388.5,477.3 388.7,477.3 388.9,477.3 389.1,477.3 389.3,477.3 389.5,477.3 389.7,477.3 389.9,477.4 390.1,477.4 390.3,477.4 390.5,477.4 390.7,477.4 390.9,477.4 391.1,477.4 391.3,477.4 391.5,477.4 391.7,477.4 391.9,477.4 392.1,477.4 392.4,477.5 392.6,477.5 392.8,477.5 393,477.5 393.2,477.5 393.4,477.5 393.6,477.5 393.8,477.5 394,477.5 394.2,477.5 394.4,477.5 394.6,477.5 394.8,477.5 395,477.5 395.2,477.6 395.4,477.6 395.6,477.6 395.8,477.6 396,477.6 396.2,477.6 396.5,477.6 396.7,477.6 396.9,477.6 397.1,477.6" fill="none" stroke="#333" stroke-width="1" stroke-linejoin="round"/>
<polyline points="315.2,477.7 315.4,477.7 315.6,477.7 315.8,477.7 316.1,477.7 316.3,477.7 316.5,477.6 316.7,477.6 316.9,477.6 317.1,477.6 317.3,477.6 317.5,477.6 317.7,477.6 317.9,477.6 318.1,477.6 318.3,477.6 318.5,477.6 318.7,477.6 318.9,477.6 319.1,477.6 319.3,477.6 319.5,477.6 319.7,477.6 319.9,477.6 320.2,477.6 320.4,477.6 320.6,477.6 320.8,477.6 321,477.6 321.2,477.6 321.4,477.6 321.6,477.6 321.8,477.6 322,477.6 322.2,477.5 322.4,477.5 322.6,477.5 322.8,477.5 323,477.5 323.2,477.5 323.4,477.5 323.6,477.5 323.8,477.5 324,477.5 324.3,477.5 324.5,477.5 324.7,477.5 324.9,477.5 325.1,477.5 325.3,477.5 325.5,477.5 325.7,477.5 325.9,477.5 326.1,477.5 326.3,477.4 326.5,477.4 326.7,477.4 326.9,477.4 327.1,477.4 327.3,477.4 327.5,477.4 327.7,477.4 327.9,477.4 328.2,477.4 328.4,477.4 328.6,477.4 328.8,477.4 329,477.4 329.2,477.4 329.4,477.4 329.6,477.3 329.8,477.3 330,477.3 330.2,477.3 330.4,477.3 330.6,477.3 330.8,477.3 331,477.3 331.2,477.3 331.4,477.3 331.6,477.3 331.8,477.3 332,477.2 332.3,477.2 332.5,477.2 332.7,477.2 332.9,477.2 333.1,477.2 333.3,477.2 333.5,477.2 333.7,477.2 333.9,477.2 334.1,477.1 334.3,477.1 334.5,477.1 334.7,477.1 334.9,477.1 335.1,477.1 335.3,477.1 335.5,477.1 335.7,477 335.9,477 336.2,477 336.4,477 336.6,477 336.8,477 337,477 337.2,476.9 337.4,476.9 337.6,476.9 337.8,476.9 338,476.9 338.2,476.9 338.4,476.8 338.6,476.8 338.8,476.8 339,476.8 339.2,476.8 339.4,476.8 339.6,476.7 339.8,476.7 340,476.7 340.3,476.7 340.5,476.7 340.7,476.6 340.9,476.6 341.1,476.6 341.3,476.6 341.5,476.5 341.7,476.5 341.9,476.5 342.1,476.5 342.3,476.4 342.5,476.4 342.7,476.4 342.9,476.3 343.1,476.3 343.3,476.3 343.5,476.3 343.7,476.2 343.9,476.2 344.2,476.2 344.4,476.1 344.6,476.1 344.8,476 345,476 345.2,476 345.4,475.9 345.6,475.9 345.8,475.8 346,475.8 346.2,475.8 346.4,475.7 346.6,475.7 346.8,475.6 347,475.5 347.2,475.5 347.4,475.4 347.6,475.4 347.8,475.3 348,475.2 348.3,475.2 348.5,475.1 348.7,475 348.9,475 349.1,474.9 349.3,474.8 349.5,474.7 349.7,474.6 349.9,474.5 350.1,474.4 350.3,474.3 350.5,474.1 350.7,474 350.9,473.8 351.1,473.7 351.3,473.5 351.5,473.3 351.7,473.1 351.9,472.9 352.2,472.7 352.4,472.4 352.6,472.2 352.8,471.9 353,471.6 353.2,471.2 353.4,470.8 353.6,470.4 353.8,470 354,469.5 354.2,469 354.4,468.4 354.6,467.8 354.8,467.2 355,466.5 355.2,465.7 355.4,464.9 355.6,464 355.8,463.1 356,462.1 356.3,461 356.5,459.8 356.7,458.6 356.9,457.3 357.1,455.9 357.3,454.5 357.5,453 357.7,451.3 357.9,449.6 358.1,447.9 358.3,446 358.5,444.1 358.7,442.1 358.9,440 359.1,437.8 359.3,435.6 359.5,433.3 359.7,430.9 359.9,428.5 360.1,426.1 360.4,423.6 360.6,421.1 360.8,418.5 361,416 361.2,413.4 361.4,410.9 361.6,408.4 361.8,406 362,403.6 362.2,401.2 362.4,399 362.6,396.9 362.8,394.8 363,393 363.2,391.3 363.4,389.7 363.6,388.4 363.8,387.3 364,386.4 364.3,385.7 364.5,385.2 364.7,385 364.9,385.1 365.1,385.3 365.3,385.9 365.5,386.6 365.7,387.6 365.9,388.8 366.1,390.2 366.3,391.8 366.5,393.6 366.7,395.5 366.9,397.6 367.1,399.7 367.3,402 367.5,404.4 367.7,406.8 367.9,409.3 368.1,411.8 368.4,414.3 368.6,416.8 368.8,419.4 369,421.9 369.2,424.4 369.4,426.9 369.6,429.3 369.8,431.7 370,434.1 370.2,436.3 370.4,438.5 370.6,440.7 370.8,442.7 371,444.7 371.2,446.6 371.4,448.5 371.6,450.2 371.8,451.9 372,453.5 372.3,455 372.5,456.4 372.7,457.8 372.9,459 373.1,460.2 373.3,461.4 373.5,462.4 373.7,463.4 373.9,464.3 374.1,465.2 374.3,466 374.5,466.7 374.7,467.4 374.9,468 375.1,468.6 375.3,469.2 375.5,469.7 375.7,470.1 375.9,470.6 376.1,471 376.4,471.3 376.6,471.7 376.8,472 377,472.3 377.2,472.5 377.4,472.8 377.6,473 377.8,473.2 378,473.4 378.2,473.6 378.4,473.7 378.6,473.9 378.8,474 379,474.2 379.2,474.3 379.4,474.4 379.6,474.5 379.8,474.6 380,474.7 380.3,474.8 380.5,474.9 380.7,475 380.9,475.1 381.1,475.1 381.3,475.2 381.5,475.3 381.7,475.3 381.9,475.4 382.1,475.5 382.3,475.5 382.5,475.6 382.7,475.6 382.9,475.7 383.1,475.7 383.3,475.8 383.5,475.8 383.7,475.9 383.9,475.9 384.1,475.9 384.4,476 384.6,476 384.8,476.1 385,476.1 385.2,476.1 385.4,476.2 385.6,476.2 385.8,476.2 386,476.3 386.2,476.3 386.4,476.3 386.6,476.4 386.8,476.4 387,476.4 387.2,476.4 387.4,476.5 387.6,476.5 387.8,476.5 388,476.5 388.3,476.6 388.5,476.6 388.7,476.6 388.9,476.6 389.1,476.7 389.3,476.7 389.5,476.7 389.7,476.7 389.9,476.7 390.1,476.8 390.3,476.8 390.5,476.8 390.7,476.8 390.9,476.8 391.1,476.9 391.3,476.9 391.5,476.9 391.7,476.9 391.9,476.9 392.1,476.9 392.4,477 392.6,477 392.8,477 393,477 393.2,477 393.4,477 393.6,477 393.8,477 394,477.1 394.2,477.1 394.4,477.1 394.6,477.1 394.8,477.1 395,477.1 395.2,477.1 395.4,477.1 395.6,477.2 395.8,477.2 396,477.2 396.2,477.2 396.5,477.2 396.7,477.2 396.9,477.2 397.1,477.2" fill="none" stroke="#f52222" stroke-width="1.1" stroke-linejoin="round"/>
<rect x="229" y="348.4" width="169" height="133.6" fill="none" stroke="#555" stroke-width="0.9"/>
<rect x="311" y="346.4" width="4.5" height="4" fill="#fff"/>
<line x1="310.5" y1="350.9" x2="313.5" y2="345.9" stroke="#333" stroke-width="0.7"/>
<line x1="313.5" y1="350.9" x2="316.5" y2="345.9" stroke="#333" stroke-width="0.7"/>
<rect x="311" y="480" width="4.5" height="4" fill="#fff"/>
<line x1="310.5" y1="484.5" x2="313.5" y2="479.5" stroke="#333" stroke-width="0.7"/>
<line x1="313.5" y1="484.5" x2="316.5" y2="479.5" stroke="#333" stroke-width="0.7"/>
<line x1="255" y1="428.5" x2="264.2" y2="428.5" stroke="#f52222" stroke-width="0.9"/>
<path d="M255 428.5 l2 -1.2 v2.4 z M264.2 428.5 l-2 -1.2 v2.4 z" fill="#f52222"/>
<line x1="252.7" y1="457.2" x2="265" y2="457.2" stroke="#222" stroke-width="0.9"/>
<path d="M252.7 457.2 l2 -1.2 v2.4 z M265 457.2 l-2 -1.2 v2.4 z" fill="#222"/>
<line x1="359.7" y1="431.4" x2="370.3" y2="431.4" stroke="#f52222" stroke-width="0.9"/>
<path d="M359.7 431.4 l2 -1.2 v2.4 z M370.3 431.4 l-2 -1.2 v2.4 z" fill="#f52222"/>
<line x1="359.2" y1="460.3" x2="370.3" y2="460.3" stroke="#222" stroke-width="0.9"/>
<path d="M359.2 460.3 l2 -1.2 v2.4 z M370.3 460.3 l-2 -1.2 v2.4 z" fill="#222"/>
<path d="M259 426 Q264 414 277 413" fill="none" stroke="#f52222" stroke-width="0.8"/>
<path d="M278.5 412.6 l-3 -1 l0.8 2.6 z" fill="#f52222"/>
<path d="M364 430 Q360 421 350 418" fill="none" stroke="#f52222" stroke-width="0.8"/>
<path d="M349 417.5 l3 -0.6 l-1.4 2.6 z" fill="#f52222"/>
<path d="M243 446 Q252 449 258 457" fill="none" stroke="#222" stroke-width="0.7"/>
<path d="M363 459 Q366 449 380 446" fill="none" stroke="#222" stroke-width="0.7"/>
<path d="M381.5 445.6 l-3 -1 l0.8 2.6 z" fill="#222"/>
<text x="280.5" y="416.54" font-size="8" fill="#f52222" font-weight="bold" font-family="'Liberation Serif', serif" stroke="#f52222" stroke-width="0.22">0.568 °</text>
<text x="229.5" y="443.54" font-size="8" fill="#111" font-weight="bold" font-family="'Liberation Serif', serif" stroke="#111" stroke-width="0.22">0.789 °</text>
<text x="327.4" y="419.94" font-size="8" fill="#f52222" font-weight="bold" font-family="'Liberation Serif', serif" stroke="#f52222" stroke-width="0.22">0.611 °</text>
<text x="372.4" y="443.84" font-size="8" fill="#111" font-weight="bold" font-family="'Liberation Serif', serif" stroke="#111" stroke-width="0.22">0.749 °</text>
<text x="272.4" y="383.14" font-size="8" fill="#111" text-anchor="middle" font-weight="bold" transform="rotate(-90 272.4 380.5)" font-family="'Liberation Serif', serif" stroke="#111" stroke-width="0.22">(100)</text>
<text x="353.5" y="391.64" font-size="8" fill="#111" text-anchor="middle" font-weight="bold" transform="rotate(-90 353.5 389)" font-family="'Liberation Serif', serif" stroke="#111" stroke-width="0.22">(200)</text>
<line x1="346.3" y1="359.5" x2="360.9" y2="359.5" stroke="#111" stroke-width="0.9"/>
<text x="363" y="361.64" font-size="8" fill="#111" font-weight="bold" font-family="'Liberation Serif', serif" stroke="#111" stroke-width="0.22">Control</text>
<line x1="346.3" y1="370.2" x2="360.9" y2="370.2" stroke="#f52222" stroke-width="1.1"/>
<text x="363" y="372.34" font-size="8" fill="#f52222" font-weight="bold" font-family="'Liberation Serif', serif" stroke="#f52222" stroke-width="0.22">GA acid</text>
<line x1="229" y1="482" x2="229" y2="484.5" stroke="#333" stroke-width="0.8"/>
<line x1="262" y1="482" x2="262" y2="484.5" stroke="#333" stroke-width="0.8"/>
<line x1="295" y1="482" x2="295" y2="484.5" stroke="#333" stroke-width="0.8"/>
<line x1="331.4" y1="482" x2="331.4" y2="484.5" stroke="#333" stroke-width="0.8"/>
<line x1="364.4" y1="482" x2="364.4" y2="484.5" stroke="#333" stroke-width="0.8"/>
<line x1="397.4" y1="482" x2="397.4" y2="484.5" stroke="#333" stroke-width="0.8"/>
<line x1="245.5" y1="482" x2="245.5" y2="483.6" stroke="#333" stroke-width="0.7"/>
<line x1="278.5" y1="482" x2="278.5" y2="483.6" stroke="#333" stroke-width="0.7"/>
<line x1="314.9" y1="482" x2="314.9" y2="483.6" stroke="#333" stroke-width="0.7"/>
<line x1="347.9" y1="482" x2="347.9" y2="483.6" stroke="#333" stroke-width="0.7"/>
<line x1="380.9" y1="482" x2="380.9" y2="483.6" stroke="#333" stroke-width="0.7"/>
<text x="229" y="494.14" font-size="8" fill="#111" text-anchor="middle" font-weight="bold" font-family="'Liberation Serif', serif" stroke="#111" stroke-width="0.22">12</text>
<text x="262" y="494.14" font-size="8" fill="#111" text-anchor="middle" font-weight="bold" font-family="'Liberation Serif', serif" stroke="#111" stroke-width="0.22">14</text>
<text x="295" y="494.14" font-size="8" fill="#111" text-anchor="middle" font-weight="bold" font-family="'Liberation Serif', serif" stroke="#111" stroke-width="0.22">16</text>
<text x="331.4" y="494.14" font-size="8" fill="#111" text-anchor="middle" font-weight="bold" font-family="'Liberation Serif', serif" stroke="#111" stroke-width="0.22">26</text>
<text x="364.4" y="494.14" font-size="8" fill="#111" text-anchor="middle" font-weight="bold" font-family="'Liberation Serif', serif" stroke="#111" stroke-width="0.22">28</text>
<text x="397.4" y="494.14" font-size="8" fill="#111" text-anchor="middle" font-weight="bold" font-family="'Liberation Serif', serif" stroke="#111" stroke-width="0.22">30</text>
<text x="312" y="509.07" font-size="9.3" fill="#111" text-anchor="middle" font-weight="bold" font-family="'Liberation Serif', serif" stroke="#111" stroke-width="0.22">2θ (degree)</text>
<text x="217.2" y="418.57" font-size="9" fill="#111" text-anchor="middle" font-weight="bold" transform="rotate(-90 217.2 415.6)" font-family="'Liberation Serif', serif" stroke="#111" stroke-width="0.22">Intensity (a. u.)</text>
<text x="213.5" y="351.2" font-size="18.5" fill="#000" font-weight="bold" font-family="'Liberation Serif', serif">g</text>
<rect x="428.6" y="349.2" width="168.6" height="133.3" fill="none" stroke="#444" stroke-width="0.9"/>
<circle cx="429.54" cy="478.24" r="1.4" fill="none" stroke="#222" stroke-width="0.9"/>
<circle cx="431.3" cy="478.2" r="1.4" fill="none" stroke="#222" stroke-width="0.9"/>
<circle cx="433.07" cy="478.16" r="1.4" fill="none" stroke="#222" stroke-width="0.9"/>
<circle cx="434.83" cy="478.13" r="1.4" fill="none" stroke="#222" stroke-width="0.9"/>
<circle cx="436.6" cy="478.09" r="1.4" fill="none" stroke="#222" stroke-width="0.9"/>
<circle cx="438.36" cy="478.04" r="1.4" fill="none" stroke="#222" stroke-width="0.9"/>
<circle cx="440.12" cy="478" r="1.4" fill="none" stroke="#222" stroke-width="0.9"/>
<circle cx="441.89" cy="477.95" r="1.4" fill="none" stroke="#222" stroke-width="0.9"/>
<circle cx="443.65" cy="477.9" r="1.4" fill="none" stroke="#222" stroke-width="0.9"/>
<circle cx="445.42" cy="477.84" r="1.4" fill="none" stroke="#222" stroke-width="0.9"/>
<circle cx="447.18" cy="477.78" r="1.4" fill="none" stroke="#222" stroke-width="0.9"/>
<circle cx="448.94" cy="477.72" r="1.4" fill="none" stroke="#222" stroke-width="0.9"/>
<circle cx="450.71" cy="477.65" r="1.4" fill="none" stroke="#222" stroke-width="0.9"/>
<circle cx="452.47" cy="477.57" r="1.4" fill="none" stroke="#222" stroke-width="0.9"/>
<circle cx="454.24" cy="477.49" r="1.4" fill="none" stroke="#222" stroke-width="0.9"/>
<circle cx="456" cy="477.4" r="1.4" fill="none" stroke="#222" stroke-width="0.9"/>
<circle cx="457.76" cy="477.3" r="1.4" fill="none" stroke="#222" stroke-width="0.9"/>
<circle cx="459.53" cy="477.19" r="1.4" fill="none" stroke="#222" stroke-width="0.9"/>
<circle cx="461.29" cy="477.06" r="1.4" fill="none" stroke="#222" stroke-width="0.9"/>
<circle cx="463.06" cy="476.91" r="1.4" fill="none" stroke="#222" stroke-width="0.9"/>
<circle cx="464.82" cy="476.74" r="1.4" fill="none" stroke="#222" stroke-width="0.9"/>
<circle cx="466.58" cy="476.55" r="1.4" fill="none" stroke="#222" stroke-width="0.9"/>
<circle cx="468.35" cy="476.31" r="1.4" fill="none" stroke="#222" stroke-width="0.9"/>
<circle cx="470.11" cy="476.02" r="1.4" fill="none" stroke="#222" stroke-width="0.9"/>
<circle cx="471.88" cy="475.68" r="1.4" fill="none" stroke="#222" stroke-width="0.9"/>
<circle cx="473.64" cy="475.27" r="1.4" fill="none" stroke="#222" stroke-width="0.9"/>
<circle cx="475.4" cy="474.77" r="1.4" fill="none" stroke="#222" stroke-width="0.9"/>
<circle cx="477.17" cy="474.16" r="1.4" fill="none" stroke="#222" stroke-width="0.9"/>
<circle cx="478.93" cy="473.44" r="1.4" fill="none" stroke="#222" stroke-width="0.9"/>
<circle cx="480.7" cy="472.57" r="1.4" fill="none" stroke="#222" stroke-width="0.9"/>
<circle cx="482.46" cy="471.55" r="1.4" fill="none" stroke="#222" stroke-width="0.9"/>
<circle cx="484.22" cy="470.37" r="1.4" fill="none" stroke="#222" stroke-width="0.9"/>
<circle cx="485.99" cy="469.01" r="1.4" fill="none" stroke="#222" stroke-width="0.9"/>
<circle cx="487.75" cy="467.48" r="1.4" fill="none" stroke="#222" stroke-width="0.9"/>
<circle cx="489.52" cy="465.77" r="1.4" fill="none" stroke="#222" stroke-width="0.9"/>
<circle cx="491.28" cy="463.92" r="1.4" fill="none" stroke="#222" stroke-width="0.9"/>
<circle cx="493.04" cy="461.95" r="1.4" fill="none" stroke="#222" stroke-width="0.9"/>
<circle cx="494.81" cy="459.92" r="1.4" fill="none" stroke="#222" stroke-width="0.9"/>
<circle cx="496.57" cy="457.9" r="1.4" fill="none" stroke="#222" stroke-width="0.9"/>
<circle cx="498.34" cy="455.98" r="1.4" fill="none" stroke="#222" stroke-width="0.9"/>
<circle cx="500.1" cy="454.3" r="1.4" fill="none" stroke="#222" stroke-width="0.9"/>
<circle cx="501.86" cy="452.99" r="1.4" fill="none" stroke="#222" stroke-width="0.9"/>
<circle cx="503.63" cy="452.17" r="1.4" fill="none" stroke="#222" stroke-width="0.9"/>
<circle cx="505.39" cy="451.94" r="1.4" fill="none" stroke="#222" stroke-width="0.9"/>
<circle cx="507.16" cy="452.33" r="1.4" fill="none" stroke="#222" stroke-width="0.9"/>
<circle cx="508.92" cy="453.28" r="1.4" fill="none" stroke="#222" stroke-width="0.9"/>
<circle cx="510.68" cy="454.7" r="1.4" fill="none" stroke="#222" stroke-width="0.9"/>
<circle cx="512.45" cy="456.44" r="1.4" fill="none" stroke="#222" stroke-width="0.9"/>
<circle cx="514.21" cy="458.38" r="1.4" fill="none" stroke="#222" stroke-width="0.9"/>
<circle cx="515.98" cy="460.4" r="1.4" fill="none" stroke="#222" stroke-width="0.9"/>
<circle cx="517.74" cy="462.41" r="1.4" fill="none" stroke="#222" stroke-width="0.9"/>
<circle cx="519.5" cy="464.33" r="1.4" fill="none" stroke="#222" stroke-width="0.9"/>
<circle cx="521.27" cy="466.12" r="1.4" fill="none" stroke="#222" stroke-width="0.9"/>
<circle cx="523.03" cy="467.76" r="1.4" fill="none" stroke="#222" stroke-width="0.9"/>
<circle cx="524.8" cy="469.23" r="1.4" fill="none" stroke="#222" stroke-width="0.9"/>
<circle cx="526.56" cy="470.52" r="1.4" fill="none" stroke="#222" stroke-width="0.9"/>
<circle cx="528.32" cy="471.64" r="1.4" fill="none" stroke="#222" stroke-width="0.9"/>
<circle cx="530.09" cy="472.59" r="1.4" fill="none" stroke="#222" stroke-width="0.9"/>
<circle cx="531.85" cy="473.4" r="1.4" fill="none" stroke="#222" stroke-width="0.9"/>
<circle cx="533.62" cy="474.07" r="1.4" fill="none" stroke="#222" stroke-width="0.9"/>
<circle cx="535.38" cy="474.63" r="1.4" fill="none" stroke="#222" stroke-width="0.9"/>
<circle cx="537.14" cy="475.09" r="1.4" fill="none" stroke="#222" stroke-width="0.9"/>
<circle cx="538.91" cy="475.47" r="1.4" fill="none" stroke="#222" stroke-width="0.9"/>
<circle cx="540.67" cy="475.77" r="1.4" fill="none" stroke="#222" stroke-width="0.9"/>
<circle cx="542.44" cy="476.03" r="1.4" fill="none" stroke="#222" stroke-width="0.9"/>
<circle cx="544.2" cy="476.23" r="1.4" fill="none" stroke="#222" stroke-width="0.9"/>
<circle cx="545.96" cy="476.41" r="1.4" fill="none" stroke="#222" stroke-width="0.9"/>
<circle cx="547.73" cy="476.55" r="1.4" fill="none" stroke="#222" stroke-width="0.9"/>
<circle cx="549.49" cy="476.68" r="1.4" fill="none" stroke="#222" stroke-width="0.9"/>
<circle cx="551.26" cy="476.78" r="1.4" fill="none" stroke="#222" stroke-width="0.9"/>
<circle cx="553.02" cy="476.87" r="1.4" fill="none" stroke="#222" stroke-width="0.9"/>
<circle cx="554.78" cy="476.96" r="1.4" fill="none" stroke="#222" stroke-width="0.9"/>
<circle cx="556.55" cy="477.03" r="1.4" fill="none" stroke="#222" stroke-width="0.9"/>
<circle cx="558.31" cy="477.09" r="1.4" fill="none" stroke="#222" stroke-width="0.9"/>
<circle cx="560.08" cy="477.15" r="1.4" fill="none" stroke="#222" stroke-width="0.9"/>
<circle cx="561.84" cy="477.2" r="1.4" fill="none" stroke="#222" stroke-width="0.9"/>
<circle cx="563.6" cy="477.24" r="1.4" fill="none" stroke="#222" stroke-width="0.9"/>
<circle cx="565.37" cy="477.28" r="1.4" fill="none" stroke="#222" stroke-width="0.9"/>
<circle cx="567.13" cy="477.32" r="1.4" fill="none" stroke="#222" stroke-width="0.9"/>
<circle cx="568.9" cy="477.36" r="1.4" fill="none" stroke="#222" stroke-width="0.9"/>
<circle cx="570.66" cy="477.39" r="1.4" fill="none" stroke="#222" stroke-width="0.9"/>
<circle cx="572.42" cy="477.41" r="1.4" fill="none" stroke="#222" stroke-width="0.9"/>
<circle cx="574.19" cy="477.44" r="1.4" fill="none" stroke="#222" stroke-width="0.9"/>
<circle cx="575.95" cy="477.46" r="1.4" fill="none" stroke="#222" stroke-width="0.9"/>
<circle cx="577.72" cy="477.48" r="1.4" fill="none" stroke="#222" stroke-width="0.9"/>
<circle cx="579.48" cy="477.5" r="1.4" fill="none" stroke="#222" stroke-width="0.9"/>
<circle cx="581.24" cy="477.52" r="1.4" fill="none" stroke="#222" stroke-width="0.9"/>
<circle cx="583.01" cy="477.54" r="1.4" fill="none" stroke="#222" stroke-width="0.9"/>
<circle cx="584.77" cy="477.55" r="1.4" fill="none" stroke="#222" stroke-width="0.9"/>
<circle cx="586.54" cy="477.56" r="1.4" fill="none" stroke="#222" stroke-width="0.9"/>
<circle cx="588.3" cy="477.57" r="1.4" fill="none" stroke="#222" stroke-width="0.9"/>
<circle cx="590.06" cy="477.58" r="1.4" fill="none" stroke="#222" stroke-width="0.9"/>
<circle cx="591.83" cy="477.59" r="1.4" fill="none" stroke="#222" stroke-width="0.9"/>
<circle cx="593.59" cy="477.6" r="1.4" fill="none" stroke="#222" stroke-width="0.9"/>
<circle cx="595.36" cy="477.61" r="1.4" fill="none" stroke="#222" stroke-width="0.9"/>
<circle cx="429.54" cy="449.06" r="1.4" fill="none" stroke="#f52222" stroke-width="0.95"/>
<circle cx="431.3" cy="449.03" r="1.4" fill="none" stroke="#f52222" stroke-width="0.95"/>
<circle cx="433.07" cy="448.99" r="1.4" fill="none" stroke="#f52222" stroke-width="0.95"/>
<circle cx="434.83" cy="448.95" r="1.4" fill="none" stroke="#f52222" stroke-width="0.95"/>
<circle cx="436.6" cy="448.91" r="1.4" fill="none" stroke="#f52222" stroke-width="0.95"/>
<circle cx="438.36" cy="448.87" r="1.4" fill="none" stroke="#f52222" stroke-width="0.95"/>
<circle cx="440.12" cy="448.82" r="1.4" fill="none" stroke="#f52222" stroke-width="0.95"/>
<circle cx="441.89" cy="448.77" r="1.4" fill="none" stroke="#f52222" stroke-width="0.95"/>
<circle cx="443.65" cy="448.71" r="1.4" fill="none" stroke="#f52222" stroke-width="0.95"/>
<circle cx="445.42" cy="448.65" r="1.4" fill="none" stroke="#f52222" stroke-width="0.95"/>
<circle cx="447.18" cy="448.59" r="1.4" fill="none" stroke="#f52222" stroke-width="0.95"/>
<circle cx="448.94" cy="448.51" r="1.4" fill="none" stroke="#f52222" stroke-width="0.95"/>
<circle cx="450.71" cy="448.44" r="1.4" fill="none" stroke="#f52222" stroke-width="0.95"/>
<circle cx="452.47" cy="448.35" r="1.4" fill="none" stroke="#f52222" stroke-width="0.95"/>
<circle cx="454.24" cy="448.26" r="1.4" fill="none" stroke="#f52222" stroke-width="0.95"/>
<circle cx="456" cy="448.16" r="1.4" fill="none" stroke="#f52222" stroke-width="0.95"/>
<circle cx="457.76" cy="448.05" r="1.4" fill="none" stroke="#f52222" stroke-width="0.95"/>
<circle cx="459.53" cy="447.92" r="1.4" fill="none" stroke="#f52222" stroke-width="0.95"/>
<circle cx="461.29" cy="447.78" r="1.4" fill="none" stroke="#f52222" stroke-width="0.95"/>
<circle cx="463.06" cy="447.63" r="1.4" fill="none" stroke="#f52222" stroke-width="0.95"/>
<circle cx="464.82" cy="447.46" r="1.4" fill="none" stroke="#f52222" stroke-width="0.95"/>
<circle cx="466.58" cy="447.27" r="1.4" fill="none" stroke="#f52222" stroke-width="0.95"/>
<circle cx="468.35" cy="447.05" r="1.4" fill="none" stroke="#f52222" stroke-width="0.95"/>
<circle cx="470.11" cy="446.8" r="1.4" fill="none" stroke="#f52222" stroke-width="0.95"/>
<circle cx="471.88" cy="446.52" r="1.4" fill="none" stroke="#f52222" stroke-width="0.95"/>
<circle cx="473.64" cy="446.18" r="1.4" fill="none" stroke="#f52222" stroke-width="0.95"/>
<circle cx="475.4" cy="445.78" r="1.4" fill="none" stroke="#f52222" stroke-width="0.95"/>
<circle cx="477.17" cy="445.29" r="1.4" fill="none" stroke="#f52222" stroke-width="0.95"/>
<circle cx="478.93" cy="444.68" r="1.4" fill="none" stroke="#f52222" stroke-width="0.95"/>
<circle cx="480.7" cy="443.93" r="1.4" fill="none" stroke="#f52222" stroke-width="0.95"/>
<circle cx="482.46" cy="442.96" r="1.4" fill="none" stroke="#f52222" stroke-width="0.95"/>
<circle cx="484.22" cy="441.73" r="1.4" fill="none" stroke="#f52222" stroke-width="0.95"/>
<circle cx="485.99" cy="440.16" r="1.4" fill="none" stroke="#f52222" stroke-width="0.95"/>
<circle cx="487.75" cy="438.18" r="1.4" fill="none" stroke="#f52222" stroke-width="0.95"/>
<circle cx="489.52" cy="435.69" r="1.4" fill="none" stroke="#f52222" stroke-width="0.95"/>
<circle cx="491.28" cy="432.64" r="1.4" fill="none" stroke="#f52222" stroke-width="0.95"/>
<circle cx="493.04" cy="428.96" r="1.4" fill="none" stroke="#f52222" stroke-width="0.95"/>
<circle cx="494.81" cy="424.64" r="1.4" fill="none" stroke="#f52222" stroke-width="0.95"/>
<circle cx="496.57" cy="419.7" r="1.4" fill="none" stroke="#f52222" stroke-width="0.95"/>
<circle cx="498.34" cy="414.27" r="1.4" fill="none" stroke="#f52222" stroke-width="0.95"/>
<circle cx="500.1" cy="408.56" r="1.4" fill="none" stroke="#f52222" stroke-width="0.95"/>
<circle cx="501.86" cy="402.92" r="1.4" fill="none" stroke="#f52222" stroke-width="0.95"/>
<circle cx="503.63" cy="397.91" r="1.4" fill="none" stroke="#f52222" stroke-width="0.95"/>
<circle cx="505.39" cy="394.19" r="1.4" fill="none" stroke="#f52222" stroke-width="0.95"/>
<circle cx="507.16" cy="392.4" r="1.4" fill="none" stroke="#f52222" stroke-width="0.95"/>
<circle cx="508.92" cy="392.89" r="1.4" fill="none" stroke="#f52222" stroke-width="0.95"/>
<circle cx="510.68" cy="395.58" r="1.4" fill="none" stroke="#f52222" stroke-width="0.95"/>
<circle cx="512.45" cy="399.94" r="1.4" fill="none" stroke="#f52222" stroke-width="0.95"/>
<circle cx="514.21" cy="405.3" r="1.4" fill="none" stroke="#f52222" stroke-width="0.95"/>
<circle cx="515.98" cy="411.02" r="1.4" fill="none" stroke="#f52222" stroke-width="0.95"/>
<circle cx="517.74" cy="416.65" r="1.4" fill="none" stroke="#f52222" stroke-width="0.95"/>
<circle cx="519.5" cy="421.89" r="1.4" fill="none" stroke="#f52222" stroke-width="0.95"/>
<circle cx="521.27" cy="426.57" r="1.4" fill="none" stroke="#f52222" stroke-width="0.95"/>
<circle cx="523.03" cy="430.61" r="1.4" fill="none" stroke="#f52222" stroke-width="0.95"/>
<circle cx="524.8" cy="434.02" r="1.4" fill="none" stroke="#f52222" stroke-width="0.95"/>
<circle cx="526.56" cy="436.82" r="1.4" fill="none" stroke="#f52222" stroke-width="0.95"/>
<circle cx="528.32" cy="439.09" r="1.4" fill="none" stroke="#f52222" stroke-width="0.95"/>
<circle cx="530.09" cy="440.88" r="1.4" fill="none" stroke="#f52222" stroke-width="0.95"/>
<circle cx="531.85" cy="442.3" r="1.4" fill="none" stroke="#f52222" stroke-width="0.95"/>
<circle cx="533.62" cy="443.4" r="1.4" fill="none" stroke="#f52222" stroke-width="0.95"/>
<circle cx="535.38" cy="444.27" r="1.4" fill="none" stroke="#f52222" stroke-width="0.95"/>
<circle cx="537.14" cy="444.96" r="1.4" fill="none" stroke="#f52222" stroke-width="0.95"/>
<circle cx="538.91" cy="445.51" r="1.4" fill="none" stroke="#f52222" stroke-width="0.95"/>
<circle cx="540.67" cy="445.96" r="1.4" fill="none" stroke="#f52222" stroke-width="0.95"/>
<circle cx="542.44" cy="446.33" r="1.4" fill="none" stroke="#f52222" stroke-width="0.95"/>
<circle cx="544.2" cy="446.64" r="1.4" fill="none" stroke="#f52222" stroke-width="0.95"/>
<circle cx="545.96" cy="446.91" r="1.4" fill="none" stroke="#f52222" stroke-width="0.95"/>
<circle cx="547.73" cy="447.15" r="1.4" fill="none" stroke="#f52222" stroke-width="0.95"/>
<circle cx="549.49" cy="447.35" r="1.4" fill="none" stroke="#f52222" stroke-width="0.95"/>
<circle cx="551.26" cy="447.54" r="1.4" fill="none" stroke="#f52222" stroke-width="0.95"/>
<circle cx="553.02" cy="447.7" r="1.4" fill="none" stroke="#f52222" stroke-width="0.95"/>
<circle cx="554.78" cy="447.84" r="1.4" fill="none" stroke="#f52222" stroke-width="0.95"/>
<circle cx="556.55" cy="447.98" r="1.4" fill="none" stroke="#f52222" stroke-width="0.95"/>
<circle cx="558.31" cy="448.09" r="1.4" fill="none" stroke="#f52222" stroke-width="0.95"/>
<circle cx="560.08" cy="448.2" r="1.4" fill="none" stroke="#f52222" stroke-width="0.95"/>
<circle cx="561.84" cy="448.3" r="1.4" fill="none" stroke="#f52222" stroke-width="0.95"/>
<circle cx="563.6" cy="448.39" r="1.4" fill="none" stroke="#f52222" stroke-width="0.95"/>
<circle cx="565.37" cy="448.47" r="1.4" fill="none" stroke="#f52222" stroke-width="0.95"/>
<circle cx="567.13" cy="448.55" r="1.4" fill="none" stroke="#f52222" stroke-width="0.95"/>
<circle cx="568.9" cy="448.61" r="1.4" fill="none" stroke="#f52222" stroke-width="0.95"/>
<circle cx="570.66" cy="448.68" r="1.4" fill="none" stroke="#f52222" stroke-width="0.95"/>
<circle cx="572.42" cy="448.74" r="1.4" fill="none" stroke="#f52222" stroke-width="0.95"/>
<circle cx="574.19" cy="448.79" r="1.4" fill="none" stroke="#f52222" stroke-width="0.95"/>
<circle cx="575.95" cy="448.84" r="1.4" fill="none" stroke="#f52222" stroke-width="0.95"/>
<circle cx="577.72" cy="448.89" r="1.4" fill="none" stroke="#f52222" stroke-width="0.95"/>
<circle cx="579.48" cy="448.93" r="1.4" fill="none" stroke="#f52222" stroke-width="0.95"/>
<circle cx="581.24" cy="448.97" r="1.4" fill="none" stroke="#f52222" stroke-width="0.95"/>
<circle cx="583.01" cy="449.01" r="1.4" fill="none" stroke="#f52222" stroke-width="0.95"/>
<circle cx="584.77" cy="449.04" r="1.4" fill="none" stroke="#f52222" stroke-width="0.95"/>
<circle cx="586.54" cy="449.08" r="1.4" fill="none" stroke="#f52222" stroke-width="0.95"/>
<circle cx="588.3" cy="449.11" r="1.4" fill="none" stroke="#f52222" stroke-width="0.95"/>
<circle cx="590.06" cy="449.14" r="1.4" fill="none" stroke="#f52222" stroke-width="0.95"/>
<circle cx="591.83" cy="449.16" r="1.4" fill="none" stroke="#f52222" stroke-width="0.95"/>
<circle cx="593.59" cy="449.19" r="1.4" fill="none" stroke="#f52222" stroke-width="0.95"/>
<circle cx="595.36" cy="449.21" r="1.4" fill="none" stroke="#f52222" stroke-width="0.95"/>
<line x1="507.7" y1="380.8" x2="503.4" y2="467.2" stroke="#333" stroke-width="0.8" stroke-dasharray="3 2"/>
<text x="433" y="363.84" font-size="8.3" fill="#111" font-weight="bold" font-family="'Liberation Serif', serif" stroke="#111" stroke-width="0.22">Compressive strain</text>
<text x="485.6" y="402.21" font-size="8.2" fill="#111" text-anchor="middle" font-weight="bold" transform="rotate(-90 485.6 399.5)" font-family="'Liberation Serif', serif" stroke="#111" stroke-width="0.22">(100)</text>
<circle cx="553.1" cy="359.7" r="1.3" fill="none" stroke="#222" stroke-width="0.8"/>
<text x="562.6" y="362.21" font-size="8.2" fill="#111" font-weight="bold" font-family="'Liberation Serif', serif" stroke="#111" stroke-width="0.22">Control</text>
<circle cx="553.1" cy="370.2" r="1.3" fill="none" stroke="#f52222" stroke-width="0.8"/>
<text x="562.6" y="372.71" font-size="8.2" fill="#f52222" font-weight="bold" font-family="'Liberation Serif', serif" stroke="#f52222" stroke-width="0.22">GA aicd</text>
<line x1="428.7" y1="482.5" x2="428.7" y2="485" stroke="#333" stroke-width="0.8"/>
<line x1="470.7" y1="482.5" x2="470.7" y2="485" stroke="#333" stroke-width="0.8"/>
<line x1="512.7" y1="482.5" x2="512.7" y2="485" stroke="#333" stroke-width="0.8"/>
<line x1="554.7" y1="482.5" x2="554.7" y2="485" stroke="#333" stroke-width="0.8"/>
<line x1="596.7" y1="482.5" x2="596.7" y2="485" stroke="#333" stroke-width="0.8"/>
<line x1="449.7" y1="482.5" x2="449.7" y2="484.1" stroke="#333" stroke-width="0.7"/>
<line x1="491.7" y1="482.5" x2="491.7" y2="484.1" stroke="#333" stroke-width="0.7"/>
<line x1="533.7" y1="482.5" x2="533.7" y2="484.1" stroke="#333" stroke-width="0.7"/>
<line x1="575.7" y1="482.5" x2="575.7" y2="484.1" stroke="#333" stroke-width="0.7"/>
<text x="428.7" y="493.84" font-size="8" fill="#111" text-anchor="middle" font-weight="bold" font-family="'Liberation Serif', serif" stroke="#111" stroke-width="0.22">12</text>
<text x="470.7" y="493.84" font-size="8" fill="#111" text-anchor="middle" font-weight="bold" font-family="'Liberation Serif', serif" stroke="#111" stroke-width="0.22">13</text>
<text x="512.7" y="493.84" font-size="8" fill="#111" text-anchor="middle" font-weight="bold" font-family="'Liberation Serif', serif" stroke="#111" stroke-width="0.22">14</text>
<text x="554.7" y="493.84" font-size="8" fill="#111" text-anchor="middle" font-weight="bold" font-family="'Liberation Serif', serif" stroke="#111" stroke-width="0.22">15</text>
<text x="596.7" y="493.84" font-size="8" fill="#111" text-anchor="middle" font-weight="bold" font-family="'Liberation Serif', serif" stroke="#111" stroke-width="0.22">16</text>
<text x="513" y="508.87" font-size="9.3" fill="#111" text-anchor="middle" font-weight="bold" font-family="'Liberation Serif', serif" stroke="#111" stroke-width="0.22">2θ (degree)</text>
<text x="415.8" y="418.97" font-size="9" fill="#111" text-anchor="middle" font-weight="bold" transform="rotate(-90 415.8 416)" font-family="'Liberation Serif', serif" stroke="#111" stroke-width="0.22">Intensity (a. u.)</text>
<text x="413.6" y="352" font-size="18" fill="#000" font-weight="bold" font-family="'Liberation Serif', serif">h</text>
<defs>
<filter id="nz1" x="0" y="0" width="1" height="1" color-interpolation-filters="sRGB">
  <feTurbulence type="fractalNoise" baseFrequency="0.13" numOctaves="2" seed="11" result="t"/>
  <feColorMatrix in="t" type="matrix" values="1 0 0 0 0  1 0 0 0 0  1 0 0 0 0  0 0 0 0 1"/>
  <feComponentTransfer><feFuncR type="linear" slope="2.6" intercept="-0.8"/><feFuncG type="linear" slope="2.6" intercept="-0.8"/><feFuncB type="linear" slope="2.6" intercept="-0.8"/></feComponentTransfer>
  <feGaussianBlur stdDeviation="0.7"/>
</filter>
<filter id="nz2" x="0" y="0" width="1" height="1" color-interpolation-filters="sRGB">
  <feTurbulence type="fractalNoise" baseFrequency="0.15" numOctaves="2" seed="8" result="t"/>
  <feColorMatrix in="t" type="matrix" values="1 0 0 0 0  1 0 0 0 0  1 0 0 0 0  0 0 0 0 1"/>
  <feComponentTransfer><feFuncR type="linear" slope="2.0" intercept="-0.46"/><feFuncG type="linear" slope="2.0" intercept="-0.46"/><feFuncB type="linear" slope="2.0" intercept="-0.46"/></feComponentTransfer>
  <feGaussianBlur stdDeviation="1.0"/>
</filter>
<filter id="soft" x="-0.1" y="-0.1" width="1.2" height="1.2"><feGaussianBlur stdDeviation="3"/></filter>
<linearGradient id="strI" gradientUnits="userSpaceOnUse" x1="100" y1="521" x2="110.9" y2="522.1" spreadMethod="repeat">
  <stop offset="0" stop-color="#e0e0e0"/><stop offset="0.2" stop-color="#bcbcbc"/><stop offset="0.34" stop-color="#585858"/><stop offset="0.5" stop-color="#0c0c0c"/><stop offset="0.66" stop-color="#585858"/><stop offset="0.8" stop-color="#bcbcbc"/><stop offset="1" stop-color="#e0e0e0"/>
</linearGradient>
<linearGradient id="strJ" gradientUnits="userSpaceOnUse" x1="242.1" y1="521" x2="253.0" y2="522.5" spreadMethod="repeat">
  <stop offset="0" stop-color="#f4f4f4"/><stop offset="0.15" stop-color="#c8c8c8"/><stop offset="0.3" stop-color="#6a6a6a"/><stop offset="0.5" stop-color="#080808"/><stop offset="0.7" stop-color="#6a6a6a"/><stop offset="0.85" stop-color="#c8c8c8"/><stop offset="1" stop-color="#f4f4f4"/>
</linearGradient>
<linearGradient id="strK" gradientUnits="userSpaceOnUse" x1="441" y1="0" x2="457" y2="0" spreadMethod="repeat">
  <stop offset="0" stop-color="#dcdcdc"/><stop offset="0.18" stop-color="#b8b8b8"/><stop offset="0.32" stop-color="#7a7a7a"/><stop offset="0.42" stop-color="#484848"/><stop offset="0.5" stop-color="#2a2a2a"/><stop offset="0.58" stop-color="#484848"/><stop offset="0.68" stop-color="#7a7a7a"/><stop offset="0.82" stop-color="#b8b8b8"/><stop offset="1" stop-color="#dcdcdc"/>
</linearGradient>
<linearGradient id="fadeKx" gradientUnits="userSpaceOnUse" x1="428" y1="0" x2="598" y2="0"><stop offset="0" stop-color="#858585" stop-opacity="0"/><stop offset="0.45" stop-color="#858585" stop-opacity="0.35"/><stop offset="1" stop-color="#858585" stop-opacity="0.7"/></linearGradient>
<linearGradient id="fadeKy" gradientUnits="userSpaceOnUse" x1="0" y1="521" x2="0" y2="682"><stop offset="0" stop-color="#606060" stop-opacity="0"/><stop offset="0.5" stop-color="#606060" stop-opacity="0.1"/><stop offset="1" stop-color="#606060" stop-opacity="0.45"/></linearGradient>
<linearGradient id="fadeJ2" gradientUnits="userSpaceOnUse" x1="290" y1="0" x2="401" y2="0"><stop offset="0" stop-color="#8c8c8c" stop-opacity="0"/><stop offset="1" stop-color="#8c8c8c" stop-opacity="0.55"/></linearGradient>
<radialGradient id="fadeJ" gradientUnits="userSpaceOnUse" cx="402" cy="521" r="125">
  <stop offset="0" stop-color="#8c8c8c" stop-opacity="0.95"/><stop offset="0.6" stop-color="#8c8c8c" stop-opacity="0.5"/><stop offset="1" stop-color="#8c8c8c" stop-opacity="0"/>
</radialGradient>
<clipPath id="clipI"><rect x="30.3" y="521.5" width="169.6" height="160.7"/></clipPath>
<mask id="maskIstr" maskUnits="userSpaceOnUse" x="20" y="510" width="190" height="185"><polygon points="94,512 210,512 210,664 150,668 118,690 100,690" fill="#fff" filter="url(#soft)"/></mask>
<clipPath id="clipJ"><rect x="230.4" y="521.7" width="170" height="160"/></clipPath>
<clipPath id="clipK"><rect x="428" y="521.3" width="170.3" height="160.1"/></clipPath>
</defs>
<g clip-path="url(#clipI)">
<rect x="29" y="520" width="173" height="165" filter="url(#nz2)"/>
<g mask="url(#maskIstr)">
<rect x="29" y="520" width="173" height="165" fill="url(#strI)"/>
<rect x="29" y="520" width="173" height="165" filter="url(#nz1)" opacity="0.38"/>
</g>
</g>
<rect x="30.3" y="521.5" width="169.6" height="160.7" fill="none" stroke="#000" stroke-width="2"/>
<rect x="34.9" y="674" width="64.3" height="3" fill="#fff"/>
<text x="64.3" y="671.12" font-size="15.2" fill="#fff" text-anchor="middle" font-weight="bold" font-family="'Liberation Serif', serif">5 nm</text>
<rect x="126.2" y="622.4" width="71.4" height="38.8" fill="none" stroke="#f52222" stroke-width="1.2" stroke-dasharray="4 2.5"/>
<text x="15.1" y="527.5" font-size="18" fill="#000" font-weight="bold" font-family="'Liberation Serif', serif">i</text>
<g clip-path="url(#clipJ)">
<rect x="229" y="520" width="174" height="165" fill="url(#strJ)"/>
<rect x="229" y="520" width="174" height="165" fill="url(#fadeJ)"/>
<rect x="229" y="520" width="174" height="165" fill="url(#fadeJ2)"/>
</g>
<rect x="230.4" y="521.7" width="170" height="160" fill="none" stroke="#000" stroke-width="2"/>
<rect x="234.2" y="672.4" width="59" height="3" fill="#fff"/>
<text x="262.5" y="668.91" font-size="15.5" fill="#fff" text-anchor="middle" font-weight="bold" font-family="'Liberation Serif', serif">3 nm</text>
<rect x="295.9" y="632.4" width="97.6" height="47" fill="none" stroke="#f52222" stroke-width="1.2" stroke-dasharray="4 2.5"/>
<line x1="306.29" y1="637" x2="301.38" y2="677" stroke="#f0c020" stroke-width="0.5" stroke-dasharray="3 2"/>
<line x1="305.69" y1="637" x2="300.78" y2="677" stroke="#f52222" stroke-width="0.8" stroke-dasharray="2.5 1.5"/>
<line x1="318.05" y1="637" x2="313.15" y2="677" stroke="#f0c020" stroke-width="0.5" stroke-dasharray="3 2"/>
<line x1="317.45" y1="637" x2="312.55" y2="677" stroke="#f52222" stroke-width="0.8" stroke-dasharray="2.5 1.5"/>
<line x1="328.84" y1="637" x2="323.93" y2="677" stroke="#f0c020" stroke-width="0.5" stroke-dasharray="3 2"/>
<line x1="328.24" y1="637" x2="323.33" y2="677" stroke="#f52222" stroke-width="0.8" stroke-dasharray="2.5 1.5"/>
<line x1="340.6" y1="637" x2="336.68" y2="677" stroke="#f0c020" stroke-width="0.5" stroke-dasharray="3 2"/>
<line x1="340" y1="637" x2="336.08" y2="677" stroke="#f52222" stroke-width="0.8" stroke-dasharray="2.5 1.5"/>
<line x1="350.78" y1="637" x2="345.88" y2="677" stroke="#f52222" stroke-width="0.8" stroke-dasharray="2.5 1.5"/>
<line x1="361.57" y1="637" x2="355.69" y2="677" stroke="#f52222" stroke-width="0.8" stroke-dasharray="2.5 1.5"/>
<line x1="374.31" y1="637" x2="371.37" y2="677" stroke="#f52222" stroke-width="0.8" stroke-dasharray="2.5 1.5"/>
<line x1="386.08" y1="637" x2="382.16" y2="677" stroke="#f52222" stroke-width="0.8" stroke-dasharray="2.5 1.5"/>
<text x="212.8" y="529" font-size="18" fill="#000" font-weight="bold" font-family="'Liberation Serif', serif">j</text>
<g clip-path="url(#clipK)">
<rect x="427" y="520" width="174" height="165" fill="url(#strK)"/>
<rect x="427" y="520" width="174" height="165" fill="url(#fadeKx)"/>
<rect x="427" y="520" width="174" height="165" fill="url(#fadeKy)"/>
</g>
<rect x="428" y="521.3" width="170.3" height="160.1" fill="none" stroke="#000" stroke-width="2"/>
<line x1="484.3" y1="527.8" x2="502.1" y2="535.7" stroke="#ffffff" stroke-width="1.2" stroke-dasharray="3 2"/>
<circle cx="502.1" cy="535.7" r="1.3" fill="#fff"/>
<line x1="502.1" y1="535.7" x2="464.5" y2="634.5" stroke="#ffffff" stroke-width="1.2"/>
<line x1="502.1" y1="535.7" x2="528.2" y2="639.5" stroke="#ffffff" stroke-width="1.2"/>
<line x1="495.2" y1="534" x2="474.9" y2="571.7" stroke="#ffffff" stroke-width="1.1"/>
<path d="M474.9 571.7 l-0.2 -4.2 l3.4 1.4 z" fill="#fff"/>
<line x1="452.3" y1="629.5" x2="467" y2="587.4" stroke="#ffffff" stroke-width="1.1"/>
<path d="M467 587.4 l0.3 4.2 l-3.4 -1.3 z" fill="#fff"/>
<line x1="443.5" y1="627.2" x2="462" y2="635.4" stroke="#ffffff" stroke-width="1.2" stroke-dasharray="3 2"/>
<line x1="459" y1="634.2" x2="533.5" y2="641.3" stroke="#ffffff" stroke-width="1.2"/>
<line x1="481" y1="638.5" x2="521" y2="641.5" stroke="#ffffff" stroke-width="0.9"/>
<line x1="470" y1="637" x2="528" y2="641" stroke="#f0b020" stroke-width="1" stroke-dasharray="1.6 1.2"/>
<line x1="541" y1="642" x2="594" y2="638.5" stroke="#ffffff" stroke-width="1.2"/>
<line x1="541" y1="642.5" x2="566" y2="645" stroke="#ffffff" stroke-width="1"/>
<line x1="566" y1="645" x2="594" y2="639.5" stroke="#ffffff" stroke-width="1"/>
<line x1="560" y1="644" x2="590" y2="641" stroke="#f0b020" stroke-width="1" stroke-dasharray="1.6 1.2"/>
<circle cx="464.5" cy="636" r="1.1" fill="#f5b020"/>
<circle cx="482" cy="639.5" r="1.1" fill="#f5b020"/>
<circle cx="496.5" cy="641" r="1.1" fill="#f5b020"/>
<circle cx="512" cy="641" r="1.1" fill="#f5b020"/>
<circle cx="528" cy="640" r="1.1" fill="#f5b020"/>
<circle cx="543" cy="641.5" r="1.1" fill="#f5b020"/>
<circle cx="561" cy="643.5" r="1.1" fill="#f5b020"/>
<circle cx="578" cy="641.5" r="1.1" fill="#f5b020"/>
<path d="M498 546 Q502 548.5 506 546" fill="none" stroke="#f52222" stroke-width="1.1"/>
<text x="501.5" y="566.59" font-size="13" fill="#f52222" text-anchor="middle" font-weight="bold" font-family="'Liberation Serif', serif" stroke="#f52222" stroke-width="0.22">θ</text>
<text x="471.4" y="588.75" font-size="13.5" fill="#f52222" text-anchor="middle" font-weight="bold" font-family="'Liberation Serif', serif" stroke="#f52222" stroke-width="0.22">R</text>
<text x="478.2" y="630.89" font-size="13" fill="#f52222" font-weight="bold" font-family="'Liberation Serif', serif" stroke="#f52222" stroke-width="0.22">θ<tspan font-size="9.5" dy="3">1</tspan></text>
<text x="570.8" y="630.89" font-size="13" fill="#f52222" font-weight="bold" font-family="'Liberation Serif', serif" stroke="#f52222" stroke-width="0.22">θ<tspan font-size="9.5" dy="3">2</tspan></text>
<text x="528.6" y="606.7" font-size="11.2" fill="#f4f4f4" font-weight="bold" textLength="50.5" lengthAdjust="spacingAndGlyphs" font-family="'Liberation Serif', serif">d<tspan font-size="7" dy="2.5" font-style="italic">0</tspan><tspan dy="-2.5">=6.16 Å</tspan></text>
<text x="466.4" y="673.23" font-size="10.4" fill="#eeeeee" font-weight="bold" textLength="44.5" lengthAdjust="spacingAndGlyphs" font-family="'Liberation Serif', serif">d<tspan font-size="7" dy="2.5">1</tspan><tspan dy="-2.5">=6.49 Å</tspan></text>
<text x="522.8" y="673.23" font-size="10.4" fill="#eeeeee" font-weight="bold" textLength="44.5" lengthAdjust="spacingAndGlyphs" font-family="'Liberation Serif', serif">d<tspan font-size="7" dy="2.5">2</tspan><tspan dy="-2.5">&lt;6.01 Å</tspan></text>
<line x1="531.3" y1="617" x2="531.3" y2="628" stroke="#ffffff" stroke-width="1.2" stroke-dasharray="3.5 1.8"/>
<line x1="545.4" y1="617" x2="545.4" y2="628" stroke="#ffffff" stroke-width="1.2" stroke-dasharray="3.5 1.8"/>
<line x1="531.8" y1="622.5" x2="544.9" y2="622.5" stroke="#ffffff" stroke-width="0.9"/>
<path d="M531.8 622.5 l2.2 -1.2 v2.4 z M544.9 622.5 l-2.2 -1.2 v2.4 z" fill="#fff"/>
<line x1="481" y1="640" x2="481" y2="658" stroke="#ffffff" stroke-width="1.2" stroke-dasharray="3.5 1.8"/>
<line x1="496.8" y1="640" x2="496.8" y2="658" stroke="#ffffff" stroke-width="1.2" stroke-dasharray="3.5 1.8"/>
<line x1="481.5" y1="653.2" x2="496.3" y2="653.2" stroke="#ffffff" stroke-width="0.9"/>
<path d="M481.5 653.2 l2.2 -1.2 v2.4 z M496.3 653.2 l-2.2 -1.2 v2.4 z" fill="#fff"/>
<line x1="529.1" y1="641" x2="529.1" y2="657" stroke="#ffffff" stroke-width="1.2" stroke-dasharray="3.5 1.8"/>
<line x1="543.8" y1="641" x2="543.8" y2="657" stroke="#ffffff" stroke-width="1.2" stroke-dasharray="3.5 1.8"/>
<line x1="529.6" y1="655.4" x2="543.3" y2="655.4" stroke="#ffffff" stroke-width="0.9"/>
<path d="M529.6 655.4 l2.2 -1.2 v2.4 z M543.3 655.4 l-2.2 -1.2 v2.4 z" fill="#fff"/>
<text x="414.2" y="527.2" font-size="18" fill="#000" font-weight="bold" font-family="'Liberation Serif', serif">k</text>
<line x1="197.6" y1="622.4" x2="295.9" y2="632.4" stroke="#f52222" stroke-width="2.2" stroke-dasharray="9 4.5"/>
<line x1="197.6" y1="661.2" x2="295.9" y2="679.4" stroke="#f52222" stroke-width="2.2" stroke-dasharray="9 4.5"/>
<line x1="393.5" y1="632.4" x2="427.5" y2="530" stroke="#f52222" stroke-width="2.2" stroke-dasharray="9 4.5"/>
<line x1="393.5" y1="679.4" x2="427.5" y2="682" stroke="#f52222" stroke-width="2.2" stroke-dasharray="9 4.5"/>
<rect x="234.2" y="672.4" width="59" height="3" fill="#fff"/>
<text x="262.5" y="668.91" font-size="15.5" fill="#fff" text-anchor="middle" font-weight="bold" font-family="'Liberation Serif', serif">3 nm</text>
<g opacity="0.95">
<ellipse cx="358.8" cy="716.8" rx="6.6" ry="5.6" fill="#c4c4c4"/>
<ellipse cx="364.6" cy="720.8" rx="5.2" ry="4.6" fill="#cfcfcf" stroke="#fff" stroke-width="0.8"/>
<path d="M380.1 712.8 L376 718.4 M383.7 712.8 L388.8 718.4 M381.6 717.9 L377.6 724.5 L387.2 723.5 M384.2 721 L387.8 725.1 M397.9 712.3 L397.9 714.9 L392.8 718.9 M397.9 714.9 L403 718.9 M394.9 719.4 L391.8 725.6 M394.9 721.5 L397.4 725.1 M401 719.4 L398.4 725.6 M401 721.5 L404.1 725.6 M409.1 712.8 L417.2 712.8 L417.2 716.9 L409.1 716.9 L409.1 712.8 M407 718.9 L419.3 718.9 M411.6 718.9 L410.6 722 L417.2 722 L416.7 725.6 L414.7 725.1 M447.4 712.8 L443.8 714.9 M443.8 714.9 L443.8 724.5 L447.9 723 M443.8 718.9 L447.9 718.9 M450.5 713.8 L455.1 713.8 L455.1 722 L453.5 723 M450.5 713.8 L450.5 726.1 M459.3 712.8 L466.5 712.8 L466.5 715.9 L459.3 715.9 M459.3 712.8 L459.3 722 L458.3 725.6 M461.9 718.9 L461.9 725.1 M461.9 719.4 L466.5 719.4 L466.5 723.5 M464.1 716.9 L464.1 726.1 M468.5 714.9 L468.5 722.5 M471.6 712.8 L471.6 725.6 L470 725.1 M477.9 712.3 L475.8 715.9 M476.8 714.9 L479.9 714.9 M475.8 718.4 L479.9 718.4 M477.9 718.4 L477.9 725.1 L480.4 723.5 M480.9 713.3 L488.6 713.3 M483 713.3 L481.9 716.9 L487.6 716.9 L487 724.5 L485 724 M484.5 718.9 L484.5 724 M494.4 712.3 L492.3 715.9 M493.3 714.9 L496.4 714.9 M492.3 718.4 L496.4 718.4 M494.4 718.4 L494.4 725.1 L496.9 723.5 M497.4 716.9 L505.1 716.9 M501.5 712.3 L501.5 716.9 L497.4 725.6 M501.5 717.9 L505.1 725.6 M500.5 722 L501.5 724 M508.3 713.3 L513.9 713.3 M510.9 713.3 L508.3 720 M509.8 717.9 L509.8 725.1 M509.8 717.9 L513.9 717.9 L513.9 724.5 L509.8 724.5 M518 712.3 L518.5 713.8 M515.5 714.3 L521.6 714.3 M516 714.3 L516 721 L514.4 725.6 M531.4 712.3 L531.4 717.9 M527.4 713.8 L528.9 716.9 M535.5 713.8 L534 716.9 M525.3 718.9 L537.6 718.9 M529.9 718.9 L529.4 722 L525.8 725.6 M533 718.9 L533 724.5 L537.6 724.5 L537.6 723 M542.8 714.9 L553 714.9 L553 722 L542.8 722 L542.8 714.9 M542.8 718.4 L553 718.4 M547.9 712.3 L547.9 724.5 L554.6 724.5 L554.6 723 M558.8 712.3 L562.9 712.3 L562.9 715.9 L558.8 715.9 L558.8 712.3 M566 712.3 L570 712.3 L570 715.9 L566 715.9 L566 712.3 M557.8 718.4 L571.1 718.4 M564.4 716.4 L564.4 718.4 L559.3 721.5 M564.4 718.4 L569.5 721.5 M567.5 716.7 L568.5 717.7 M558.8 722 L562.9 722 L562.9 725.6 L558.8 725.6 L558.8 722 M566 722 L570 722 L570 725.6 L566 725.6 L566 722 M577.9 712.3 L574.8 717.9 M576.7 715.9 L576.7 726.1 M580.9 712.8 L579.9 715.9 M580.4 714.9 L587.1 714.9 M579.4 719.4 L587.6 719.4 M583.5 712.3 L583.5 726.1 " fill="none" stroke="#c2c2c2" stroke-width="1.05" stroke-linecap="round" stroke-linejoin="round"/>
<circle cx="425.5" cy="718.8" r="1" fill="#c2c2c2"/>
</g>
<text x="10.5" y="699.6" font-size="9.8" fill="#231f20" font-family="'Liberation Sans', sans-serif" textLength="594.5" lengthAdjust="spacingAndGlyphs"><tspan font-weight="bold">Figure 1.</tspan>  Structure characteristics. a) The FTIR spectra of control and GA-acid QDs. XPS core-level spectra of b) N 1s, c) C 1s, and d) O 1s of QDs. e) The</text>
<text x="10.5" y="711" font-size="9.8" fill="#231f20" font-family="'Liberation Sans', sans-serif" textLength="594" lengthAdjust="spacingAndGlyphs">elemental ratio of the QDs analyzed based on XPS results. f) XRD patterns of control and GA-acid QDs. g) Magnified patterns of (100) and (200) planes.</text>
<text x="10.5" y="722" font-size="9.8" fill="#231f20" font-family="'Liberation Sans', sans-serif" textLength="594" lengthAdjust="spacingAndGlyphs">h) Magnified patterns of (100) plane. i) HRTEM image of the GA-acid QDs and j) magnified and fitting image. k) Schematic diagram of near-surface</text>
<text x="10.5" y="733" font-size="9.8" fill="#231f20" font-family="'Liberation Sans', sans-serif" textLength="142.5" lengthAdjust="spacingAndGlyphs">lattice bending of QDs under strain.</text>
</svg></body></html>
